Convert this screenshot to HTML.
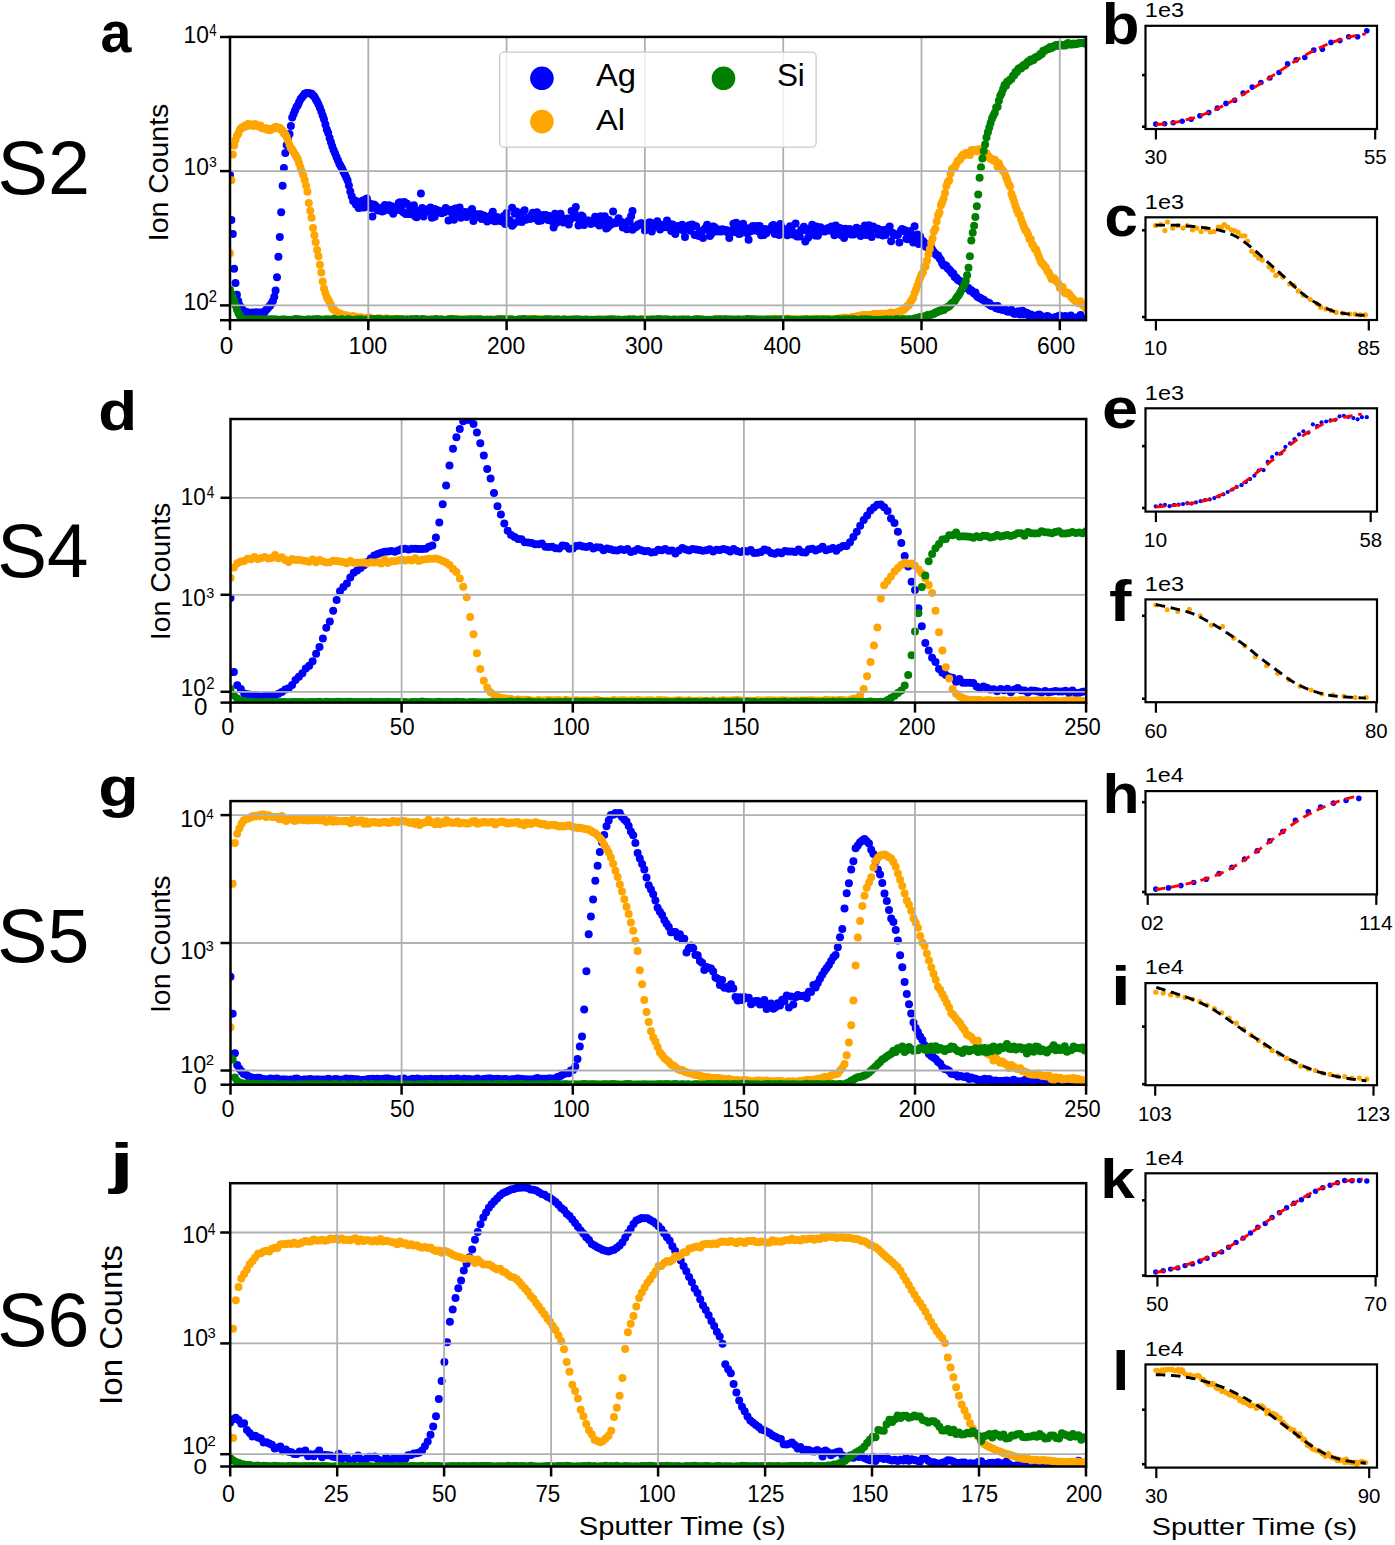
<!DOCTYPE html>
<html><head><meta charset="utf-8"><style>html,body{margin:0;padding:0;background:#fff;overflow:hidden;}svg{display:block;}svg text{font-family:"Liberation Sans",sans-serif;}</style></head><body>
<svg width="1395" height="1545" viewBox="0 0 1395 1545" font-family="Liberation Sans, sans-serif">
<rect width="1395" height="1545" fill="#fff"/>
<clipPath id="cpa"><rect x="230" y="36.9" width="856" height="283.3"/></clipPath>
<g clip-path="url(#cpa)">
<g fill="#0000ff"><circle cx="230.0" cy="175.0" r="4.0"/><circle cx="231.4" cy="220.1" r="4.0"/><circle cx="232.8" cy="233.9" r="4.0"/><circle cx="234.1" cy="268.7" r="4.0"/><circle cx="235.5" cy="282.9" r="4.0"/><circle cx="236.9" cy="294.7" r="4.0"/><circle cx="238.3" cy="301.1" r="4.0"/><circle cx="239.7" cy="305.4" r="4.0"/><circle cx="241.1" cy="307.6" r="4.0"/><circle cx="242.4" cy="309.6" r="4.0"/><circle cx="243.8" cy="311.1" r="4.0"/><circle cx="245.2" cy="311.8" r="4.0"/><circle cx="246.6" cy="312.2" r="4.0"/><circle cx="248.0" cy="312.4" r="4.0"/><circle cx="249.4" cy="312.9" r="4.0"/><circle cx="250.7" cy="313.2" r="4.0"/><circle cx="252.1" cy="312.6" r="4.0"/><circle cx="253.5" cy="312.9" r="4.0"/><circle cx="254.9" cy="312.4" r="4.0"/><circle cx="256.3" cy="312.6" r="4.0"/><circle cx="257.7" cy="312.4" r="4.0"/><circle cx="259.0" cy="312.9" r="4.0"/><circle cx="260.4" cy="312.5" r="4.0"/><circle cx="261.8" cy="312.7" r="4.0"/><circle cx="263.2" cy="312.4" r="4.0"/><circle cx="264.6" cy="311.9" r="4.0"/><circle cx="266.0" cy="310.1" r="4.0"/><circle cx="267.3" cy="308.7" r="4.0"/><circle cx="268.7" cy="307.0" r="4.0"/><circle cx="270.1" cy="305.7" r="4.0"/><circle cx="271.5" cy="303.5" r="4.0"/><circle cx="272.9" cy="301.0" r="4.0"/><circle cx="274.3" cy="296.7" r="4.0"/><circle cx="275.6" cy="290.5" r="4.0"/><circle cx="277.0" cy="277.3" r="4.0"/><circle cx="278.4" cy="256.8" r="4.0"/><circle cx="279.8" cy="237.0" r="4.0"/><circle cx="281.2" cy="212.3" r="4.0"/><circle cx="282.6" cy="185.8" r="4.0"/><circle cx="283.9" cy="168.0" r="4.0"/><circle cx="285.3" cy="153.0" r="4.0"/><circle cx="286.7" cy="145.0" r="4.0"/><circle cx="288.1" cy="139.1" r="4.0"/><circle cx="289.5" cy="134.0" r="4.0"/><circle cx="290.9" cy="126.0" r="4.0"/><circle cx="292.2" cy="117.5" r="4.0"/><circle cx="293.6" cy="114.0" r="4.0"/><circle cx="295.0" cy="110.5" r="4.0"/><circle cx="296.4" cy="107.2" r="4.0"/><circle cx="297.8" cy="105.2" r="4.0"/><circle cx="299.1" cy="102.2" r="4.0"/><circle cx="300.5" cy="99.2" r="4.0"/><circle cx="301.9" cy="97.5" r="4.0"/><circle cx="303.3" cy="95.7" r="4.0"/><circle cx="304.7" cy="93.7" r="4.0"/><circle cx="306.1" cy="93.2" r="4.0"/><circle cx="307.4" cy="93.0" r="4.0"/><circle cx="308.8" cy="93.2" r="4.0"/><circle cx="310.2" cy="93.6" r="4.0"/><circle cx="311.6" cy="93.8" r="4.0"/><circle cx="313.0" cy="95.3" r="4.0"/><circle cx="314.4" cy="96.7" r="4.0"/><circle cx="315.7" cy="99.3" r="4.0"/><circle cx="317.1" cy="101.6" r="4.0"/><circle cx="318.5" cy="104.6" r="4.0"/><circle cx="319.9" cy="107.8" r="4.0"/><circle cx="321.3" cy="111.4" r="4.0"/><circle cx="322.7" cy="115.4" r="4.0"/><circle cx="324.0" cy="119.3" r="4.0"/><circle cx="325.4" cy="124.4" r="4.0"/><circle cx="326.8" cy="129.4" r="4.0"/><circle cx="328.2" cy="133.1" r="4.0"/><circle cx="329.6" cy="138.0" r="4.0"/><circle cx="331.0" cy="142.3" r="4.0"/><circle cx="332.3" cy="146.6" r="4.0"/><circle cx="333.7" cy="150.2" r="4.0"/><circle cx="335.1" cy="153.5" r="4.0"/><circle cx="336.5" cy="156.9" r="4.0"/><circle cx="337.9" cy="160.2" r="4.0"/><circle cx="339.3" cy="163.7" r="4.0"/><circle cx="340.6" cy="165.9" r="4.0"/><circle cx="342.0" cy="168.6" r="4.0"/><circle cx="343.4" cy="171.5" r="4.0"/><circle cx="344.8" cy="174.3" r="4.0"/><circle cx="346.2" cy="177.3" r="4.0"/><circle cx="347.6" cy="180.5" r="4.0"/><circle cx="348.9" cy="185.5" r="4.0"/><circle cx="350.3" cy="191.4" r="4.0"/><circle cx="351.7" cy="196.3" r="4.0"/><circle cx="353.1" cy="201.1" r="4.0"/><circle cx="354.5" cy="200.3" r="4.0"/><circle cx="355.9" cy="204.6" r="4.0"/><circle cx="357.2" cy="201.6" r="4.0"/><circle cx="358.6" cy="208.0" r="4.0"/><circle cx="360.0" cy="204.4" r="4.0"/><circle cx="361.4" cy="207.4" r="4.0"/><circle cx="362.8" cy="200.4" r="4.0"/><circle cx="364.2" cy="207.4" r="4.0"/><circle cx="365.5" cy="199.7" r="4.0"/><circle cx="366.9" cy="198.6" r="4.0"/><circle cx="368.3" cy="205.8" r="4.0"/><circle cx="369.7" cy="203.6" r="4.0"/><circle cx="371.1" cy="208.1" r="4.0"/><circle cx="372.4" cy="216.6" r="4.0"/><circle cx="373.8" cy="204.5" r="4.0"/><circle cx="375.2" cy="205.5" r="4.0"/><circle cx="376.6" cy="209.0" r="4.0"/><circle cx="378.0" cy="210.4" r="4.0"/><circle cx="379.4" cy="207.8" r="4.0"/><circle cx="380.7" cy="207.9" r="4.0"/><circle cx="382.1" cy="211.6" r="4.0"/><circle cx="383.5" cy="211.1" r="4.0"/><circle cx="384.9" cy="205.0" r="4.0"/><circle cx="386.3" cy="208.9" r="4.0"/><circle cx="387.7" cy="209.5" r="4.0"/><circle cx="389.0" cy="205.2" r="4.0"/><circle cx="390.4" cy="210.6" r="4.0"/><circle cx="391.8" cy="206.2" r="4.0"/><circle cx="393.2" cy="213.7" r="4.0"/><circle cx="394.6" cy="210.7" r="4.0"/><circle cx="396.0" cy="210.3" r="4.0"/><circle cx="397.3" cy="207.7" r="4.0"/><circle cx="398.7" cy="209.7" r="4.0"/><circle cx="400.1" cy="202.3" r="4.0"/><circle cx="401.5" cy="205.8" r="4.0"/><circle cx="402.9" cy="211.9" r="4.0"/><circle cx="404.3" cy="202.1" r="4.0"/><circle cx="405.6" cy="214.1" r="4.0"/><circle cx="407.0" cy="203.8" r="4.0"/><circle cx="408.4" cy="213.9" r="4.0"/><circle cx="409.8" cy="207.6" r="4.0"/><circle cx="411.2" cy="214.2" r="4.0"/><circle cx="412.6" cy="211.7" r="4.0"/><circle cx="413.9" cy="205.2" r="4.0"/><circle cx="415.3" cy="216.4" r="4.0"/><circle cx="416.7" cy="217.3" r="4.0"/><circle cx="418.1" cy="211.4" r="4.0"/><circle cx="419.5" cy="210.7" r="4.0"/><circle cx="420.9" cy="211.2" r="4.0"/><circle cx="422.2" cy="208.1" r="4.0"/><circle cx="423.6" cy="216.5" r="4.0"/><circle cx="425.0" cy="210.0" r="4.0"/><circle cx="426.4" cy="212.1" r="4.0"/><circle cx="427.8" cy="209.2" r="4.0"/><circle cx="429.2" cy="210.0" r="4.0"/><circle cx="430.5" cy="207.4" r="4.0"/><circle cx="431.9" cy="217.7" r="4.0"/><circle cx="433.3" cy="212.1" r="4.0"/><circle cx="434.7" cy="216.7" r="4.0"/><circle cx="436.1" cy="213.0" r="4.0"/><circle cx="437.4" cy="210.3" r="4.0"/><circle cx="438.8" cy="211.8" r="4.0"/><circle cx="440.2" cy="211.0" r="4.0"/><circle cx="441.6" cy="213.3" r="4.0"/><circle cx="443.0" cy="211.9" r="4.0"/><circle cx="444.4" cy="212.3" r="4.0"/><circle cx="445.7" cy="208.1" r="4.0"/><circle cx="447.1" cy="210.5" r="4.0"/><circle cx="448.5" cy="220.4" r="4.0"/><circle cx="449.9" cy="211.2" r="4.0"/><circle cx="451.3" cy="209.8" r="4.0"/><circle cx="452.7" cy="215.5" r="4.0"/><circle cx="454.0" cy="219.8" r="4.0"/><circle cx="455.4" cy="208.5" r="4.0"/><circle cx="456.8" cy="213.6" r="4.0"/><circle cx="458.2" cy="212.0" r="4.0"/><circle cx="459.6" cy="207.6" r="4.0"/><circle cx="461.0" cy="217.7" r="4.0"/><circle cx="462.3" cy="214.8" r="4.0"/><circle cx="463.7" cy="215.3" r="4.0"/><circle cx="465.1" cy="212.1" r="4.0"/><circle cx="466.5" cy="217.0" r="4.0"/><circle cx="467.9" cy="213.1" r="4.0"/><circle cx="469.3" cy="214.8" r="4.0"/><circle cx="470.6" cy="211.1" r="4.0"/><circle cx="472.0" cy="210.8" r="4.0"/><circle cx="473.4" cy="221.1" r="4.0"/><circle cx="474.8" cy="213.8" r="4.0"/><circle cx="476.2" cy="217.2" r="4.0"/><circle cx="477.6" cy="216.0" r="4.0"/><circle cx="478.9" cy="214.4" r="4.0"/><circle cx="480.3" cy="214.3" r="4.0"/><circle cx="481.7" cy="218.9" r="4.0"/><circle cx="483.1" cy="215.3" r="4.0"/><circle cx="484.5" cy="216.0" r="4.0"/><circle cx="485.9" cy="216.8" r="4.0"/><circle cx="487.2" cy="221.6" r="4.0"/><circle cx="488.6" cy="219.7" r="4.0"/><circle cx="490.0" cy="218.6" r="4.0"/><circle cx="491.4" cy="214.9" r="4.0"/><circle cx="492.8" cy="211.7" r="4.0"/><circle cx="494.2" cy="221.1" r="4.0"/><circle cx="495.5" cy="221.3" r="4.0"/><circle cx="496.9" cy="216.9" r="4.0"/><circle cx="498.3" cy="219.7" r="4.0"/><circle cx="499.7" cy="220.8" r="4.0"/><circle cx="501.1" cy="221.1" r="4.0"/><circle cx="502.5" cy="221.5" r="4.0"/><circle cx="503.8" cy="216.1" r="4.0"/><circle cx="505.2" cy="224.0" r="4.0"/><circle cx="506.6" cy="213.0" r="4.0"/><circle cx="508.0" cy="221.5" r="4.0"/><circle cx="509.4" cy="220.1" r="4.0"/><circle cx="510.7" cy="221.7" r="4.0"/><circle cx="512.1" cy="225.7" r="4.0"/><circle cx="513.5" cy="224.2" r="4.0"/><circle cx="514.9" cy="213.7" r="4.0"/><circle cx="516.3" cy="211.6" r="4.0"/><circle cx="517.7" cy="221.7" r="4.0"/><circle cx="519.0" cy="214.4" r="4.0"/><circle cx="520.4" cy="218.4" r="4.0"/><circle cx="521.8" cy="221.9" r="4.0"/><circle cx="523.2" cy="212.0" r="4.0"/><circle cx="524.6" cy="210.2" r="4.0"/><circle cx="526.0" cy="219.7" r="4.0"/><circle cx="527.3" cy="218.9" r="4.0"/><circle cx="528.7" cy="217.7" r="4.0"/><circle cx="530.1" cy="218.9" r="4.0"/><circle cx="531.5" cy="215.3" r="4.0"/><circle cx="532.9" cy="212.8" r="4.0"/><circle cx="534.3" cy="218.2" r="4.0"/><circle cx="535.6" cy="215.0" r="4.0"/><circle cx="537.0" cy="212.3" r="4.0"/><circle cx="538.4" cy="221.0" r="4.0"/><circle cx="539.8" cy="218.7" r="4.0"/><circle cx="541.2" cy="220.6" r="4.0"/><circle cx="542.6" cy="215.1" r="4.0"/><circle cx="543.9" cy="216.4" r="4.0"/><circle cx="545.3" cy="215.1" r="4.0"/><circle cx="546.7" cy="215.6" r="4.0"/><circle cx="548.1" cy="220.0" r="4.0"/><circle cx="549.5" cy="216.1" r="4.0"/><circle cx="550.9" cy="220.7" r="4.0"/><circle cx="552.2" cy="220.6" r="4.0"/><circle cx="553.6" cy="227.4" r="4.0"/><circle cx="555.0" cy="213.8" r="4.0"/><circle cx="556.4" cy="222.9" r="4.0"/><circle cx="557.8" cy="219.1" r="4.0"/><circle cx="559.2" cy="219.4" r="4.0"/><circle cx="560.5" cy="213.7" r="4.0"/><circle cx="561.9" cy="217.7" r="4.0"/><circle cx="563.3" cy="222.5" r="4.0"/><circle cx="564.7" cy="219.3" r="4.0"/><circle cx="566.1" cy="220.0" r="4.0"/><circle cx="567.5" cy="218.5" r="4.0"/><circle cx="568.8" cy="224.4" r="4.0"/><circle cx="570.2" cy="219.7" r="4.0"/><circle cx="571.6" cy="211.0" r="4.0"/><circle cx="573.0" cy="217.1" r="4.0"/><circle cx="574.4" cy="212.1" r="4.0"/><circle cx="575.8" cy="207.0" r="4.0"/><circle cx="577.1" cy="217.9" r="4.0"/><circle cx="578.5" cy="225.4" r="4.0"/><circle cx="579.9" cy="220.4" r="4.0"/><circle cx="581.3" cy="215.5" r="4.0"/><circle cx="582.7" cy="216.5" r="4.0"/><circle cx="584.0" cy="224.9" r="4.0"/><circle cx="585.4" cy="221.1" r="4.0"/><circle cx="586.8" cy="220.7" r="4.0"/><circle cx="588.2" cy="220.4" r="4.0"/><circle cx="589.6" cy="220.8" r="4.0"/><circle cx="591.0" cy="223.9" r="4.0"/><circle cx="592.3" cy="223.0" r="4.0"/><circle cx="593.7" cy="221.7" r="4.0"/><circle cx="595.1" cy="216.8" r="4.0"/><circle cx="596.5" cy="223.1" r="4.0"/><circle cx="597.9" cy="218.4" r="4.0"/><circle cx="599.3" cy="225.6" r="4.0"/><circle cx="600.6" cy="216.2" r="4.0"/><circle cx="602.0" cy="220.8" r="4.0"/><circle cx="603.4" cy="221.4" r="4.0"/><circle cx="604.8" cy="216.2" r="4.0"/><circle cx="606.2" cy="228.5" r="4.0"/><circle cx="607.6" cy="227.6" r="4.0"/><circle cx="608.9" cy="220.0" r="4.0"/><circle cx="610.3" cy="225.0" r="4.0"/><circle cx="611.7" cy="223.5" r="4.0"/><circle cx="613.1" cy="211.6" r="4.0"/><circle cx="614.5" cy="223.2" r="4.0"/><circle cx="615.9" cy="222.0" r="4.0"/><circle cx="617.2" cy="222.7" r="4.0"/><circle cx="618.6" cy="218.2" r="4.0"/><circle cx="620.0" cy="221.5" r="4.0"/><circle cx="621.4" cy="222.0" r="4.0"/><circle cx="622.8" cy="227.5" r="4.0"/><circle cx="624.2" cy="224.2" r="4.0"/><circle cx="625.5" cy="223.0" r="4.0"/><circle cx="626.9" cy="229.2" r="4.0"/><circle cx="628.3" cy="221.0" r="4.0"/><circle cx="629.7" cy="221.8" r="4.0"/><circle cx="631.1" cy="216.2" r="4.0"/><circle cx="632.5" cy="229.8" r="4.0"/><circle cx="633.8" cy="227.5" r="4.0"/><circle cx="635.2" cy="227.4" r="4.0"/><circle cx="636.6" cy="226.5" r="4.0"/><circle cx="638.0" cy="224.4" r="4.0"/><circle cx="639.4" cy="224.9" r="4.0"/><circle cx="640.8" cy="223.2" r="4.0"/><circle cx="642.1" cy="223.5" r="4.0"/><circle cx="643.5" cy="224.6" r="4.0"/><circle cx="644.9" cy="230.5" r="4.0"/><circle cx="646.3" cy="226.8" r="4.0"/><circle cx="647.7" cy="224.5" r="4.0"/><circle cx="649.0" cy="222.5" r="4.0"/><circle cx="650.4" cy="222.5" r="4.0"/><circle cx="651.8" cy="231.5" r="4.0"/><circle cx="653.2" cy="227.3" r="4.0"/><circle cx="654.6" cy="225.7" r="4.0"/><circle cx="656.0" cy="224.2" r="4.0"/><circle cx="657.3" cy="221.3" r="4.0"/><circle cx="658.7" cy="225.6" r="4.0"/><circle cx="660.1" cy="229.6" r="4.0"/><circle cx="661.5" cy="224.7" r="4.0"/><circle cx="662.9" cy="225.5" r="4.0"/><circle cx="664.3" cy="225.7" r="4.0"/><circle cx="665.6" cy="227.2" r="4.0"/><circle cx="667.0" cy="220.6" r="4.0"/><circle cx="668.4" cy="226.2" r="4.0"/><circle cx="669.8" cy="223.9" r="4.0"/><circle cx="671.2" cy="231.0" r="4.0"/><circle cx="672.6" cy="224.6" r="4.0"/><circle cx="673.9" cy="230.1" r="4.0"/><circle cx="675.3" cy="234.1" r="4.0"/><circle cx="676.7" cy="226.9" r="4.0"/><circle cx="678.1" cy="225.9" r="4.0"/><circle cx="679.5" cy="229.2" r="4.0"/><circle cx="680.9" cy="228.6" r="4.0"/><circle cx="682.2" cy="224.8" r="4.0"/><circle cx="683.6" cy="230.7" r="4.0"/><circle cx="685.0" cy="237.1" r="4.0"/><circle cx="686.4" cy="228.1" r="4.0"/><circle cx="687.8" cy="228.5" r="4.0"/><circle cx="689.2" cy="225.2" r="4.0"/><circle cx="690.5" cy="230.8" r="4.0"/><circle cx="691.9" cy="224.6" r="4.0"/><circle cx="693.3" cy="225.3" r="4.0"/><circle cx="694.7" cy="234.9" r="4.0"/><circle cx="696.1" cy="226.2" r="4.0"/><circle cx="697.5" cy="234.2" r="4.0"/><circle cx="698.8" cy="236.1" r="4.0"/><circle cx="700.2" cy="231.0" r="4.0"/><circle cx="701.6" cy="232.2" r="4.0"/><circle cx="703.0" cy="237.9" r="4.0"/><circle cx="704.4" cy="229.3" r="4.0"/><circle cx="705.8" cy="227.7" r="4.0"/><circle cx="707.1" cy="224.7" r="4.0"/><circle cx="708.5" cy="230.3" r="4.0"/><circle cx="709.9" cy="236.1" r="4.0"/><circle cx="711.3" cy="234.1" r="4.0"/><circle cx="712.7" cy="226.5" r="4.0"/><circle cx="714.0" cy="226.8" r="4.0"/><circle cx="715.4" cy="228.3" r="4.0"/><circle cx="716.8" cy="231.5" r="4.0"/><circle cx="718.2" cy="229.5" r="4.0"/><circle cx="719.6" cy="231.2" r="4.0"/><circle cx="721.0" cy="231.6" r="4.0"/><circle cx="722.3" cy="229.2" r="4.0"/><circle cx="723.7" cy="230.2" r="4.0"/><circle cx="725.1" cy="231.2" r="4.0"/><circle cx="726.5" cy="230.1" r="4.0"/><circle cx="727.9" cy="232.5" r="4.0"/><circle cx="729.3" cy="237.9" r="4.0"/><circle cx="730.6" cy="232.8" r="4.0"/><circle cx="732.0" cy="230.7" r="4.0"/><circle cx="733.4" cy="223.8" r="4.0"/><circle cx="734.8" cy="232.1" r="4.0"/><circle cx="736.2" cy="222.7" r="4.0"/><circle cx="737.6" cy="224.9" r="4.0"/><circle cx="738.9" cy="234.0" r="4.0"/><circle cx="740.3" cy="233.4" r="4.0"/><circle cx="741.7" cy="230.0" r="4.0"/><circle cx="743.1" cy="223.8" r="4.0"/><circle cx="744.5" cy="229.1" r="4.0"/><circle cx="745.9" cy="227.9" r="4.0"/><circle cx="747.2" cy="233.2" r="4.0"/><circle cx="748.6" cy="239.7" r="4.0"/><circle cx="750.0" cy="231.5" r="4.0"/><circle cx="751.4" cy="227.6" r="4.0"/><circle cx="752.8" cy="226.0" r="4.0"/><circle cx="754.2" cy="230.5" r="4.0"/><circle cx="755.5" cy="230.0" r="4.0"/><circle cx="756.9" cy="226.1" r="4.0"/><circle cx="758.3" cy="231.2" r="4.0"/><circle cx="759.7" cy="226.1" r="4.0"/><circle cx="761.1" cy="235.2" r="4.0"/><circle cx="762.5" cy="235.0" r="4.0"/><circle cx="763.8" cy="235.1" r="4.0"/><circle cx="765.2" cy="228.9" r="4.0"/><circle cx="766.6" cy="232.9" r="4.0"/><circle cx="768.0" cy="230.3" r="4.0"/><circle cx="769.4" cy="229.3" r="4.0"/><circle cx="770.8" cy="229.5" r="4.0"/><circle cx="772.1" cy="225.7" r="4.0"/><circle cx="773.5" cy="225.1" r="4.0"/><circle cx="774.9" cy="234.1" r="4.0"/><circle cx="776.3" cy="230.1" r="4.0"/><circle cx="777.7" cy="231.8" r="4.0"/><circle cx="779.1" cy="235.0" r="4.0"/><circle cx="780.4" cy="224.0" r="4.0"/><circle cx="781.8" cy="227.8" r="4.0"/><circle cx="783.2" cy="231.7" r="4.0"/><circle cx="784.6" cy="232.6" r="4.0"/><circle cx="786.0" cy="229.5" r="4.0"/><circle cx="787.3" cy="235.2" r="4.0"/><circle cx="788.7" cy="231.9" r="4.0"/><circle cx="790.1" cy="226.2" r="4.0"/><circle cx="791.5" cy="227.4" r="4.0"/><circle cx="792.9" cy="234.4" r="4.0"/><circle cx="794.3" cy="233.0" r="4.0"/><circle cx="795.6" cy="223.6" r="4.0"/><circle cx="797.0" cy="236.6" r="4.0"/><circle cx="798.4" cy="233.6" r="4.0"/><circle cx="799.8" cy="236.6" r="4.0"/><circle cx="801.2" cy="229.7" r="4.0"/><circle cx="802.6" cy="230.1" r="4.0"/><circle cx="803.9" cy="226.8" r="4.0"/><circle cx="805.3" cy="241.4" r="4.0"/><circle cx="806.7" cy="230.6" r="4.0"/><circle cx="808.1" cy="237.7" r="4.0"/><circle cx="809.5" cy="228.8" r="4.0"/><circle cx="810.9" cy="232.0" r="4.0"/><circle cx="812.2" cy="224.7" r="4.0"/><circle cx="813.6" cy="229.9" r="4.0"/><circle cx="815.0" cy="235.4" r="4.0"/><circle cx="816.4" cy="226.4" r="4.0"/><circle cx="817.8" cy="235.7" r="4.0"/><circle cx="819.2" cy="232.8" r="4.0"/><circle cx="820.5" cy="227.3" r="4.0"/><circle cx="821.9" cy="229.5" r="4.0"/><circle cx="823.3" cy="229.7" r="4.0"/><circle cx="824.7" cy="231.4" r="4.0"/><circle cx="826.1" cy="229.4" r="4.0"/><circle cx="827.5" cy="228.3" r="4.0"/><circle cx="828.8" cy="230.4" r="4.0"/><circle cx="830.2" cy="227.5" r="4.0"/><circle cx="831.6" cy="226.5" r="4.0"/><circle cx="833.0" cy="231.5" r="4.0"/><circle cx="834.4" cy="235.2" r="4.0"/><circle cx="835.8" cy="225.6" r="4.0"/><circle cx="837.1" cy="231.8" r="4.0"/><circle cx="838.5" cy="229.2" r="4.0"/><circle cx="839.9" cy="227.9" r="4.0"/><circle cx="841.3" cy="235.2" r="4.0"/><circle cx="842.7" cy="229.8" r="4.0"/><circle cx="844.1" cy="237.9" r="4.0"/><circle cx="845.4" cy="228.8" r="4.0"/><circle cx="846.8" cy="233.5" r="4.0"/><circle cx="848.2" cy="231.1" r="4.0"/><circle cx="849.6" cy="229.0" r="4.0"/><circle cx="851.0" cy="234.4" r="4.0"/><circle cx="852.4" cy="231.5" r="4.0"/><circle cx="853.7" cy="234.5" r="4.0"/><circle cx="855.1" cy="232.0" r="4.0"/><circle cx="856.5" cy="227.8" r="4.0"/><circle cx="857.9" cy="231.8" r="4.0"/><circle cx="859.3" cy="232.5" r="4.0"/><circle cx="860.6" cy="236.1" r="4.0"/><circle cx="862.0" cy="228.7" r="4.0"/><circle cx="863.4" cy="232.2" r="4.0"/><circle cx="864.8" cy="225.5" r="4.0"/><circle cx="866.2" cy="235.1" r="4.0"/><circle cx="867.6" cy="228.2" r="4.0"/><circle cx="868.9" cy="225.3" r="4.0"/><circle cx="870.3" cy="232.4" r="4.0"/><circle cx="871.7" cy="237.1" r="4.0"/><circle cx="873.1" cy="226.6" r="4.0"/><circle cx="874.5" cy="228.4" r="4.0"/><circle cx="875.9" cy="229.9" r="4.0"/><circle cx="877.2" cy="228.4" r="4.0"/><circle cx="878.6" cy="234.5" r="4.0"/><circle cx="880.0" cy="229.8" r="4.0"/><circle cx="881.4" cy="230.2" r="4.0"/><circle cx="882.8" cy="235.6" r="4.0"/><circle cx="884.2" cy="230.3" r="4.0"/><circle cx="885.5" cy="235.1" r="4.0"/><circle cx="886.9" cy="229.6" r="4.0"/><circle cx="888.3" cy="228.8" r="4.0"/><circle cx="889.7" cy="226.4" r="4.0"/><circle cx="891.1" cy="241.3" r="4.0"/><circle cx="892.5" cy="232.7" r="4.0"/><circle cx="893.8" cy="235.1" r="4.0"/><circle cx="895.2" cy="234.2" r="4.0"/><circle cx="896.6" cy="235.1" r="4.0"/><circle cx="898.0" cy="234.8" r="4.0"/><circle cx="899.4" cy="242.4" r="4.0"/><circle cx="900.8" cy="230.8" r="4.0"/><circle cx="902.1" cy="228.9" r="4.0"/><circle cx="903.5" cy="231.3" r="4.0"/><circle cx="904.9" cy="230.2" r="4.0"/><circle cx="906.3" cy="238.7" r="4.0"/><circle cx="907.7" cy="239.3" r="4.0"/><circle cx="909.1" cy="232.4" r="4.0"/><circle cx="910.4" cy="230.9" r="4.0"/><circle cx="911.8" cy="235.3" r="4.0"/><circle cx="913.2" cy="242.6" r="4.0"/><circle cx="914.6" cy="226.2" r="4.0"/><circle cx="916.0" cy="240.3" r="4.0"/><circle cx="917.4" cy="234.6" r="4.0"/><circle cx="918.7" cy="243.9" r="4.0"/><circle cx="920.1" cy="236.4" r="4.0"/><circle cx="921.5" cy="241.3" r="4.0"/><circle cx="922.9" cy="240.9" r="4.0"/><circle cx="924.3" cy="242.7" r="4.0"/><circle cx="925.6" cy="246.6" r="4.0"/><circle cx="927.0" cy="247.1" r="4.0"/><circle cx="928.4" cy="246.8" r="4.0"/><circle cx="929.8" cy="247.3" r="4.0"/><circle cx="931.2" cy="247.3" r="4.0"/><circle cx="932.6" cy="250.5" r="4.0"/><circle cx="933.9" cy="252.3" r="4.0"/><circle cx="935.3" cy="253.7" r="4.0"/><circle cx="936.7" cy="255.2" r="4.0"/><circle cx="938.1" cy="255.5" r="4.0"/><circle cx="939.5" cy="258.3" r="4.0"/><circle cx="940.9" cy="259.9" r="4.0"/><circle cx="942.2" cy="263.2" r="4.0"/><circle cx="943.6" cy="265.6" r="4.0"/><circle cx="945.0" cy="264.9" r="4.0"/><circle cx="946.4" cy="265.9" r="4.0"/><circle cx="947.8" cy="268.4" r="4.0"/><circle cx="949.2" cy="269.4" r="4.0"/><circle cx="950.5" cy="270.9" r="4.0"/><circle cx="951.9" cy="273.2" r="4.0"/><circle cx="953.3" cy="273.5" r="4.0"/><circle cx="954.7" cy="277.0" r="4.0"/><circle cx="956.1" cy="277.6" r="4.0"/><circle cx="957.5" cy="279.5" r="4.0"/><circle cx="958.8" cy="280.4" r="4.0"/><circle cx="960.2" cy="281.1" r="4.0"/><circle cx="961.6" cy="282.2" r="4.0"/><circle cx="963.0" cy="284.3" r="4.0"/><circle cx="964.4" cy="285.2" r="4.0"/><circle cx="965.8" cy="287.4" r="4.0"/><circle cx="967.1" cy="288.3" r="4.0"/><circle cx="968.5" cy="287.9" r="4.0"/><circle cx="969.9" cy="290.7" r="4.0"/><circle cx="971.3" cy="290.2" r="4.0"/><circle cx="972.7" cy="292.1" r="4.0"/><circle cx="974.1" cy="293.6" r="4.0"/><circle cx="975.4" cy="292.5" r="4.0"/><circle cx="976.8" cy="296.1" r="4.0"/><circle cx="978.2" cy="297.2" r="4.0"/><circle cx="979.6" cy="297.8" r="4.0"/><circle cx="981.0" cy="298.5" r="4.0"/><circle cx="982.4" cy="299.5" r="4.0"/><circle cx="983.7" cy="299.7" r="4.0"/><circle cx="985.1" cy="301.5" r="4.0"/><circle cx="986.5" cy="302.1" r="4.0"/><circle cx="987.9" cy="303.7" r="4.0"/><circle cx="989.3" cy="303.0" r="4.0"/><circle cx="990.6" cy="305.5" r="4.0"/><circle cx="992.0" cy="306.1" r="4.0"/><circle cx="993.4" cy="306.3" r="4.0"/><circle cx="994.8" cy="306.5" r="4.0"/><circle cx="996.2" cy="308.2" r="4.0"/><circle cx="997.6" cy="306.0" r="4.0"/><circle cx="998.9" cy="309.0" r="4.0"/><circle cx="1000.3" cy="309.2" r="4.0"/><circle cx="1001.7" cy="309.6" r="4.0"/><circle cx="1003.1" cy="310.1" r="4.0"/><circle cx="1004.5" cy="309.2" r="4.0"/><circle cx="1005.9" cy="310.0" r="4.0"/><circle cx="1007.2" cy="311.5" r="4.0"/><circle cx="1008.6" cy="311.5" r="4.0"/><circle cx="1010.0" cy="311.6" r="4.0"/><circle cx="1011.4" cy="309.8" r="4.0"/><circle cx="1012.8" cy="312.6" r="4.0"/><circle cx="1014.2" cy="313.7" r="4.0"/><circle cx="1015.5" cy="313.7" r="4.0"/><circle cx="1016.9" cy="313.1" r="4.0"/><circle cx="1018.3" cy="311.2" r="4.0"/><circle cx="1019.7" cy="314.4" r="4.0"/><circle cx="1021.1" cy="313.3" r="4.0"/><circle cx="1022.5" cy="310.7" r="4.0"/><circle cx="1023.8" cy="314.4" r="4.0"/><circle cx="1025.2" cy="312.4" r="4.0"/><circle cx="1026.6" cy="312.8" r="4.0"/><circle cx="1028.0" cy="313.8" r="4.0"/><circle cx="1029.4" cy="316.3" r="4.0"/><circle cx="1030.8" cy="314.5" r="4.0"/><circle cx="1032.1" cy="315.5" r="4.0"/><circle cx="1033.5" cy="317.5" r="4.0"/><circle cx="1034.9" cy="317.5" r="4.0"/><circle cx="1036.3" cy="315.6" r="4.0"/><circle cx="1037.7" cy="315.6" r="4.0"/><circle cx="1039.1" cy="314.5" r="4.0"/><circle cx="1040.4" cy="315.4" r="4.0"/><circle cx="1041.8" cy="316.9" r="4.0"/><circle cx="1043.2" cy="317.0" r="4.0"/><circle cx="1044.6" cy="316.8" r="4.0"/><circle cx="1046.0" cy="317.9" r="4.0"/><circle cx="1047.4" cy="315.9" r="4.0"/><circle cx="1048.7" cy="316.9" r="4.0"/><circle cx="1050.1" cy="317.9" r="4.0"/><circle cx="1051.5" cy="317.8" r="4.0"/><circle cx="1052.9" cy="318.5" r="4.0"/><circle cx="1054.3" cy="317.8" r="4.0"/><circle cx="1055.7" cy="317.0" r="4.0"/><circle cx="1057.0" cy="317.9" r="4.0"/><circle cx="1058.4" cy="316.3" r="4.0"/><circle cx="1059.8" cy="315.6" r="4.0"/><circle cx="1061.2" cy="318.4" r="4.0"/><circle cx="1062.6" cy="317.7" r="4.0"/><circle cx="1063.9" cy="318.2" r="4.0"/><circle cx="1065.3" cy="315.9" r="4.0"/><circle cx="1066.7" cy="317.5" r="4.0"/><circle cx="1068.1" cy="317.3" r="4.0"/><circle cx="1069.5" cy="317.0" r="4.0"/><circle cx="1070.9" cy="315.4" r="4.0"/><circle cx="1072.2" cy="317.8" r="4.0"/><circle cx="1073.6" cy="319.3" r="4.0"/><circle cx="1075.0" cy="318.7" r="4.0"/><circle cx="1076.4" cy="317.6" r="4.0"/><circle cx="1077.8" cy="318.4" r="4.0"/><circle cx="1079.2" cy="319.3" r="4.0"/><circle cx="1080.5" cy="315.1" r="4.0"/><circle cx="1081.9" cy="318.3" r="4.0"/><circle cx="1083.3" cy="319.1" r="4.0"/><circle cx="1084.7" cy="319.3" r="4.0"/><circle cx="1086.1" cy="320.5" r="4.0"/><circle cx="1087.5" cy="319.9" r="4.0"/><circle cx="420.9" cy="193.5" r="4.0"/><circle cx="512.1" cy="207.7" r="4.0"/><circle cx="472.0" cy="209.0" r="4.0"/><circle cx="632.5" cy="211.0" r="4.0"/><circle cx="398.7" cy="203.0" r="4.0"/><circle cx="434.7" cy="209.0" r="4.0"/></g>
<g fill="#ffa500"><circle cx="230.0" cy="253.3" r="4.0"/><circle cx="231.4" cy="180.2" r="4.0"/><circle cx="232.8" cy="154.6" r="4.0"/><circle cx="234.1" cy="145.6" r="4.0"/><circle cx="235.5" cy="140.0" r="4.0"/><circle cx="236.9" cy="135.7" r="4.0"/><circle cx="238.3" cy="133.7" r="4.0"/><circle cx="239.7" cy="129.9" r="4.0"/><circle cx="241.1" cy="128.2" r="4.0"/><circle cx="242.4" cy="127.2" r="4.0"/><circle cx="243.8" cy="127.3" r="4.0"/><circle cx="245.2" cy="125.5" r="4.0"/><circle cx="246.6" cy="126.2" r="4.0"/><circle cx="248.0" cy="123.9" r="4.0"/><circle cx="249.4" cy="124.4" r="4.0"/><circle cx="250.7" cy="124.4" r="4.0"/><circle cx="252.1" cy="125.4" r="4.0"/><circle cx="253.5" cy="125.8" r="4.0"/><circle cx="254.9" cy="124.1" r="4.0"/><circle cx="256.3" cy="124.9" r="4.0"/><circle cx="257.7" cy="126.3" r="4.0"/><circle cx="259.0" cy="125.9" r="4.0"/><circle cx="260.4" cy="125.6" r="4.0"/><circle cx="261.8" cy="128.2" r="4.0"/><circle cx="263.2" cy="128.3" r="4.0"/><circle cx="264.6" cy="128.7" r="4.0"/><circle cx="266.0" cy="128.2" r="4.0"/><circle cx="267.3" cy="129.8" r="4.0"/><circle cx="268.7" cy="129.0" r="4.0"/><circle cx="270.1" cy="130.3" r="4.0"/><circle cx="271.5" cy="128.8" r="4.0"/><circle cx="272.9" cy="128.4" r="4.0"/><circle cx="274.3" cy="128.3" r="4.0"/><circle cx="275.6" cy="126.7" r="4.0"/><circle cx="277.0" cy="127.6" r="4.0"/><circle cx="278.4" cy="127.7" r="4.0"/><circle cx="279.8" cy="127.7" r="4.0"/><circle cx="281.2" cy="129.7" r="4.0"/><circle cx="282.6" cy="130.7" r="4.0"/><circle cx="283.9" cy="133.4" r="4.0"/><circle cx="285.3" cy="134.5" r="4.0"/><circle cx="286.7" cy="136.9" r="4.0"/><circle cx="288.1" cy="140.7" r="4.0"/><circle cx="289.5" cy="144.7" r="4.0"/><circle cx="290.9" cy="147.9" r="4.0"/><circle cx="292.2" cy="149.8" r="4.0"/><circle cx="293.6" cy="152.0" r="4.0"/><circle cx="295.0" cy="154.6" r="4.0"/><circle cx="296.4" cy="156.5" r="4.0"/><circle cx="297.8" cy="159.3" r="4.0"/><circle cx="299.1" cy="163.3" r="4.0"/><circle cx="300.5" cy="167.4" r="4.0"/><circle cx="301.9" cy="171.4" r="4.0"/><circle cx="303.3" cy="175.5" r="4.0"/><circle cx="304.7" cy="180.0" r="4.0"/><circle cx="306.1" cy="185.8" r="4.0"/><circle cx="307.4" cy="191.7" r="4.0"/><circle cx="308.8" cy="203.0" r="4.0"/><circle cx="310.2" cy="210.7" r="4.0"/><circle cx="311.6" cy="217.8" r="4.0"/><circle cx="313.0" cy="228.0" r="4.0"/><circle cx="314.4" cy="235.2" r="4.0"/><circle cx="315.7" cy="242.3" r="4.0"/><circle cx="317.1" cy="250.0" r="4.0"/><circle cx="318.5" cy="256.2" r="4.0"/><circle cx="319.9" cy="264.7" r="4.0"/><circle cx="321.3" cy="272.6" r="4.0"/><circle cx="322.7" cy="281.4" r="4.0"/><circle cx="324.0" cy="288.5" r="4.0"/><circle cx="325.4" cy="293.1" r="4.0"/><circle cx="326.8" cy="297.1" r="4.0"/><circle cx="328.2" cy="299.4" r="4.0"/><circle cx="329.6" cy="302.4" r="4.0"/><circle cx="331.0" cy="305.1" r="4.0"/><circle cx="332.3" cy="308.3" r="4.0"/><circle cx="333.7" cy="309.4" r="4.0"/><circle cx="335.1" cy="310.6" r="4.0"/><circle cx="336.5" cy="312.2" r="4.0"/><circle cx="337.9" cy="313.7" r="4.0"/><circle cx="339.3" cy="313.4" r="4.0"/><circle cx="340.6" cy="313.8" r="4.0"/><circle cx="342.0" cy="314.9" r="4.0"/><circle cx="343.4" cy="315.1" r="4.0"/><circle cx="344.8" cy="315.5" r="4.0"/><circle cx="346.2" cy="315.3" r="4.0"/><circle cx="347.6" cy="316.6" r="4.0"/><circle cx="348.9" cy="316.8" r="4.0"/><circle cx="350.3" cy="316.6" r="4.0"/><circle cx="351.7" cy="316.9" r="4.0"/><circle cx="353.1" cy="316.0" r="4.0"/><circle cx="354.5" cy="317.3" r="4.0"/><circle cx="355.9" cy="317.1" r="4.0"/><circle cx="357.2" cy="317.6" r="4.0"/><circle cx="358.6" cy="317.9" r="4.0"/><circle cx="360.0" cy="317.6" r="4.0"/><circle cx="361.4" cy="317.2" r="4.0"/><circle cx="362.8" cy="318.2" r="4.0"/><circle cx="364.2" cy="317.9" r="4.0"/><circle cx="365.5" cy="318.2" r="4.0"/><circle cx="366.9" cy="318.2" r="4.0"/><circle cx="368.3" cy="318.4" r="4.0"/><circle cx="369.7" cy="317.6" r="4.0"/><circle cx="371.1" cy="319.1" r="4.0"/><circle cx="372.4" cy="318.8" r="4.0"/><circle cx="373.8" cy="319.2" r="4.0"/><circle cx="375.2" cy="319.6" r="4.0"/><circle cx="376.6" cy="318.9" r="4.0"/><circle cx="378.0" cy="318.2" r="4.0"/><circle cx="379.4" cy="318.6" r="4.0"/><circle cx="380.7" cy="318.5" r="4.0"/><circle cx="382.1" cy="318.9" r="4.0"/><circle cx="383.5" cy="319.1" r="4.0"/><circle cx="384.9" cy="318.4" r="4.0"/><circle cx="386.3" cy="319.3" r="4.0"/><circle cx="387.7" cy="318.6" r="4.0"/><circle cx="389.0" cy="319.4" r="4.0"/><circle cx="390.4" cy="319.3" r="4.0"/><circle cx="391.8" cy="319.2" r="4.0"/><circle cx="393.2" cy="319.3" r="4.0"/><circle cx="394.6" cy="319.2" r="4.0"/><circle cx="396.0" cy="319.2" r="4.0"/><circle cx="397.3" cy="318.8" r="4.0"/><circle cx="398.7" cy="319.5" r="4.0"/><circle cx="400.1" cy="320.2" r="4.0"/><circle cx="401.5" cy="320.3" r="4.0"/><circle cx="402.9" cy="320.1" r="4.0"/><circle cx="404.3" cy="319.8" r="4.0"/><circle cx="405.6" cy="319.3" r="4.0"/><circle cx="407.0" cy="320.2" r="4.0"/><circle cx="408.4" cy="319.6" r="4.0"/><circle cx="409.8" cy="319.6" r="4.0"/><circle cx="411.2" cy="319.5" r="4.0"/><circle cx="412.6" cy="319.6" r="4.0"/><circle cx="413.9" cy="319.4" r="4.0"/><circle cx="415.3" cy="319.6" r="4.0"/><circle cx="416.7" cy="319.2" r="4.0"/><circle cx="418.1" cy="319.5" r="4.0"/><circle cx="419.5" cy="320.6" r="4.0"/><circle cx="420.9" cy="319.6" r="4.0"/><circle cx="422.2" cy="319.6" r="4.0"/><circle cx="423.6" cy="319.9" r="4.0"/><circle cx="425.0" cy="319.9" r="4.0"/><circle cx="426.4" cy="319.2" r="4.0"/><circle cx="427.8" cy="319.6" r="4.0"/><circle cx="429.2" cy="320.0" r="4.0"/><circle cx="430.5" cy="319.8" r="4.0"/><circle cx="431.9" cy="319.7" r="4.0"/><circle cx="433.3" cy="320.3" r="4.0"/><circle cx="434.7" cy="319.4" r="4.0"/><circle cx="436.1" cy="319.7" r="4.0"/><circle cx="437.4" cy="319.5" r="4.0"/><circle cx="438.8" cy="320.3" r="4.0"/><circle cx="440.2" cy="318.9" r="4.0"/><circle cx="441.6" cy="319.4" r="4.0"/><circle cx="443.0" cy="319.5" r="4.0"/><circle cx="444.4" cy="320.0" r="4.0"/><circle cx="445.7" cy="320.0" r="4.0"/><circle cx="447.1" cy="320.3" r="4.0"/><circle cx="448.5" cy="319.1" r="4.0"/><circle cx="449.9" cy="320.0" r="4.0"/><circle cx="451.3" cy="319.6" r="4.0"/><circle cx="452.7" cy="319.5" r="4.0"/><circle cx="454.0" cy="320.0" r="4.0"/><circle cx="455.4" cy="319.4" r="4.0"/><circle cx="456.8" cy="318.9" r="4.0"/><circle cx="458.2" cy="319.6" r="4.0"/><circle cx="459.6" cy="319.2" r="4.0"/><circle cx="461.0" cy="319.5" r="4.0"/><circle cx="462.3" cy="319.9" r="4.0"/><circle cx="463.7" cy="319.9" r="4.0"/><circle cx="465.1" cy="320.4" r="4.0"/><circle cx="466.5" cy="319.7" r="4.0"/><circle cx="467.9" cy="319.2" r="4.0"/><circle cx="469.3" cy="319.5" r="4.0"/><circle cx="470.6" cy="319.4" r="4.0"/><circle cx="472.0" cy="319.3" r="4.0"/><circle cx="473.4" cy="320.0" r="4.0"/><circle cx="474.8" cy="319.5" r="4.0"/><circle cx="476.2" cy="319.0" r="4.0"/><circle cx="477.6" cy="320.1" r="4.0"/><circle cx="478.9" cy="319.7" r="4.0"/><circle cx="480.3" cy="319.9" r="4.0"/><circle cx="481.7" cy="319.8" r="4.0"/><circle cx="483.1" cy="320.0" r="4.0"/><circle cx="484.5" cy="319.8" r="4.0"/><circle cx="485.9" cy="320.3" r="4.0"/><circle cx="487.2" cy="320.0" r="4.0"/><circle cx="488.6" cy="320.0" r="4.0"/><circle cx="490.0" cy="320.0" r="4.0"/><circle cx="491.4" cy="319.2" r="4.0"/><circle cx="492.8" cy="319.7" r="4.0"/><circle cx="494.2" cy="319.7" r="4.0"/><circle cx="495.5" cy="319.9" r="4.0"/><circle cx="496.9" cy="319.3" r="4.0"/><circle cx="498.3" cy="320.5" r="4.0"/><circle cx="499.7" cy="319.8" r="4.0"/><circle cx="501.1" cy="319.3" r="4.0"/><circle cx="502.5" cy="319.1" r="4.0"/><circle cx="503.8" cy="319.7" r="4.0"/><circle cx="505.2" cy="319.8" r="4.0"/><circle cx="506.6" cy="319.5" r="4.0"/><circle cx="508.0" cy="319.8" r="4.0"/><circle cx="509.4" cy="319.5" r="4.0"/><circle cx="510.7" cy="320.0" r="4.0"/><circle cx="512.1" cy="319.5" r="4.0"/><circle cx="513.5" cy="319.8" r="4.0"/><circle cx="514.9" cy="320.2" r="4.0"/><circle cx="516.3" cy="320.8" r="4.0"/><circle cx="517.7" cy="319.4" r="4.0"/><circle cx="519.0" cy="319.6" r="4.0"/><circle cx="520.4" cy="319.5" r="4.0"/><circle cx="521.8" cy="320.1" r="4.0"/><circle cx="523.2" cy="319.3" r="4.0"/><circle cx="524.6" cy="319.6" r="4.0"/><circle cx="526.0" cy="319.8" r="4.0"/><circle cx="527.3" cy="319.4" r="4.0"/><circle cx="528.7" cy="319.4" r="4.0"/><circle cx="530.1" cy="319.6" r="4.0"/><circle cx="531.5" cy="319.0" r="4.0"/><circle cx="532.9" cy="319.2" r="4.0"/><circle cx="534.3" cy="319.6" r="4.0"/><circle cx="535.6" cy="319.9" r="4.0"/><circle cx="537.0" cy="319.7" r="4.0"/><circle cx="538.4" cy="319.1" r="4.0"/><circle cx="539.8" cy="319.6" r="4.0"/><circle cx="541.2" cy="320.1" r="4.0"/><circle cx="542.6" cy="320.0" r="4.0"/><circle cx="543.9" cy="319.8" r="4.0"/><circle cx="545.3" cy="319.4" r="4.0"/><circle cx="546.7" cy="320.1" r="4.0"/><circle cx="548.1" cy="319.6" r="4.0"/><circle cx="549.5" cy="319.3" r="4.0"/><circle cx="550.9" cy="319.5" r="4.0"/><circle cx="552.2" cy="320.4" r="4.0"/><circle cx="553.6" cy="319.9" r="4.0"/><circle cx="555.0" cy="320.3" r="4.0"/><circle cx="556.4" cy="319.6" r="4.0"/><circle cx="557.8" cy="320.2" r="4.0"/><circle cx="559.2" cy="319.6" r="4.0"/><circle cx="560.5" cy="319.7" r="4.0"/><circle cx="561.9" cy="320.8" r="4.0"/><circle cx="563.3" cy="320.1" r="4.0"/><circle cx="564.7" cy="319.6" r="4.0"/><circle cx="566.1" cy="319.8" r="4.0"/><circle cx="567.5" cy="319.9" r="4.0"/><circle cx="568.8" cy="320.3" r="4.0"/><circle cx="570.2" cy="319.6" r="4.0"/><circle cx="571.6" cy="319.1" r="4.0"/><circle cx="573.0" cy="319.7" r="4.0"/><circle cx="574.4" cy="319.8" r="4.0"/><circle cx="575.8" cy="319.8" r="4.0"/><circle cx="577.1" cy="320.3" r="4.0"/><circle cx="578.5" cy="319.9" r="4.0"/><circle cx="579.9" cy="320.1" r="4.0"/><circle cx="581.3" cy="319.4" r="4.0"/><circle cx="582.7" cy="320.1" r="4.0"/><circle cx="584.0" cy="320.6" r="4.0"/><circle cx="585.4" cy="320.1" r="4.0"/><circle cx="586.8" cy="319.9" r="4.0"/><circle cx="588.2" cy="319.9" r="4.0"/><circle cx="589.6" cy="320.5" r="4.0"/><circle cx="591.0" cy="319.4" r="4.0"/><circle cx="592.3" cy="319.7" r="4.0"/><circle cx="593.7" cy="320.0" r="4.0"/><circle cx="595.1" cy="320.1" r="4.0"/><circle cx="596.5" cy="319.6" r="4.0"/><circle cx="597.9" cy="319.9" r="4.0"/><circle cx="599.3" cy="319.7" r="4.0"/><circle cx="600.6" cy="319.8" r="4.0"/><circle cx="602.0" cy="319.7" r="4.0"/><circle cx="603.4" cy="319.3" r="4.0"/><circle cx="604.8" cy="319.8" r="4.0"/><circle cx="606.2" cy="320.1" r="4.0"/><circle cx="607.6" cy="319.4" r="4.0"/><circle cx="608.9" cy="319.7" r="4.0"/><circle cx="610.3" cy="320.1" r="4.0"/><circle cx="611.7" cy="319.4" r="4.0"/><circle cx="613.1" cy="319.9" r="4.0"/><circle cx="614.5" cy="319.4" r="4.0"/><circle cx="615.9" cy="320.2" r="4.0"/><circle cx="617.2" cy="320.7" r="4.0"/><circle cx="618.6" cy="320.6" r="4.0"/><circle cx="620.0" cy="319.7" r="4.0"/><circle cx="621.4" cy="320.1" r="4.0"/><circle cx="622.8" cy="319.8" r="4.0"/><circle cx="624.2" cy="319.8" r="4.0"/><circle cx="625.5" cy="320.4" r="4.0"/><circle cx="626.9" cy="319.3" r="4.0"/><circle cx="628.3" cy="320.2" r="4.0"/><circle cx="629.7" cy="319.8" r="4.0"/><circle cx="631.1" cy="320.3" r="4.0"/><circle cx="632.5" cy="319.9" r="4.0"/><circle cx="633.8" cy="319.5" r="4.0"/><circle cx="635.2" cy="319.9" r="4.0"/><circle cx="636.6" cy="320.1" r="4.0"/><circle cx="638.0" cy="319.8" r="4.0"/><circle cx="639.4" cy="320.0" r="4.0"/><circle cx="640.8" cy="319.6" r="4.0"/><circle cx="642.1" cy="318.9" r="4.0"/><circle cx="643.5" cy="320.1" r="4.0"/><circle cx="644.9" cy="320.1" r="4.0"/><circle cx="646.3" cy="319.8" r="4.0"/><circle cx="647.7" cy="319.8" r="4.0"/><circle cx="649.0" cy="320.2" r="4.0"/><circle cx="650.4" cy="319.6" r="4.0"/><circle cx="651.8" cy="319.5" r="4.0"/><circle cx="653.2" cy="319.7" r="4.0"/><circle cx="654.6" cy="320.2" r="4.0"/><circle cx="656.0" cy="319.2" r="4.0"/><circle cx="657.3" cy="320.2" r="4.0"/><circle cx="658.7" cy="319.5" r="4.0"/><circle cx="660.1" cy="319.3" r="4.0"/><circle cx="661.5" cy="320.3" r="4.0"/><circle cx="662.9" cy="319.7" r="4.0"/><circle cx="664.3" cy="319.2" r="4.0"/><circle cx="665.6" cy="319.6" r="4.0"/><circle cx="667.0" cy="320.1" r="4.0"/><circle cx="668.4" cy="320.2" r="4.0"/><circle cx="669.8" cy="319.6" r="4.0"/><circle cx="671.2" cy="319.9" r="4.0"/><circle cx="672.6" cy="320.0" r="4.0"/><circle cx="673.9" cy="319.5" r="4.0"/><circle cx="675.3" cy="319.9" r="4.0"/><circle cx="676.7" cy="319.7" r="4.0"/><circle cx="678.1" cy="319.5" r="4.0"/><circle cx="679.5" cy="319.6" r="4.0"/><circle cx="680.9" cy="319.8" r="4.0"/><circle cx="682.2" cy="319.8" r="4.0"/><circle cx="683.6" cy="319.5" r="4.0"/><circle cx="685.0" cy="319.6" r="4.0"/><circle cx="686.4" cy="320.2" r="4.0"/><circle cx="687.8" cy="319.8" r="4.0"/><circle cx="689.2" cy="320.1" r="4.0"/><circle cx="690.5" cy="320.2" r="4.0"/><circle cx="691.9" cy="320.0" r="4.0"/><circle cx="693.3" cy="320.7" r="4.0"/><circle cx="694.7" cy="319.4" r="4.0"/><circle cx="696.1" cy="320.1" r="4.0"/><circle cx="697.5" cy="319.6" r="4.0"/><circle cx="698.8" cy="320.5" r="4.0"/><circle cx="700.2" cy="320.4" r="4.0"/><circle cx="701.6" cy="319.0" r="4.0"/><circle cx="703.0" cy="319.4" r="4.0"/><circle cx="704.4" cy="320.0" r="4.0"/><circle cx="705.8" cy="320.1" r="4.0"/><circle cx="707.1" cy="320.0" r="4.0"/><circle cx="708.5" cy="319.7" r="4.0"/><circle cx="709.9" cy="319.9" r="4.0"/><circle cx="711.3" cy="320.0" r="4.0"/><circle cx="712.7" cy="319.7" r="4.0"/><circle cx="714.0" cy="320.1" r="4.0"/><circle cx="715.4" cy="318.8" r="4.0"/><circle cx="716.8" cy="320.0" r="4.0"/><circle cx="718.2" cy="319.3" r="4.0"/><circle cx="719.6" cy="320.1" r="4.0"/><circle cx="721.0" cy="319.6" r="4.0"/><circle cx="722.3" cy="319.4" r="4.0"/><circle cx="723.7" cy="319.9" r="4.0"/><circle cx="725.1" cy="319.4" r="4.0"/><circle cx="726.5" cy="319.4" r="4.0"/><circle cx="727.9" cy="319.1" r="4.0"/><circle cx="729.3" cy="319.7" r="4.0"/><circle cx="730.6" cy="319.9" r="4.0"/><circle cx="732.0" cy="320.1" r="4.0"/><circle cx="733.4" cy="319.7" r="4.0"/><circle cx="734.8" cy="320.1" r="4.0"/><circle cx="736.2" cy="319.7" r="4.0"/><circle cx="737.6" cy="319.7" r="4.0"/><circle cx="738.9" cy="319.9" r="4.0"/><circle cx="740.3" cy="320.1" r="4.0"/><circle cx="741.7" cy="319.6" r="4.0"/><circle cx="743.1" cy="319.6" r="4.0"/><circle cx="744.5" cy="319.6" r="4.0"/><circle cx="745.9" cy="319.7" r="4.0"/><circle cx="747.2" cy="319.3" r="4.0"/><circle cx="748.6" cy="320.1" r="4.0"/><circle cx="750.0" cy="319.5" r="4.0"/><circle cx="751.4" cy="319.9" r="4.0"/><circle cx="752.8" cy="319.4" r="4.0"/><circle cx="754.2" cy="319.8" r="4.0"/><circle cx="755.5" cy="319.9" r="4.0"/><circle cx="756.9" cy="319.5" r="4.0"/><circle cx="758.3" cy="320.5" r="4.0"/><circle cx="759.7" cy="319.8" r="4.0"/><circle cx="761.1" cy="320.4" r="4.0"/><circle cx="762.5" cy="320.1" r="4.0"/><circle cx="763.8" cy="319.4" r="4.0"/><circle cx="765.2" cy="319.5" r="4.0"/><circle cx="766.6" cy="319.9" r="4.0"/><circle cx="768.0" cy="319.7" r="4.0"/><circle cx="769.4" cy="319.7" r="4.0"/><circle cx="770.8" cy="319.6" r="4.0"/><circle cx="772.1" cy="319.0" r="4.0"/><circle cx="773.5" cy="319.6" r="4.0"/><circle cx="774.9" cy="318.8" r="4.0"/><circle cx="776.3" cy="319.8" r="4.0"/><circle cx="777.7" cy="319.4" r="4.0"/><circle cx="779.1" cy="319.4" r="4.0"/><circle cx="780.4" cy="319.6" r="4.0"/><circle cx="781.8" cy="319.8" r="4.0"/><circle cx="783.2" cy="319.1" r="4.0"/><circle cx="784.6" cy="319.0" r="4.0"/><circle cx="786.0" cy="319.2" r="4.0"/><circle cx="787.3" cy="318.8" r="4.0"/><circle cx="788.7" cy="319.3" r="4.0"/><circle cx="790.1" cy="320.3" r="4.0"/><circle cx="791.5" cy="319.2" r="4.0"/><circle cx="792.9" cy="319.9" r="4.0"/><circle cx="794.3" cy="319.1" r="4.0"/><circle cx="795.6" cy="319.8" r="4.0"/><circle cx="797.0" cy="319.5" r="4.0"/><circle cx="798.4" cy="319.6" r="4.0"/><circle cx="799.8" cy="319.9" r="4.0"/><circle cx="801.2" cy="320.3" r="4.0"/><circle cx="802.6" cy="319.7" r="4.0"/><circle cx="803.9" cy="319.7" r="4.0"/><circle cx="805.3" cy="319.2" r="4.0"/><circle cx="806.7" cy="319.9" r="4.0"/><circle cx="808.1" cy="319.5" r="4.0"/><circle cx="809.5" cy="320.0" r="4.0"/><circle cx="810.9" cy="319.6" r="4.0"/><circle cx="812.2" cy="320.3" r="4.0"/><circle cx="813.6" cy="318.8" r="4.0"/><circle cx="815.0" cy="319.5" r="4.0"/><circle cx="816.4" cy="320.0" r="4.0"/><circle cx="817.8" cy="319.5" r="4.0"/><circle cx="819.2" cy="319.3" r="4.0"/><circle cx="820.5" cy="319.5" r="4.0"/><circle cx="821.9" cy="319.1" r="4.0"/><circle cx="823.3" cy="319.7" r="4.0"/><circle cx="824.7" cy="320.6" r="4.0"/><circle cx="826.1" cy="320.1" r="4.0"/><circle cx="827.5" cy="319.1" r="4.0"/><circle cx="828.8" cy="319.2" r="4.0"/><circle cx="830.2" cy="319.4" r="4.0"/><circle cx="831.6" cy="319.9" r="4.0"/><circle cx="833.0" cy="319.1" r="4.0"/><circle cx="834.4" cy="319.0" r="4.0"/><circle cx="835.8" cy="319.6" r="4.0"/><circle cx="837.1" cy="319.4" r="4.0"/><circle cx="838.5" cy="318.8" r="4.0"/><circle cx="839.9" cy="318.4" r="4.0"/><circle cx="841.3" cy="318.1" r="4.0"/><circle cx="842.7" cy="318.3" r="4.0"/><circle cx="844.1" cy="317.5" r="4.0"/><circle cx="845.4" cy="318.5" r="4.0"/><circle cx="846.8" cy="317.8" r="4.0"/><circle cx="848.2" cy="318.1" r="4.0"/><circle cx="849.6" cy="318.5" r="4.0"/><circle cx="851.0" cy="318.0" r="4.0"/><circle cx="852.4" cy="316.9" r="4.0"/><circle cx="853.7" cy="317.5" r="4.0"/><circle cx="855.1" cy="317.4" r="4.0"/><circle cx="856.5" cy="316.5" r="4.0"/><circle cx="857.9" cy="316.2" r="4.0"/><circle cx="859.3" cy="316.4" r="4.0"/><circle cx="860.6" cy="315.6" r="4.0"/><circle cx="862.0" cy="316.6" r="4.0"/><circle cx="863.4" cy="314.9" r="4.0"/><circle cx="864.8" cy="315.2" r="4.0"/><circle cx="866.2" cy="315.4" r="4.0"/><circle cx="867.6" cy="315.3" r="4.0"/><circle cx="868.9" cy="315.2" r="4.0"/><circle cx="870.3" cy="315.1" r="4.0"/><circle cx="871.7" cy="314.8" r="4.0"/><circle cx="873.1" cy="315.2" r="4.0"/><circle cx="874.5" cy="313.8" r="4.0"/><circle cx="875.9" cy="314.5" r="4.0"/><circle cx="877.2" cy="314.1" r="4.0"/><circle cx="878.6" cy="314.4" r="4.0"/><circle cx="880.0" cy="314.3" r="4.0"/><circle cx="881.4" cy="313.7" r="4.0"/><circle cx="882.8" cy="313.7" r="4.0"/><circle cx="884.2" cy="314.2" r="4.0"/><circle cx="885.5" cy="313.9" r="4.0"/><circle cx="886.9" cy="313.4" r="4.0"/><circle cx="888.3" cy="314.3" r="4.0"/><circle cx="889.7" cy="314.3" r="4.0"/><circle cx="891.1" cy="312.6" r="4.0"/><circle cx="892.5" cy="313.1" r="4.0"/><circle cx="893.8" cy="313.8" r="4.0"/><circle cx="895.2" cy="312.9" r="4.0"/><circle cx="896.6" cy="312.4" r="4.0"/><circle cx="898.0" cy="312.0" r="4.0"/><circle cx="899.4" cy="311.5" r="4.0"/><circle cx="900.8" cy="311.1" r="4.0"/><circle cx="902.1" cy="310.3" r="4.0"/><circle cx="903.5" cy="310.0" r="4.0"/><circle cx="904.9" cy="308.5" r="4.0"/><circle cx="906.3" cy="307.3" r="4.0"/><circle cx="907.7" cy="305.7" r="4.0"/><circle cx="909.1" cy="304.7" r="4.0"/><circle cx="910.4" cy="301.9" r="4.0"/><circle cx="911.8" cy="299.9" r="4.0"/><circle cx="913.2" cy="297.7" r="4.0"/><circle cx="914.6" cy="292.9" r="4.0"/><circle cx="916.0" cy="289.4" r="4.0"/><circle cx="917.4" cy="285.7" r="4.0"/><circle cx="918.7" cy="281.8" r="4.0"/><circle cx="920.1" cy="278.1" r="4.0"/><circle cx="921.5" cy="274.4" r="4.0"/><circle cx="922.9" cy="272.5" r="4.0"/><circle cx="924.3" cy="266.8" r="4.0"/><circle cx="925.6" cy="266.4" r="4.0"/><circle cx="927.0" cy="260.5" r="4.0"/><circle cx="928.4" cy="254.3" r="4.0"/><circle cx="929.8" cy="248.9" r="4.0"/><circle cx="931.2" cy="243.0" r="4.0"/><circle cx="932.6" cy="238.4" r="4.0"/><circle cx="933.9" cy="231.6" r="4.0"/><circle cx="935.3" cy="228.8" r="4.0"/><circle cx="936.7" cy="221.6" r="4.0"/><circle cx="938.1" cy="215.2" r="4.0"/><circle cx="939.5" cy="212.3" r="4.0"/><circle cx="940.9" cy="205.3" r="4.0"/><circle cx="942.2" cy="202.2" r="4.0"/><circle cx="943.6" cy="198.4" r="4.0"/><circle cx="945.0" cy="193.1" r="4.0"/><circle cx="946.4" cy="185.9" r="4.0"/><circle cx="947.8" cy="182.0" r="4.0"/><circle cx="949.2" cy="180.3" r="4.0"/><circle cx="950.5" cy="173.4" r="4.0"/><circle cx="951.9" cy="169.3" r="4.0"/><circle cx="953.3" cy="168.1" r="4.0"/><circle cx="954.7" cy="167.8" r="4.0"/><circle cx="956.1" cy="164.5" r="4.0"/><circle cx="957.5" cy="161.4" r="4.0"/><circle cx="958.8" cy="160.2" r="4.0"/><circle cx="960.2" cy="159.2" r="4.0"/><circle cx="961.6" cy="156.4" r="4.0"/><circle cx="963.0" cy="154.7" r="4.0"/><circle cx="964.4" cy="155.2" r="4.0"/><circle cx="965.8" cy="153.0" r="4.0"/><circle cx="967.1" cy="153.4" r="4.0"/><circle cx="968.5" cy="152.9" r="4.0"/><circle cx="969.9" cy="155.0" r="4.0"/><circle cx="971.3" cy="150.2" r="4.0"/><circle cx="972.7" cy="150.6" r="4.0"/><circle cx="974.1" cy="150.1" r="4.0"/><circle cx="975.4" cy="150.6" r="4.0"/><circle cx="976.8" cy="151.4" r="4.0"/><circle cx="978.2" cy="149.6" r="4.0"/><circle cx="979.6" cy="149.7" r="4.0"/><circle cx="981.0" cy="149.3" r="4.0"/><circle cx="982.4" cy="151.1" r="4.0"/><circle cx="983.7" cy="153.9" r="4.0"/><circle cx="985.1" cy="154.1" r="4.0"/><circle cx="986.5" cy="153.6" r="4.0"/><circle cx="987.9" cy="155.5" r="4.0"/><circle cx="989.3" cy="157.2" r="4.0"/><circle cx="990.6" cy="159.0" r="4.0"/><circle cx="992.0" cy="158.9" r="4.0"/><circle cx="993.4" cy="160.6" r="4.0"/><circle cx="994.8" cy="159.8" r="4.0"/><circle cx="996.2" cy="161.9" r="4.0"/><circle cx="997.6" cy="166.8" r="4.0"/><circle cx="998.9" cy="163.2" r="4.0"/><circle cx="1000.3" cy="167.1" r="4.0"/><circle cx="1001.7" cy="169.5" r="4.0"/><circle cx="1003.1" cy="170.8" r="4.0"/><circle cx="1004.5" cy="172.8" r="4.0"/><circle cx="1005.9" cy="176.7" r="4.0"/><circle cx="1007.2" cy="180.1" r="4.0"/><circle cx="1008.6" cy="183.9" r="4.0"/><circle cx="1010.0" cy="186.4" r="4.0"/><circle cx="1011.4" cy="193.7" r="4.0"/><circle cx="1012.8" cy="197.6" r="4.0"/><circle cx="1014.2" cy="201.8" r="4.0"/><circle cx="1015.5" cy="206.3" r="4.0"/><circle cx="1016.9" cy="210.1" r="4.0"/><circle cx="1018.3" cy="213.5" r="4.0"/><circle cx="1019.7" cy="214.7" r="4.0"/><circle cx="1021.1" cy="219.6" r="4.0"/><circle cx="1022.5" cy="223.2" r="4.0"/><circle cx="1023.8" cy="226.4" r="4.0"/><circle cx="1025.2" cy="230.1" r="4.0"/><circle cx="1026.6" cy="231.4" r="4.0"/><circle cx="1028.0" cy="234.6" r="4.0"/><circle cx="1029.4" cy="239.1" r="4.0"/><circle cx="1030.8" cy="239.2" r="4.0"/><circle cx="1032.1" cy="244.1" r="4.0"/><circle cx="1033.5" cy="246.0" r="4.0"/><circle cx="1034.9" cy="249.0" r="4.0"/><circle cx="1036.3" cy="249.8" r="4.0"/><circle cx="1037.7" cy="253.5" r="4.0"/><circle cx="1039.1" cy="257.2" r="4.0"/><circle cx="1040.4" cy="260.8" r="4.0"/><circle cx="1041.8" cy="263.3" r="4.0"/><circle cx="1043.2" cy="264.2" r="4.0"/><circle cx="1044.6" cy="266.3" r="4.0"/><circle cx="1046.0" cy="267.7" r="4.0"/><circle cx="1047.4" cy="271.3" r="4.0"/><circle cx="1048.7" cy="272.5" r="4.0"/><circle cx="1050.1" cy="275.6" r="4.0"/><circle cx="1051.5" cy="279.0" r="4.0"/><circle cx="1052.9" cy="278.5" r="4.0"/><circle cx="1054.3" cy="278.3" r="4.0"/><circle cx="1055.7" cy="280.8" r="4.0"/><circle cx="1057.0" cy="281.5" r="4.0"/><circle cx="1058.4" cy="283.4" r="4.0"/><circle cx="1059.8" cy="288.1" r="4.0"/><circle cx="1061.2" cy="288.1" r="4.0"/><circle cx="1062.6" cy="287.1" r="4.0"/><circle cx="1063.9" cy="291.2" r="4.0"/><circle cx="1065.3" cy="293.3" r="4.0"/><circle cx="1066.7" cy="292.4" r="4.0"/><circle cx="1068.1" cy="293.1" r="4.0"/><circle cx="1069.5" cy="294.6" r="4.0"/><circle cx="1070.9" cy="296.5" r="4.0"/><circle cx="1072.2" cy="297.9" r="4.0"/><circle cx="1073.6" cy="299.6" r="4.0"/><circle cx="1075.0" cy="300.7" r="4.0"/><circle cx="1076.4" cy="301.6" r="4.0"/><circle cx="1077.8" cy="302.9" r="4.0"/><circle cx="1079.2" cy="303.0" r="4.0"/><circle cx="1080.5" cy="301.2" r="4.0"/><circle cx="1081.9" cy="304.0" r="4.0"/><circle cx="1083.3" cy="305.6" r="4.0"/><circle cx="1084.7" cy="305.7" r="4.0"/><circle cx="1086.1" cy="308.4" r="4.0"/><circle cx="1087.5" cy="307.7" r="4.0"/></g>
<g fill="#008000"><circle cx="230.0" cy="289.7" r="4.0"/><circle cx="231.4" cy="293.8" r="4.0"/><circle cx="232.8" cy="297.2" r="4.0"/><circle cx="234.1" cy="301.0" r="4.0"/><circle cx="235.5" cy="305.3" r="4.0"/><circle cx="236.9" cy="309.5" r="4.0"/><circle cx="238.3" cy="313.1" r="4.0"/><circle cx="239.7" cy="315.6" r="4.0"/><circle cx="241.1" cy="318.3" r="4.0"/><circle cx="242.4" cy="319.1" r="4.0"/><circle cx="243.8" cy="319.2" r="4.0"/><circle cx="245.2" cy="319.6" r="4.0"/><circle cx="246.6" cy="319.9" r="4.0"/><circle cx="248.0" cy="319.4" r="4.0"/><circle cx="249.4" cy="319.2" r="4.0"/><circle cx="250.7" cy="320.1" r="4.0"/><circle cx="252.1" cy="319.4" r="4.0"/><circle cx="253.5" cy="319.2" r="4.0"/><circle cx="254.9" cy="319.6" r="4.0"/><circle cx="256.3" cy="319.7" r="4.0"/><circle cx="257.7" cy="319.3" r="4.0"/><circle cx="259.0" cy="319.8" r="4.0"/><circle cx="260.4" cy="319.4" r="4.0"/><circle cx="261.8" cy="319.3" r="4.0"/><circle cx="263.2" cy="319.6" r="4.0"/><circle cx="264.6" cy="319.8" r="4.0"/><circle cx="266.0" cy="319.4" r="4.0"/><circle cx="267.3" cy="319.6" r="4.0"/><circle cx="268.7" cy="319.5" r="4.0"/><circle cx="270.1" cy="320.4" r="4.0"/><circle cx="271.5" cy="319.3" r="4.0"/><circle cx="272.9" cy="320.0" r="4.0"/><circle cx="274.3" cy="319.5" r="4.0"/><circle cx="275.6" cy="319.5" r="4.0"/><circle cx="277.0" cy="319.8" r="4.0"/><circle cx="278.4" cy="319.8" r="4.0"/><circle cx="279.8" cy="320.0" r="4.0"/><circle cx="281.2" cy="319.7" r="4.0"/><circle cx="282.6" cy="319.4" r="4.0"/><circle cx="283.9" cy="319.4" r="4.0"/><circle cx="285.3" cy="319.7" r="4.0"/><circle cx="286.7" cy="319.8" r="4.0"/><circle cx="288.1" cy="320.0" r="4.0"/><circle cx="289.5" cy="319.7" r="4.0"/><circle cx="290.9" cy="319.9" r="4.0"/><circle cx="292.2" cy="320.1" r="4.0"/><circle cx="293.6" cy="319.6" r="4.0"/><circle cx="295.0" cy="319.2" r="4.0"/><circle cx="296.4" cy="319.2" r="4.0"/><circle cx="297.8" cy="319.2" r="4.0"/><circle cx="299.1" cy="320.1" r="4.0"/><circle cx="300.5" cy="319.4" r="4.0"/><circle cx="301.9" cy="320.0" r="4.0"/><circle cx="303.3" cy="319.8" r="4.0"/><circle cx="304.7" cy="320.1" r="4.0"/><circle cx="306.1" cy="319.9" r="4.0"/><circle cx="307.4" cy="319.6" r="4.0"/><circle cx="308.8" cy="319.6" r="4.0"/><circle cx="310.2" cy="319.7" r="4.0"/><circle cx="311.6" cy="319.7" r="4.0"/><circle cx="313.0" cy="319.5" r="4.0"/><circle cx="314.4" cy="319.6" r="4.0"/><circle cx="315.7" cy="320.1" r="4.0"/><circle cx="317.1" cy="319.1" r="4.0"/><circle cx="318.5" cy="319.7" r="4.0"/><circle cx="319.9" cy="319.4" r="4.0"/><circle cx="321.3" cy="319.7" r="4.0"/><circle cx="322.7" cy="319.9" r="4.0"/><circle cx="324.0" cy="319.6" r="4.0"/><circle cx="325.4" cy="319.9" r="4.0"/><circle cx="326.8" cy="319.2" r="4.0"/><circle cx="328.2" cy="320.0" r="4.0"/><circle cx="329.6" cy="319.5" r="4.0"/><circle cx="331.0" cy="319.8" r="4.0"/><circle cx="332.3" cy="319.7" r="4.0"/><circle cx="333.7" cy="318.9" r="4.0"/><circle cx="335.1" cy="319.4" r="4.0"/><circle cx="336.5" cy="319.7" r="4.0"/><circle cx="337.9" cy="320.1" r="4.0"/><circle cx="339.3" cy="319.8" r="4.0"/><circle cx="340.6" cy="319.7" r="4.0"/><circle cx="342.0" cy="319.2" r="4.0"/><circle cx="343.4" cy="320.1" r="4.0"/><circle cx="344.8" cy="320.2" r="4.0"/><circle cx="346.2" cy="319.7" r="4.0"/><circle cx="347.6" cy="319.6" r="4.0"/><circle cx="348.9" cy="319.2" r="4.0"/><circle cx="350.3" cy="319.9" r="4.0"/><circle cx="351.7" cy="320.5" r="4.0"/><circle cx="353.1" cy="319.9" r="4.0"/><circle cx="354.5" cy="320.1" r="4.0"/><circle cx="355.9" cy="319.8" r="4.0"/><circle cx="357.2" cy="319.4" r="4.0"/><circle cx="358.6" cy="320.1" r="4.0"/><circle cx="360.0" cy="319.3" r="4.0"/><circle cx="361.4" cy="319.6" r="4.0"/><circle cx="362.8" cy="319.8" r="4.0"/><circle cx="364.2" cy="320.0" r="4.0"/><circle cx="365.5" cy="319.8" r="4.0"/><circle cx="366.9" cy="319.8" r="4.0"/><circle cx="368.3" cy="319.5" r="4.0"/><circle cx="369.7" cy="319.3" r="4.0"/><circle cx="371.1" cy="319.7" r="4.0"/><circle cx="372.4" cy="319.5" r="4.0"/><circle cx="373.8" cy="319.3" r="4.0"/><circle cx="375.2" cy="319.3" r="4.0"/><circle cx="376.6" cy="319.6" r="4.0"/><circle cx="378.0" cy="319.2" r="4.0"/><circle cx="379.4" cy="319.3" r="4.0"/><circle cx="380.7" cy="319.2" r="4.0"/><circle cx="382.1" cy="319.8" r="4.0"/><circle cx="383.5" cy="319.8" r="4.0"/><circle cx="384.9" cy="320.3" r="4.0"/><circle cx="386.3" cy="319.3" r="4.0"/><circle cx="387.7" cy="319.5" r="4.0"/><circle cx="389.0" cy="320.0" r="4.0"/><circle cx="390.4" cy="319.7" r="4.0"/><circle cx="391.8" cy="319.6" r="4.0"/><circle cx="393.2" cy="320.2" r="4.0"/><circle cx="394.6" cy="319.6" r="4.0"/><circle cx="396.0" cy="319.4" r="4.0"/><circle cx="397.3" cy="319.3" r="4.0"/><circle cx="398.7" cy="319.8" r="4.0"/><circle cx="400.1" cy="319.8" r="4.0"/><circle cx="401.5" cy="319.3" r="4.0"/><circle cx="402.9" cy="319.4" r="4.0"/><circle cx="404.3" cy="319.9" r="4.0"/><circle cx="405.6" cy="319.9" r="4.0"/><circle cx="407.0" cy="319.5" r="4.0"/><circle cx="408.4" cy="319.9" r="4.0"/><circle cx="409.8" cy="319.9" r="4.0"/><circle cx="411.2" cy="319.2" r="4.0"/><circle cx="412.6" cy="319.6" r="4.0"/><circle cx="413.9" cy="319.9" r="4.0"/><circle cx="415.3" cy="319.6" r="4.0"/><circle cx="416.7" cy="319.1" r="4.0"/><circle cx="418.1" cy="319.7" r="4.0"/><circle cx="419.5" cy="320.0" r="4.0"/><circle cx="420.9" cy="320.2" r="4.0"/><circle cx="422.2" cy="319.1" r="4.0"/><circle cx="423.6" cy="320.5" r="4.0"/><circle cx="425.0" cy="319.4" r="4.0"/><circle cx="426.4" cy="320.0" r="4.0"/><circle cx="427.8" cy="320.1" r="4.0"/><circle cx="429.2" cy="320.0" r="4.0"/><circle cx="430.5" cy="319.8" r="4.0"/><circle cx="431.9" cy="319.4" r="4.0"/><circle cx="433.3" cy="319.9" r="4.0"/><circle cx="434.7" cy="319.5" r="4.0"/><circle cx="436.1" cy="319.0" r="4.0"/><circle cx="437.4" cy="320.6" r="4.0"/><circle cx="438.8" cy="320.0" r="4.0"/><circle cx="440.2" cy="320.3" r="4.0"/><circle cx="441.6" cy="319.5" r="4.0"/><circle cx="443.0" cy="320.2" r="4.0"/><circle cx="444.4" cy="320.2" r="4.0"/><circle cx="445.7" cy="320.2" r="4.0"/><circle cx="447.1" cy="319.8" r="4.0"/><circle cx="448.5" cy="319.4" r="4.0"/><circle cx="449.9" cy="319.7" r="4.0"/><circle cx="451.3" cy="319.1" r="4.0"/><circle cx="452.7" cy="319.3" r="4.0"/><circle cx="454.0" cy="319.8" r="4.0"/><circle cx="455.4" cy="319.5" r="4.0"/><circle cx="456.8" cy="319.7" r="4.0"/><circle cx="458.2" cy="319.7" r="4.0"/><circle cx="459.6" cy="320.3" r="4.0"/><circle cx="461.0" cy="320.2" r="4.0"/><circle cx="462.3" cy="319.8" r="4.0"/><circle cx="463.7" cy="320.1" r="4.0"/><circle cx="465.1" cy="319.5" r="4.0"/><circle cx="466.5" cy="319.7" r="4.0"/><circle cx="467.9" cy="320.0" r="4.0"/><circle cx="469.3" cy="319.4" r="4.0"/><circle cx="470.6" cy="319.7" r="4.0"/><circle cx="472.0" cy="319.4" r="4.0"/><circle cx="473.4" cy="319.8" r="4.0"/><circle cx="474.8" cy="320.3" r="4.0"/><circle cx="476.2" cy="319.6" r="4.0"/><circle cx="477.6" cy="319.8" r="4.0"/><circle cx="478.9" cy="319.5" r="4.0"/><circle cx="480.3" cy="319.4" r="4.0"/><circle cx="481.7" cy="319.4" r="4.0"/><circle cx="483.1" cy="320.2" r="4.0"/><circle cx="484.5" cy="320.5" r="4.0"/><circle cx="485.9" cy="319.9" r="4.0"/><circle cx="487.2" cy="319.6" r="4.0"/><circle cx="488.6" cy="320.0" r="4.0"/><circle cx="490.0" cy="319.7" r="4.0"/><circle cx="491.4" cy="320.0" r="4.0"/><circle cx="492.8" cy="319.9" r="4.0"/><circle cx="494.2" cy="319.9" r="4.0"/><circle cx="495.5" cy="320.0" r="4.0"/><circle cx="496.9" cy="319.6" r="4.0"/><circle cx="498.3" cy="319.7" r="4.0"/><circle cx="499.7" cy="319.3" r="4.0"/><circle cx="501.1" cy="319.7" r="4.0"/><circle cx="502.5" cy="319.4" r="4.0"/><circle cx="503.8" cy="319.7" r="4.0"/><circle cx="505.2" cy="319.5" r="4.0"/><circle cx="506.6" cy="319.8" r="4.0"/><circle cx="508.0" cy="319.9" r="4.0"/><circle cx="509.4" cy="319.4" r="4.0"/><circle cx="510.7" cy="319.5" r="4.0"/><circle cx="512.1" cy="319.5" r="4.0"/><circle cx="513.5" cy="320.0" r="4.0"/><circle cx="514.9" cy="320.3" r="4.0"/><circle cx="516.3" cy="320.0" r="4.0"/><circle cx="517.7" cy="319.7" r="4.0"/><circle cx="519.0" cy="320.2" r="4.0"/><circle cx="520.4" cy="319.3" r="4.0"/><circle cx="521.8" cy="320.2" r="4.0"/><circle cx="523.2" cy="319.6" r="4.0"/><circle cx="524.6" cy="319.0" r="4.0"/><circle cx="526.0" cy="320.6" r="4.0"/><circle cx="527.3" cy="320.3" r="4.0"/><circle cx="528.7" cy="319.5" r="4.0"/><circle cx="530.1" cy="319.8" r="4.0"/><circle cx="531.5" cy="319.7" r="4.0"/><circle cx="532.9" cy="319.8" r="4.0"/><circle cx="534.3" cy="319.3" r="4.0"/><circle cx="535.6" cy="319.6" r="4.0"/><circle cx="537.0" cy="319.9" r="4.0"/><circle cx="538.4" cy="319.9" r="4.0"/><circle cx="539.8" cy="320.2" r="4.0"/><circle cx="541.2" cy="319.8" r="4.0"/><circle cx="542.6" cy="320.5" r="4.0"/><circle cx="543.9" cy="319.6" r="4.0"/><circle cx="545.3" cy="319.9" r="4.0"/><circle cx="546.7" cy="319.2" r="4.0"/><circle cx="548.1" cy="319.4" r="4.0"/><circle cx="549.5" cy="320.2" r="4.0"/><circle cx="550.9" cy="319.5" r="4.0"/><circle cx="552.2" cy="320.0" r="4.0"/><circle cx="553.6" cy="319.8" r="4.0"/><circle cx="555.0" cy="319.5" r="4.0"/><circle cx="556.4" cy="319.7" r="4.0"/><circle cx="557.8" cy="319.6" r="4.0"/><circle cx="559.2" cy="319.7" r="4.0"/><circle cx="560.5" cy="320.0" r="4.0"/><circle cx="561.9" cy="320.0" r="4.0"/><circle cx="563.3" cy="319.6" r="4.0"/><circle cx="564.7" cy="319.5" r="4.0"/><circle cx="566.1" cy="319.9" r="4.0"/><circle cx="567.5" cy="319.8" r="4.0"/><circle cx="568.8" cy="320.1" r="4.0"/><circle cx="570.2" cy="320.6" r="4.0"/><circle cx="571.6" cy="320.1" r="4.0"/><circle cx="573.0" cy="319.8" r="4.0"/><circle cx="574.4" cy="319.7" r="4.0"/><circle cx="575.8" cy="319.5" r="4.0"/><circle cx="577.1" cy="319.5" r="4.0"/><circle cx="578.5" cy="319.5" r="4.0"/><circle cx="579.9" cy="319.7" r="4.0"/><circle cx="581.3" cy="319.7" r="4.0"/><circle cx="582.7" cy="320.0" r="4.0"/><circle cx="584.0" cy="319.7" r="4.0"/><circle cx="585.4" cy="319.7" r="4.0"/><circle cx="586.8" cy="319.4" r="4.0"/><circle cx="588.2" cy="320.3" r="4.0"/><circle cx="589.6" cy="320.0" r="4.0"/><circle cx="591.0" cy="320.3" r="4.0"/><circle cx="592.3" cy="320.0" r="4.0"/><circle cx="593.7" cy="320.2" r="4.0"/><circle cx="595.1" cy="319.7" r="4.0"/><circle cx="596.5" cy="320.0" r="4.0"/><circle cx="597.9" cy="320.6" r="4.0"/><circle cx="599.3" cy="319.4" r="4.0"/><circle cx="600.6" cy="320.2" r="4.0"/><circle cx="602.0" cy="320.3" r="4.0"/><circle cx="603.4" cy="319.9" r="4.0"/><circle cx="604.8" cy="320.0" r="4.0"/><circle cx="606.2" cy="320.2" r="4.0"/><circle cx="607.6" cy="319.6" r="4.0"/><circle cx="608.9" cy="319.9" r="4.0"/><circle cx="610.3" cy="319.5" r="4.0"/><circle cx="611.7" cy="319.6" r="4.0"/><circle cx="613.1" cy="319.6" r="4.0"/><circle cx="614.5" cy="319.8" r="4.0"/><circle cx="615.9" cy="319.8" r="4.0"/><circle cx="617.2" cy="319.9" r="4.0"/><circle cx="618.6" cy="319.4" r="4.0"/><circle cx="620.0" cy="320.4" r="4.0"/><circle cx="621.4" cy="320.2" r="4.0"/><circle cx="622.8" cy="320.0" r="4.0"/><circle cx="624.2" cy="319.7" r="4.0"/><circle cx="625.5" cy="319.8" r="4.0"/><circle cx="626.9" cy="320.0" r="4.0"/><circle cx="628.3" cy="319.9" r="4.0"/><circle cx="629.7" cy="319.3" r="4.0"/><circle cx="631.1" cy="320.0" r="4.0"/><circle cx="632.5" cy="320.7" r="4.0"/><circle cx="633.8" cy="319.2" r="4.0"/><circle cx="635.2" cy="320.1" r="4.0"/><circle cx="636.6" cy="319.9" r="4.0"/><circle cx="638.0" cy="319.8" r="4.0"/><circle cx="639.4" cy="320.2" r="4.0"/><circle cx="640.8" cy="319.4" r="4.0"/><circle cx="642.1" cy="319.9" r="4.0"/><circle cx="643.5" cy="320.3" r="4.0"/><circle cx="644.9" cy="319.7" r="4.0"/><circle cx="646.3" cy="319.7" r="4.0"/><circle cx="647.7" cy="319.8" r="4.0"/><circle cx="649.0" cy="319.7" r="4.0"/><circle cx="650.4" cy="320.3" r="4.0"/><circle cx="651.8" cy="319.5" r="4.0"/><circle cx="653.2" cy="320.1" r="4.0"/><circle cx="654.6" cy="319.4" r="4.0"/><circle cx="656.0" cy="320.0" r="4.0"/><circle cx="657.3" cy="319.8" r="4.0"/><circle cx="658.7" cy="319.0" r="4.0"/><circle cx="660.1" cy="319.8" r="4.0"/><circle cx="661.5" cy="319.5" r="4.0"/><circle cx="662.9" cy="319.7" r="4.0"/><circle cx="664.3" cy="320.3" r="4.0"/><circle cx="665.6" cy="319.5" r="4.0"/><circle cx="667.0" cy="319.5" r="4.0"/><circle cx="668.4" cy="320.2" r="4.0"/><circle cx="669.8" cy="319.8" r="4.0"/><circle cx="671.2" cy="320.3" r="4.0"/><circle cx="672.6" cy="319.9" r="4.0"/><circle cx="673.9" cy="319.5" r="4.0"/><circle cx="675.3" cy="319.8" r="4.0"/><circle cx="676.7" cy="320.2" r="4.0"/><circle cx="678.1" cy="320.1" r="4.0"/><circle cx="679.5" cy="319.8" r="4.0"/><circle cx="680.9" cy="319.8" r="4.0"/><circle cx="682.2" cy="319.8" r="4.0"/><circle cx="683.6" cy="319.6" r="4.0"/><circle cx="685.0" cy="320.4" r="4.0"/><circle cx="686.4" cy="319.8" r="4.0"/><circle cx="687.8" cy="319.5" r="4.0"/><circle cx="689.2" cy="319.7" r="4.0"/><circle cx="690.5" cy="320.0" r="4.0"/><circle cx="691.9" cy="320.0" r="4.0"/><circle cx="693.3" cy="319.8" r="4.0"/><circle cx="694.7" cy="319.6" r="4.0"/><circle cx="696.1" cy="319.8" r="4.0"/><circle cx="697.5" cy="319.3" r="4.0"/><circle cx="698.8" cy="319.4" r="4.0"/><circle cx="700.2" cy="320.0" r="4.0"/><circle cx="701.6" cy="319.7" r="4.0"/><circle cx="703.0" cy="319.9" r="4.0"/><circle cx="704.4" cy="320.2" r="4.0"/><circle cx="705.8" cy="320.0" r="4.0"/><circle cx="707.1" cy="319.8" r="4.0"/><circle cx="708.5" cy="320.5" r="4.0"/><circle cx="709.9" cy="320.0" r="4.0"/><circle cx="711.3" cy="319.7" r="4.0"/><circle cx="712.7" cy="320.0" r="4.0"/><circle cx="714.0" cy="319.9" r="4.0"/><circle cx="715.4" cy="319.5" r="4.0"/><circle cx="716.8" cy="319.8" r="4.0"/><circle cx="718.2" cy="319.7" r="4.0"/><circle cx="719.6" cy="319.2" r="4.0"/><circle cx="721.0" cy="319.7" r="4.0"/><circle cx="722.3" cy="319.7" r="4.0"/><circle cx="723.7" cy="319.7" r="4.0"/><circle cx="725.1" cy="319.3" r="4.0"/><circle cx="726.5" cy="319.7" r="4.0"/><circle cx="727.9" cy="319.8" r="4.0"/><circle cx="729.3" cy="319.8" r="4.0"/><circle cx="730.6" cy="319.4" r="4.0"/><circle cx="732.0" cy="320.0" r="4.0"/><circle cx="733.4" cy="319.4" r="4.0"/><circle cx="734.8" cy="319.7" r="4.0"/><circle cx="736.2" cy="320.2" r="4.0"/><circle cx="737.6" cy="319.6" r="4.0"/><circle cx="738.9" cy="319.6" r="4.0"/><circle cx="740.3" cy="320.1" r="4.0"/><circle cx="741.7" cy="319.7" r="4.0"/><circle cx="743.1" cy="319.7" r="4.0"/><circle cx="744.5" cy="319.9" r="4.0"/><circle cx="745.9" cy="320.1" r="4.0"/><circle cx="747.2" cy="319.1" r="4.0"/><circle cx="748.6" cy="319.5" r="4.0"/><circle cx="750.0" cy="319.5" r="4.0"/><circle cx="751.4" cy="319.5" r="4.0"/><circle cx="752.8" cy="319.5" r="4.0"/><circle cx="754.2" cy="319.5" r="4.0"/><circle cx="755.5" cy="319.9" r="4.0"/><circle cx="756.9" cy="319.5" r="4.0"/><circle cx="758.3" cy="319.8" r="4.0"/><circle cx="759.7" cy="319.9" r="4.0"/><circle cx="761.1" cy="319.6" r="4.0"/><circle cx="762.5" cy="319.8" r="4.0"/><circle cx="763.8" cy="320.3" r="4.0"/><circle cx="765.2" cy="319.9" r="4.0"/><circle cx="766.6" cy="319.6" r="4.0"/><circle cx="768.0" cy="319.8" r="4.0"/><circle cx="769.4" cy="319.5" r="4.0"/><circle cx="770.8" cy="319.9" r="4.0"/><circle cx="772.1" cy="320.1" r="4.0"/><circle cx="773.5" cy="319.5" r="4.0"/><circle cx="774.9" cy="319.7" r="4.0"/><circle cx="776.3" cy="320.1" r="4.0"/><circle cx="777.7" cy="319.6" r="4.0"/><circle cx="779.1" cy="319.9" r="4.0"/><circle cx="780.4" cy="319.5" r="4.0"/><circle cx="781.8" cy="319.5" r="4.0"/><circle cx="783.2" cy="319.6" r="4.0"/><circle cx="784.6" cy="320.5" r="4.0"/><circle cx="786.0" cy="319.7" r="4.0"/><circle cx="787.3" cy="319.6" r="4.0"/><circle cx="788.7" cy="319.6" r="4.0"/><circle cx="790.1" cy="319.8" r="4.0"/><circle cx="791.5" cy="320.0" r="4.0"/><circle cx="792.9" cy="319.9" r="4.0"/><circle cx="794.3" cy="320.4" r="4.0"/><circle cx="795.6" cy="319.9" r="4.0"/><circle cx="797.0" cy="320.2" r="4.0"/><circle cx="798.4" cy="319.9" r="4.0"/><circle cx="799.8" cy="320.0" r="4.0"/><circle cx="801.2" cy="319.4" r="4.0"/><circle cx="802.6" cy="319.8" r="4.0"/><circle cx="803.9" cy="319.8" r="4.0"/><circle cx="805.3" cy="319.7" r="4.0"/><circle cx="806.7" cy="319.2" r="4.0"/><circle cx="808.1" cy="320.1" r="4.0"/><circle cx="809.5" cy="319.7" r="4.0"/><circle cx="810.9" cy="319.7" r="4.0"/><circle cx="812.2" cy="319.7" r="4.0"/><circle cx="813.6" cy="319.7" r="4.0"/><circle cx="815.0" cy="319.9" r="4.0"/><circle cx="816.4" cy="319.4" r="4.0"/><circle cx="817.8" cy="319.5" r="4.0"/><circle cx="819.2" cy="319.9" r="4.0"/><circle cx="820.5" cy="319.8" r="4.0"/><circle cx="821.9" cy="319.7" r="4.0"/><circle cx="823.3" cy="319.6" r="4.0"/><circle cx="824.7" cy="319.5" r="4.0"/><circle cx="826.1" cy="319.8" r="4.0"/><circle cx="827.5" cy="320.2" r="4.0"/><circle cx="828.8" cy="319.5" r="4.0"/><circle cx="830.2" cy="320.3" r="4.0"/><circle cx="831.6" cy="320.1" r="4.0"/><circle cx="833.0" cy="319.7" r="4.0"/><circle cx="834.4" cy="320.0" r="4.0"/><circle cx="835.8" cy="319.4" r="4.0"/><circle cx="837.1" cy="319.3" r="4.0"/><circle cx="838.5" cy="319.4" r="4.0"/><circle cx="839.9" cy="319.7" r="4.0"/><circle cx="841.3" cy="319.7" r="4.0"/><circle cx="842.7" cy="319.6" r="4.0"/><circle cx="844.1" cy="319.8" r="4.0"/><circle cx="845.4" cy="319.2" r="4.0"/><circle cx="846.8" cy="319.9" r="4.0"/><circle cx="848.2" cy="319.4" r="4.0"/><circle cx="849.6" cy="319.6" r="4.0"/><circle cx="851.0" cy="319.7" r="4.0"/><circle cx="852.4" cy="319.5" r="4.0"/><circle cx="853.7" cy="319.4" r="4.0"/><circle cx="855.1" cy="319.5" r="4.0"/><circle cx="856.5" cy="319.8" r="4.0"/><circle cx="857.9" cy="320.0" r="4.0"/><circle cx="859.3" cy="320.0" r="4.0"/><circle cx="860.6" cy="319.5" r="4.0"/><circle cx="862.0" cy="319.6" r="4.0"/><circle cx="863.4" cy="319.5" r="4.0"/><circle cx="864.8" cy="319.9" r="4.0"/><circle cx="866.2" cy="319.2" r="4.0"/><circle cx="867.6" cy="320.2" r="4.0"/><circle cx="868.9" cy="319.7" r="4.0"/><circle cx="870.3" cy="319.6" r="4.0"/><circle cx="871.7" cy="319.9" r="4.0"/><circle cx="873.1" cy="320.1" r="4.0"/><circle cx="874.5" cy="319.9" r="4.0"/><circle cx="875.9" cy="320.1" r="4.0"/><circle cx="877.2" cy="319.8" r="4.0"/><circle cx="878.6" cy="320.2" r="4.0"/><circle cx="880.0" cy="320.2" r="4.0"/><circle cx="881.4" cy="319.8" r="4.0"/><circle cx="882.8" cy="320.2" r="4.0"/><circle cx="884.2" cy="319.8" r="4.0"/><circle cx="885.5" cy="319.8" r="4.0"/><circle cx="886.9" cy="319.5" r="4.0"/><circle cx="888.3" cy="319.7" r="4.0"/><circle cx="889.7" cy="320.0" r="4.0"/><circle cx="891.1" cy="319.4" r="4.0"/><circle cx="892.5" cy="320.0" r="4.0"/><circle cx="893.8" cy="319.9" r="4.0"/><circle cx="895.2" cy="319.9" r="4.0"/><circle cx="896.6" cy="319.1" r="4.0"/><circle cx="898.0" cy="319.8" r="4.0"/><circle cx="899.4" cy="320.0" r="4.0"/><circle cx="900.8" cy="319.6" r="4.0"/><circle cx="902.1" cy="319.8" r="4.0"/><circle cx="903.5" cy="319.1" r="4.0"/><circle cx="904.9" cy="320.0" r="4.0"/><circle cx="906.3" cy="319.6" r="4.0"/><circle cx="907.7" cy="320.1" r="4.0"/><circle cx="909.1" cy="319.2" r="4.0"/><circle cx="910.4" cy="319.8" r="4.0"/><circle cx="911.8" cy="319.4" r="4.0"/><circle cx="913.2" cy="319.4" r="4.0"/><circle cx="914.6" cy="318.6" r="4.0"/><circle cx="916.0" cy="318.4" r="4.0"/><circle cx="917.4" cy="318.9" r="4.0"/><circle cx="918.7" cy="317.6" r="4.0"/><circle cx="920.1" cy="317.2" r="4.0"/><circle cx="921.5" cy="317.0" r="4.0"/><circle cx="922.9" cy="316.4" r="4.0"/><circle cx="924.3" cy="316.7" r="4.0"/><circle cx="925.6" cy="316.5" r="4.0"/><circle cx="927.0" cy="315.4" r="4.0"/><circle cx="928.4" cy="314.7" r="4.0"/><circle cx="929.8" cy="315.1" r="4.0"/><circle cx="931.2" cy="314.7" r="4.0"/><circle cx="932.6" cy="314.1" r="4.0"/><circle cx="933.9" cy="313.7" r="4.0"/><circle cx="935.3" cy="312.6" r="4.0"/><circle cx="936.7" cy="312.3" r="4.0"/><circle cx="938.1" cy="311.4" r="4.0"/><circle cx="939.5" cy="310.7" r="4.0"/><circle cx="940.9" cy="310.8" r="4.0"/><circle cx="942.2" cy="309.7" r="4.0"/><circle cx="943.6" cy="309.9" r="4.0"/><circle cx="945.0" cy="308.4" r="4.0"/><circle cx="946.4" cy="307.4" r="4.0"/><circle cx="947.8" cy="306.9" r="4.0"/><circle cx="949.2" cy="306.3" r="4.0"/><circle cx="950.5" cy="304.8" r="4.0"/><circle cx="951.9" cy="303.2" r="4.0"/><circle cx="953.3" cy="302.3" r="4.0"/><circle cx="954.7" cy="301.0" r="4.0"/><circle cx="956.1" cy="298.6" r="4.0"/><circle cx="957.5" cy="296.5" r="4.0"/><circle cx="958.8" cy="294.9" r="4.0"/><circle cx="960.2" cy="292.4" r="4.0"/><circle cx="961.6" cy="289.8" r="4.0"/><circle cx="963.0" cy="287.6" r="4.0"/><circle cx="964.4" cy="284.5" r="4.0"/><circle cx="965.8" cy="281.1" r="4.0"/><circle cx="967.1" cy="275.3" r="4.0"/><circle cx="968.5" cy="267.7" r="4.0"/><circle cx="969.9" cy="256.2" r="4.0"/><circle cx="971.3" cy="240.5" r="4.0"/><circle cx="972.7" cy="232.8" r="4.0"/><circle cx="974.1" cy="225.8" r="4.0"/><circle cx="975.4" cy="217.1" r="4.0"/><circle cx="976.8" cy="206.3" r="4.0"/><circle cx="978.2" cy="194.5" r="4.0"/><circle cx="979.6" cy="177.7" r="4.0"/><circle cx="981.0" cy="167.3" r="4.0"/><circle cx="982.4" cy="158.5" r="4.0"/><circle cx="983.7" cy="151.0" r="4.0"/><circle cx="985.1" cy="144.5" r="4.0"/><circle cx="986.5" cy="137.4" r="4.0"/><circle cx="987.9" cy="132.3" r="4.0"/><circle cx="989.3" cy="127.4" r="4.0"/><circle cx="990.6" cy="123.1" r="4.0"/><circle cx="992.0" cy="118.6" r="4.0"/><circle cx="993.4" cy="115.6" r="4.0"/><circle cx="994.8" cy="112.8" r="4.0"/><circle cx="996.2" cy="107.6" r="4.0"/><circle cx="997.6" cy="106.8" r="4.0"/><circle cx="998.9" cy="100.8" r="4.0"/><circle cx="1000.3" cy="95.7" r="4.0"/><circle cx="1001.7" cy="93.2" r="4.0"/><circle cx="1003.1" cy="89.1" r="4.0"/><circle cx="1004.5" cy="85.1" r="4.0"/><circle cx="1005.9" cy="85.7" r="4.0"/><circle cx="1007.2" cy="81.8" r="4.0"/><circle cx="1008.6" cy="81.2" r="4.0"/><circle cx="1010.0" cy="79.7" r="4.0"/><circle cx="1011.4" cy="79.1" r="4.0"/><circle cx="1012.8" cy="75.9" r="4.0"/><circle cx="1014.2" cy="75.3" r="4.0"/><circle cx="1015.5" cy="72.1" r="4.0"/><circle cx="1016.9" cy="71.9" r="4.0"/><circle cx="1018.3" cy="68.9" r="4.0"/><circle cx="1019.7" cy="67.9" r="4.0"/><circle cx="1021.1" cy="68.5" r="4.0"/><circle cx="1022.5" cy="66.2" r="4.0"/><circle cx="1023.8" cy="65.0" r="4.0"/><circle cx="1025.2" cy="65.7" r="4.0"/><circle cx="1026.6" cy="63.2" r="4.0"/><circle cx="1028.0" cy="61.4" r="4.0"/><circle cx="1029.4" cy="61.8" r="4.0"/><circle cx="1030.8" cy="59.5" r="4.0"/><circle cx="1032.1" cy="60.6" r="4.0"/><circle cx="1033.5" cy="59.9" r="4.0"/><circle cx="1034.9" cy="57.7" r="4.0"/><circle cx="1036.3" cy="56.9" r="4.0"/><circle cx="1037.7" cy="56.7" r="4.0"/><circle cx="1039.1" cy="55.7" r="4.0"/><circle cx="1040.4" cy="53.9" r="4.0"/><circle cx="1041.8" cy="54.0" r="4.0"/><circle cx="1043.2" cy="50.7" r="4.0"/><circle cx="1044.6" cy="50.8" r="4.0"/><circle cx="1046.0" cy="49.8" r="4.0"/><circle cx="1047.4" cy="49.1" r="4.0"/><circle cx="1048.7" cy="48.9" r="4.0"/><circle cx="1050.1" cy="47.1" r="4.0"/><circle cx="1051.5" cy="48.0" r="4.0"/><circle cx="1052.9" cy="46.9" r="4.0"/><circle cx="1054.3" cy="46.1" r="4.0"/><circle cx="1055.7" cy="45.2" r="4.0"/><circle cx="1057.0" cy="45.0" r="4.0"/><circle cx="1058.4" cy="45.9" r="4.0"/><circle cx="1059.8" cy="44.5" r="4.0"/><circle cx="1061.2" cy="45.1" r="4.0"/><circle cx="1062.6" cy="45.6" r="4.0"/><circle cx="1063.9" cy="45.3" r="4.0"/><circle cx="1065.3" cy="45.5" r="4.0"/><circle cx="1066.7" cy="43.9" r="4.0"/><circle cx="1068.1" cy="43.1" r="4.0"/><circle cx="1069.5" cy="44.6" r="4.0"/><circle cx="1070.9" cy="43.9" r="4.0"/><circle cx="1072.2" cy="44.4" r="4.0"/><circle cx="1073.6" cy="43.4" r="4.0"/><circle cx="1075.0" cy="44.2" r="4.0"/><circle cx="1076.4" cy="43.8" r="4.0"/><circle cx="1077.8" cy="43.6" r="4.0"/><circle cx="1079.2" cy="43.3" r="4.0"/><circle cx="1080.5" cy="43.1" r="4.0"/><circle cx="1081.9" cy="42.9" r="4.0"/><circle cx="1083.3" cy="42.9" r="4.0"/><circle cx="1084.7" cy="43.4" r="4.0"/><circle cx="1086.1" cy="42.2" r="4.0"/><circle cx="1087.5" cy="44.0" r="4.0"/></g>
</g>
<clipPath id="cpd"><rect x="230.5" y="419.0" width="855.7" height="283.6"/></clipPath>
<g clip-path="url(#cpd)">
<g fill="#0000ff"><circle cx="230.5" cy="598.0" r="4.0"/><circle cx="233.9" cy="672.0" r="4.0"/><circle cx="237.3" cy="685.2" r="4.0"/><circle cx="240.8" cy="689.1" r="4.0"/><circle cx="244.2" cy="693.4" r="4.0"/><circle cx="247.6" cy="694.2" r="4.0"/><circle cx="251.0" cy="694.7" r="4.0"/><circle cx="254.5" cy="695.6" r="4.0"/><circle cx="257.9" cy="695.9" r="4.0"/><circle cx="261.3" cy="696.8" r="4.0"/><circle cx="264.7" cy="695.9" r="4.0"/><circle cx="268.1" cy="696.0" r="4.0"/><circle cx="271.6" cy="694.9" r="4.0"/><circle cx="275.0" cy="695.1" r="4.0"/><circle cx="278.4" cy="693.8" r="4.0"/><circle cx="281.8" cy="692.1" r="4.0"/><circle cx="285.3" cy="689.4" r="4.0"/><circle cx="288.7" cy="688.3" r="4.0"/><circle cx="292.1" cy="685.0" r="4.0"/><circle cx="295.5" cy="680.0" r="4.0"/><circle cx="298.9" cy="676.8" r="4.0"/><circle cx="302.4" cy="673.3" r="4.0"/><circle cx="305.8" cy="668.5" r="4.0"/><circle cx="309.2" cy="665.7" r="4.0"/><circle cx="312.6" cy="661.2" r="4.0"/><circle cx="316.1" cy="653.7" r="4.0"/><circle cx="319.5" cy="647.1" r="4.0"/><circle cx="322.9" cy="638.6" r="4.0"/><circle cx="326.3" cy="627.7" r="4.0"/><circle cx="329.8" cy="621.5" r="4.0"/><circle cx="333.2" cy="610.7" r="4.0"/><circle cx="336.6" cy="600.1" r="4.0"/><circle cx="340.0" cy="591.3" r="4.0"/><circle cx="343.4" cy="587.1" r="4.0"/><circle cx="346.9" cy="583.5" r="4.0"/><circle cx="350.3" cy="577.4" r="4.0"/><circle cx="353.7" cy="572.7" r="4.0"/><circle cx="357.1" cy="570.6" r="4.0"/><circle cx="360.6" cy="568.0" r="4.0"/><circle cx="364.0" cy="565.3" r="4.0"/><circle cx="367.4" cy="562.0" r="4.0"/><circle cx="370.8" cy="558.5" r="4.0"/><circle cx="374.2" cy="555.5" r="4.0"/><circle cx="377.7" cy="553.9" r="4.0"/><circle cx="381.1" cy="552.7" r="4.0"/><circle cx="384.5" cy="551.7" r="4.0"/><circle cx="387.9" cy="551.5" r="4.0"/><circle cx="391.4" cy="551.0" r="4.0"/><circle cx="394.8" cy="551.7" r="4.0"/><circle cx="398.2" cy="550.5" r="4.0"/><circle cx="401.6" cy="549.1" r="4.0"/><circle cx="405.0" cy="548.7" r="4.0"/><circle cx="408.5" cy="549.6" r="4.0"/><circle cx="411.9" cy="548.8" r="4.0"/><circle cx="415.3" cy="548.8" r="4.0"/><circle cx="418.7" cy="549.1" r="4.0"/><circle cx="422.2" cy="549.0" r="4.0"/><circle cx="425.6" cy="548.7" r="4.0"/><circle cx="429.0" cy="546.7" r="4.0"/><circle cx="432.4" cy="545.6" r="4.0"/><circle cx="435.9" cy="537.6" r="4.0"/><circle cx="439.3" cy="522.6" r="4.0"/><circle cx="442.7" cy="504.2" r="4.0"/><circle cx="446.1" cy="485.5" r="4.0"/><circle cx="449.5" cy="465.4" r="4.0"/><circle cx="453.0" cy="448.7" r="4.0"/><circle cx="456.4" cy="437.3" r="4.0"/><circle cx="459.8" cy="429.1" r="4.0"/><circle cx="463.2" cy="421.2" r="4.0"/><circle cx="466.7" cy="419.7" r="4.0"/><circle cx="470.1" cy="419.9" r="4.0"/><circle cx="473.5" cy="424.1" r="4.0"/><circle cx="476.9" cy="432.4" r="4.0"/><circle cx="480.3" cy="443.3" r="4.0"/><circle cx="483.8" cy="455.5" r="4.0"/><circle cx="487.2" cy="469.0" r="4.0"/><circle cx="490.6" cy="478.5" r="4.0"/><circle cx="494.0" cy="493.0" r="4.0"/><circle cx="497.5" cy="506.3" r="4.0"/><circle cx="500.9" cy="514.4" r="4.0"/><circle cx="504.3" cy="523.5" r="4.0"/><circle cx="507.7" cy="530.8" r="4.0"/><circle cx="511.1" cy="534.9" r="4.0"/><circle cx="514.6" cy="536.9" r="4.0"/><circle cx="518.0" cy="539.1" r="4.0"/><circle cx="521.4" cy="539.2" r="4.0"/><circle cx="524.8" cy="542.3" r="4.0"/><circle cx="528.3" cy="542.5" r="4.0"/><circle cx="531.7" cy="543.0" r="4.0"/><circle cx="535.1" cy="544.3" r="4.0"/><circle cx="538.5" cy="544.3" r="4.0"/><circle cx="541.9" cy="543.5" r="4.0"/><circle cx="545.4" cy="546.7" r="4.0"/><circle cx="548.8" cy="546.9" r="4.0"/><circle cx="552.2" cy="546.7" r="4.0"/><circle cx="555.6" cy="548.2" r="4.0"/><circle cx="559.1" cy="548.4" r="4.0"/><circle cx="562.5" cy="545.6" r="4.0"/><circle cx="565.9" cy="545.9" r="4.0"/><circle cx="569.3" cy="548.7" r="4.0"/><circle cx="572.8" cy="548.5" r="4.0"/><circle cx="576.2" cy="546.0" r="4.0"/><circle cx="579.6" cy="545.6" r="4.0"/><circle cx="583.0" cy="546.6" r="4.0"/><circle cx="586.4" cy="547.1" r="4.0"/><circle cx="589.9" cy="546.1" r="4.0"/><circle cx="593.3" cy="548.4" r="4.0"/><circle cx="596.7" cy="547.2" r="4.0"/><circle cx="600.1" cy="547.5" r="4.0"/><circle cx="603.6" cy="550.2" r="4.0"/><circle cx="607.0" cy="548.4" r="4.0"/><circle cx="610.4" cy="549.3" r="4.0"/><circle cx="613.8" cy="550.2" r="4.0"/><circle cx="617.2" cy="550.6" r="4.0"/><circle cx="620.7" cy="549.3" r="4.0"/><circle cx="624.1" cy="549.9" r="4.0"/><circle cx="627.5" cy="549.0" r="4.0"/><circle cx="630.9" cy="552.1" r="4.0"/><circle cx="634.4" cy="550.9" r="4.0"/><circle cx="637.8" cy="548.9" r="4.0"/><circle cx="641.2" cy="550.3" r="4.0"/><circle cx="644.6" cy="551.2" r="4.0"/><circle cx="648.0" cy="550.9" r="4.0"/><circle cx="651.5" cy="552.6" r="4.0"/><circle cx="654.9" cy="552.0" r="4.0"/><circle cx="658.3" cy="549.8" r="4.0"/><circle cx="661.7" cy="550.3" r="4.0"/><circle cx="665.2" cy="548.9" r="4.0"/><circle cx="668.6" cy="550.7" r="4.0"/><circle cx="672.0" cy="550.6" r="4.0"/><circle cx="675.4" cy="553.6" r="4.0"/><circle cx="678.8" cy="550.5" r="4.0"/><circle cx="682.3" cy="547.9" r="4.0"/><circle cx="685.7" cy="549.6" r="4.0"/><circle cx="689.1" cy="550.5" r="4.0"/><circle cx="692.5" cy="548.9" r="4.0"/><circle cx="696.0" cy="549.4" r="4.0"/><circle cx="699.4" cy="550.0" r="4.0"/><circle cx="702.8" cy="550.8" r="4.0"/><circle cx="706.2" cy="550.2" r="4.0"/><circle cx="709.6" cy="549.3" r="4.0"/><circle cx="713.1" cy="551.4" r="4.0"/><circle cx="716.5" cy="549.8" r="4.0"/><circle cx="719.9" cy="549.9" r="4.0"/><circle cx="723.3" cy="548.9" r="4.0"/><circle cx="726.8" cy="549.8" r="4.0"/><circle cx="730.2" cy="551.6" r="4.0"/><circle cx="733.6" cy="549.0" r="4.0"/><circle cx="737.0" cy="550.9" r="4.0"/><circle cx="740.5" cy="552.0" r="4.0"/><circle cx="743.9" cy="550.7" r="4.0"/><circle cx="747.3" cy="551.6" r="4.0"/><circle cx="750.7" cy="550.0" r="4.0"/><circle cx="754.1" cy="553.0" r="4.0"/><circle cx="757.6" cy="552.8" r="4.0"/><circle cx="761.0" cy="551.9" r="4.0"/><circle cx="764.4" cy="549.5" r="4.0"/><circle cx="767.8" cy="550.5" r="4.0"/><circle cx="771.3" cy="552.9" r="4.0"/><circle cx="774.7" cy="553.8" r="4.0"/><circle cx="778.1" cy="552.2" r="4.0"/><circle cx="781.5" cy="553.3" r="4.0"/><circle cx="784.9" cy="551.0" r="4.0"/><circle cx="788.4" cy="551.4" r="4.0"/><circle cx="791.8" cy="551.5" r="4.0"/><circle cx="795.2" cy="551.9" r="4.0"/><circle cx="798.6" cy="549.4" r="4.0"/><circle cx="802.1" cy="552.2" r="4.0"/><circle cx="805.5" cy="552.4" r="4.0"/><circle cx="808.9" cy="549.2" r="4.0"/><circle cx="812.3" cy="548.7" r="4.0"/><circle cx="815.7" cy="550.6" r="4.0"/><circle cx="819.2" cy="549.1" r="4.0"/><circle cx="822.6" cy="546.8" r="4.0"/><circle cx="826.0" cy="550.3" r="4.0"/><circle cx="829.4" cy="549.2" r="4.0"/><circle cx="832.9" cy="548.1" r="4.0"/><circle cx="836.3" cy="550.7" r="4.0"/><circle cx="839.7" cy="547.8" r="4.0"/><circle cx="843.1" cy="546.1" r="4.0"/><circle cx="846.5" cy="546.0" r="4.0"/><circle cx="850.0" cy="542.3" r="4.0"/><circle cx="853.4" cy="537.0" r="4.0"/><circle cx="856.8" cy="531.8" r="4.0"/><circle cx="860.2" cy="525.7" r="4.0"/><circle cx="863.7" cy="520.0" r="4.0"/><circle cx="867.1" cy="515.5" r="4.0"/><circle cx="870.5" cy="510.5" r="4.0"/><circle cx="873.9" cy="507.4" r="4.0"/><circle cx="877.4" cy="504.8" r="4.0"/><circle cx="880.8" cy="504.4" r="4.0"/><circle cx="884.2" cy="507.3" r="4.0"/><circle cx="887.6" cy="510.9" r="4.0"/><circle cx="891.0" cy="518.5" r="4.0"/><circle cx="894.5" cy="523.0" r="4.0"/><circle cx="897.9" cy="531.7" r="4.0"/><circle cx="901.3" cy="543.1" r="4.0"/><circle cx="904.7" cy="556.0" r="4.0"/><circle cx="908.2" cy="566.6" r="4.0"/><circle cx="911.6" cy="581.8" r="4.0"/><circle cx="915.0" cy="589.9" r="4.0"/><circle cx="918.4" cy="608.3" r="4.0"/><circle cx="921.8" cy="626.3" r="4.0"/><circle cx="925.3" cy="643.1" r="4.0"/><circle cx="928.7" cy="650.6" r="4.0"/><circle cx="932.1" cy="657.7" r="4.0"/><circle cx="935.5" cy="662.1" r="4.0"/><circle cx="939.0" cy="669.0" r="4.0"/><circle cx="942.4" cy="672.7" r="4.0"/><circle cx="945.8" cy="675.0" r="4.0"/><circle cx="949.2" cy="676.9" r="4.0"/><circle cx="952.6" cy="677.7" r="4.0"/><circle cx="956.1" cy="681.7" r="4.0"/><circle cx="959.5" cy="679.1" r="4.0"/><circle cx="962.9" cy="682.8" r="4.0"/><circle cx="966.3" cy="682.8" r="4.0"/><circle cx="969.8" cy="682.8" r="4.0"/><circle cx="973.2" cy="683.0" r="4.0"/><circle cx="976.6" cy="686.4" r="4.0"/><circle cx="980.0" cy="688.2" r="4.0"/><circle cx="983.4" cy="686.5" r="4.0"/><circle cx="986.9" cy="687.7" r="4.0"/><circle cx="990.3" cy="689.5" r="4.0"/><circle cx="993.7" cy="689.2" r="4.0"/><circle cx="997.1" cy="691.2" r="4.0"/><circle cx="1000.6" cy="688.9" r="4.0"/><circle cx="1004.0" cy="690.3" r="4.0"/><circle cx="1007.4" cy="688.7" r="4.0"/><circle cx="1010.8" cy="692.2" r="4.0"/><circle cx="1014.3" cy="689.5" r="4.0"/><circle cx="1017.7" cy="688.1" r="4.0"/><circle cx="1021.1" cy="690.3" r="4.0"/><circle cx="1024.5" cy="690.4" r="4.0"/><circle cx="1027.9" cy="692.6" r="4.0"/><circle cx="1031.4" cy="690.4" r="4.0"/><circle cx="1034.8" cy="690.8" r="4.0"/><circle cx="1038.2" cy="691.5" r="4.0"/><circle cx="1041.6" cy="692.6" r="4.0"/><circle cx="1045.1" cy="691.0" r="4.0"/><circle cx="1048.5" cy="692.2" r="4.0"/><circle cx="1051.9" cy="691.8" r="4.0"/><circle cx="1055.3" cy="691.1" r="4.0"/><circle cx="1058.7" cy="691.5" r="4.0"/><circle cx="1062.2" cy="691.5" r="4.0"/><circle cx="1065.6" cy="690.7" r="4.0"/><circle cx="1069.0" cy="692.9" r="4.0"/><circle cx="1072.4" cy="690.4" r="4.0"/><circle cx="1075.9" cy="693.0" r="4.0"/><circle cx="1079.3" cy="692.8" r="4.0"/><circle cx="1082.7" cy="691.8" r="4.0"/><circle cx="1086.1" cy="691.2" r="4.0"/></g>
<g fill="#ffa500"><circle cx="230.5" cy="577.9" r="4.0"/><circle cx="233.9" cy="567.5" r="4.0"/><circle cx="237.3" cy="563.2" r="4.0"/><circle cx="240.8" cy="561.5" r="4.0"/><circle cx="244.2" cy="561.0" r="4.0"/><circle cx="247.6" cy="558.8" r="4.0"/><circle cx="251.0" cy="559.2" r="4.0"/><circle cx="254.5" cy="557.1" r="4.0"/><circle cx="257.9" cy="559.1" r="4.0"/><circle cx="261.3" cy="558.0" r="4.0"/><circle cx="264.7" cy="557.1" r="4.0"/><circle cx="268.1" cy="558.5" r="4.0"/><circle cx="271.6" cy="558.1" r="4.0"/><circle cx="275.0" cy="554.9" r="4.0"/><circle cx="278.4" cy="558.2" r="4.0"/><circle cx="281.8" cy="557.2" r="4.0"/><circle cx="285.3" cy="560.1" r="4.0"/><circle cx="288.7" cy="561.9" r="4.0"/><circle cx="292.1" cy="559.1" r="4.0"/><circle cx="295.5" cy="559.9" r="4.0"/><circle cx="298.9" cy="559.7" r="4.0"/><circle cx="302.4" cy="560.5" r="4.0"/><circle cx="305.8" cy="560.9" r="4.0"/><circle cx="309.2" cy="561.7" r="4.0"/><circle cx="312.6" cy="559.6" r="4.0"/><circle cx="316.1" cy="562.3" r="4.0"/><circle cx="319.5" cy="560.0" r="4.0"/><circle cx="322.9" cy="561.4" r="4.0"/><circle cx="326.3" cy="562.5" r="4.0"/><circle cx="329.8" cy="562.2" r="4.0"/><circle cx="333.2" cy="560.7" r="4.0"/><circle cx="336.6" cy="561.1" r="4.0"/><circle cx="340.0" cy="561.4" r="4.0"/><circle cx="343.4" cy="562.0" r="4.0"/><circle cx="346.9" cy="563.2" r="4.0"/><circle cx="350.3" cy="560.9" r="4.0"/><circle cx="353.7" cy="562.7" r="4.0"/><circle cx="357.1" cy="562.8" r="4.0"/><circle cx="360.6" cy="562.6" r="4.0"/><circle cx="364.0" cy="562.4" r="4.0"/><circle cx="367.4" cy="563.3" r="4.0"/><circle cx="370.8" cy="562.2" r="4.0"/><circle cx="374.2" cy="562.5" r="4.0"/><circle cx="377.7" cy="562.2" r="4.0"/><circle cx="381.1" cy="563.4" r="4.0"/><circle cx="384.5" cy="559.7" r="4.0"/><circle cx="387.9" cy="562.9" r="4.0"/><circle cx="391.4" cy="561.3" r="4.0"/><circle cx="394.8" cy="561.3" r="4.0"/><circle cx="398.2" cy="560.6" r="4.0"/><circle cx="401.6" cy="559.5" r="4.0"/><circle cx="405.0" cy="560.6" r="4.0"/><circle cx="408.5" cy="559.8" r="4.0"/><circle cx="411.9" cy="560.5" r="4.0"/><circle cx="415.3" cy="558.2" r="4.0"/><circle cx="418.7" cy="560.9" r="4.0"/><circle cx="422.2" cy="559.8" r="4.0"/><circle cx="425.6" cy="559.3" r="4.0"/><circle cx="429.0" cy="558.8" r="4.0"/><circle cx="432.4" cy="558.7" r="4.0"/><circle cx="435.9" cy="558.4" r="4.0"/><circle cx="439.3" cy="559.4" r="4.0"/><circle cx="442.7" cy="561.0" r="4.0"/><circle cx="446.1" cy="562.5" r="4.0"/><circle cx="449.5" cy="564.9" r="4.0"/><circle cx="453.0" cy="569.0" r="4.0"/><circle cx="456.4" cy="571.9" r="4.0"/><circle cx="459.8" cy="578.4" r="4.0"/><circle cx="463.2" cy="586.7" r="4.0"/><circle cx="466.7" cy="597.2" r="4.0"/><circle cx="470.1" cy="617.1" r="4.0"/><circle cx="473.5" cy="634.2" r="4.0"/><circle cx="476.9" cy="653.2" r="4.0"/><circle cx="480.3" cy="668.9" r="4.0"/><circle cx="483.8" cy="680.8" r="4.0"/><circle cx="487.2" cy="687.8" r="4.0"/><circle cx="490.6" cy="692.3" r="4.0"/><circle cx="494.0" cy="694.8" r="4.0"/><circle cx="497.5" cy="696.6" r="4.0"/><circle cx="500.9" cy="698.1" r="4.0"/><circle cx="504.3" cy="698.2" r="4.0"/><circle cx="507.7" cy="698.8" r="4.0"/><circle cx="511.1" cy="699.1" r="4.0"/><circle cx="514.6" cy="699.9" r="4.0"/><circle cx="518.0" cy="699.6" r="4.0"/><circle cx="521.4" cy="699.8" r="4.0"/><circle cx="524.8" cy="699.8" r="4.0"/><circle cx="528.3" cy="699.8" r="4.0"/><circle cx="531.7" cy="700.4" r="4.0"/><circle cx="535.1" cy="701.0" r="4.0"/><circle cx="538.5" cy="699.9" r="4.0"/><circle cx="541.9" cy="700.5" r="4.0"/><circle cx="545.4" cy="700.3" r="4.0"/><circle cx="548.8" cy="699.9" r="4.0"/><circle cx="552.2" cy="700.2" r="4.0"/><circle cx="555.6" cy="700.2" r="4.0"/><circle cx="559.1" cy="700.1" r="4.0"/><circle cx="562.5" cy="700.9" r="4.0"/><circle cx="565.9" cy="699.8" r="4.0"/><circle cx="569.3" cy="700.5" r="4.0"/><circle cx="572.8" cy="700.4" r="4.0"/><circle cx="576.2" cy="700.2" r="4.0"/><circle cx="579.6" cy="700.4" r="4.0"/><circle cx="583.0" cy="700.6" r="4.0"/><circle cx="586.4" cy="700.4" r="4.0"/><circle cx="589.9" cy="700.5" r="4.0"/><circle cx="593.3" cy="700.6" r="4.0"/><circle cx="596.7" cy="699.8" r="4.0"/><circle cx="600.1" cy="700.8" r="4.0"/><circle cx="603.6" cy="701.1" r="4.0"/><circle cx="607.0" cy="700.7" r="4.0"/><circle cx="610.4" cy="700.7" r="4.0"/><circle cx="613.8" cy="700.0" r="4.0"/><circle cx="617.2" cy="700.4" r="4.0"/><circle cx="620.7" cy="700.2" r="4.0"/><circle cx="624.1" cy="700.3" r="4.0"/><circle cx="627.5" cy="700.7" r="4.0"/><circle cx="630.9" cy="700.2" r="4.0"/><circle cx="634.4" cy="700.4" r="4.0"/><circle cx="637.8" cy="699.9" r="4.0"/><circle cx="641.2" cy="700.4" r="4.0"/><circle cx="644.6" cy="700.5" r="4.0"/><circle cx="648.0" cy="700.3" r="4.0"/><circle cx="651.5" cy="700.3" r="4.0"/><circle cx="654.9" cy="701.0" r="4.0"/><circle cx="658.3" cy="700.1" r="4.0"/><circle cx="661.7" cy="700.2" r="4.0"/><circle cx="665.2" cy="700.2" r="4.0"/><circle cx="668.6" cy="700.8" r="4.0"/><circle cx="672.0" cy="701.1" r="4.0"/><circle cx="675.4" cy="700.6" r="4.0"/><circle cx="678.8" cy="700.3" r="4.0"/><circle cx="682.3" cy="700.4" r="4.0"/><circle cx="685.7" cy="700.8" r="4.0"/><circle cx="689.1" cy="700.2" r="4.0"/><circle cx="692.5" cy="700.9" r="4.0"/><circle cx="696.0" cy="700.9" r="4.0"/><circle cx="699.4" cy="700.5" r="4.0"/><circle cx="702.8" cy="700.7" r="4.0"/><circle cx="706.2" cy="700.7" r="4.0"/><circle cx="709.6" cy="701.0" r="4.0"/><circle cx="713.1" cy="700.2" r="4.0"/><circle cx="716.5" cy="700.9" r="4.0"/><circle cx="719.9" cy="700.4" r="4.0"/><circle cx="723.3" cy="700.3" r="4.0"/><circle cx="726.8" cy="700.5" r="4.0"/><circle cx="730.2" cy="700.4" r="4.0"/><circle cx="733.6" cy="700.2" r="4.0"/><circle cx="737.0" cy="700.0" r="4.0"/><circle cx="740.5" cy="700.2" r="4.0"/><circle cx="743.9" cy="700.9" r="4.0"/><circle cx="747.3" cy="701.1" r="4.0"/><circle cx="750.7" cy="700.7" r="4.0"/><circle cx="754.1" cy="700.9" r="4.0"/><circle cx="757.6" cy="700.3" r="4.0"/><circle cx="761.0" cy="700.5" r="4.0"/><circle cx="764.4" cy="700.6" r="4.0"/><circle cx="767.8" cy="700.2" r="4.0"/><circle cx="771.3" cy="700.2" r="4.0"/><circle cx="774.7" cy="700.5" r="4.0"/><circle cx="778.1" cy="700.4" r="4.0"/><circle cx="781.5" cy="700.2" r="4.0"/><circle cx="784.9" cy="700.6" r="4.0"/><circle cx="788.4" cy="700.4" r="4.0"/><circle cx="791.8" cy="700.8" r="4.0"/><circle cx="795.2" cy="700.4" r="4.0"/><circle cx="798.6" cy="700.4" r="4.0"/><circle cx="802.1" cy="700.5" r="4.0"/><circle cx="805.5" cy="700.4" r="4.0"/><circle cx="808.9" cy="700.2" r="4.0"/><circle cx="812.3" cy="700.3" r="4.0"/><circle cx="815.7" cy="700.6" r="4.0"/><circle cx="819.2" cy="700.6" r="4.0"/><circle cx="822.6" cy="700.7" r="4.0"/><circle cx="826.0" cy="699.8" r="4.0"/><circle cx="829.4" cy="700.2" r="4.0"/><circle cx="832.9" cy="700.2" r="4.0"/><circle cx="836.3" cy="700.3" r="4.0"/><circle cx="839.7" cy="700.1" r="4.0"/><circle cx="843.1" cy="700.1" r="4.0"/><circle cx="846.5" cy="700.4" r="4.0"/><circle cx="850.0" cy="700.0" r="4.0"/><circle cx="853.4" cy="698.8" r="4.0"/><circle cx="856.8" cy="698.3" r="4.0"/><circle cx="860.2" cy="695.6" r="4.0"/><circle cx="863.7" cy="689.0" r="4.0"/><circle cx="867.1" cy="676.3" r="4.0"/><circle cx="870.5" cy="662.0" r="4.0"/><circle cx="873.9" cy="645.5" r="4.0"/><circle cx="877.4" cy="627.4" r="4.0"/><circle cx="880.8" cy="598.4" r="4.0"/><circle cx="884.2" cy="585.3" r="4.0"/><circle cx="887.6" cy="580.9" r="4.0"/><circle cx="891.0" cy="576.5" r="4.0"/><circle cx="894.5" cy="571.4" r="4.0"/><circle cx="897.9" cy="567.9" r="4.0"/><circle cx="901.3" cy="564.9" r="4.0"/><circle cx="904.7" cy="562.5" r="4.0"/><circle cx="908.2" cy="563.7" r="4.0"/><circle cx="911.6" cy="563.5" r="4.0"/><circle cx="915.0" cy="565.7" r="4.0"/><circle cx="918.4" cy="569.4" r="4.0"/><circle cx="921.8" cy="573.2" r="4.0"/><circle cx="925.3" cy="578.2" r="4.0"/><circle cx="928.7" cy="584.9" r="4.0"/><circle cx="932.1" cy="592.9" r="4.0"/><circle cx="935.5" cy="610.7" r="4.0"/><circle cx="939.0" cy="632.2" r="4.0"/><circle cx="942.4" cy="650.5" r="4.0"/><circle cx="945.8" cy="667.3" r="4.0"/><circle cx="949.2" cy="678.6" r="4.0"/><circle cx="952.6" cy="689.0" r="4.0"/><circle cx="956.1" cy="693.7" r="4.0"/><circle cx="959.5" cy="696.6" r="4.0"/><circle cx="962.9" cy="697.9" r="4.0"/><circle cx="966.3" cy="699.2" r="4.0"/><circle cx="969.8" cy="700.0" r="4.0"/><circle cx="973.2" cy="700.1" r="4.0"/><circle cx="976.6" cy="699.9" r="4.0"/><circle cx="980.0" cy="699.9" r="4.0"/><circle cx="983.4" cy="700.7" r="4.0"/><circle cx="986.9" cy="700.1" r="4.0"/><circle cx="990.3" cy="700.2" r="4.0"/><circle cx="993.7" cy="700.7" r="4.0"/><circle cx="997.1" cy="700.6" r="4.0"/><circle cx="1000.6" cy="700.5" r="4.0"/><circle cx="1004.0" cy="700.3" r="4.0"/><circle cx="1007.4" cy="701.1" r="4.0"/><circle cx="1010.8" cy="700.6" r="4.0"/><circle cx="1014.3" cy="700.6" r="4.0"/><circle cx="1017.7" cy="700.5" r="4.0"/><circle cx="1021.1" cy="700.1" r="4.0"/><circle cx="1024.5" cy="700.1" r="4.0"/><circle cx="1027.9" cy="700.7" r="4.0"/><circle cx="1031.4" cy="700.7" r="4.0"/><circle cx="1034.8" cy="700.5" r="4.0"/><circle cx="1038.2" cy="700.3" r="4.0"/><circle cx="1041.6" cy="700.2" r="4.0"/><circle cx="1045.1" cy="700.5" r="4.0"/><circle cx="1048.5" cy="700.2" r="4.0"/><circle cx="1051.9" cy="700.9" r="4.0"/><circle cx="1055.3" cy="701.0" r="4.0"/><circle cx="1058.7" cy="701.5" r="4.0"/><circle cx="1062.2" cy="700.9" r="4.0"/><circle cx="1065.6" cy="700.5" r="4.0"/><circle cx="1069.0" cy="700.4" r="4.0"/><circle cx="1072.4" cy="699.7" r="4.0"/><circle cx="1075.9" cy="700.5" r="4.0"/><circle cx="1079.3" cy="700.6" r="4.0"/><circle cx="1082.7" cy="701.0" r="4.0"/><circle cx="1086.1" cy="700.9" r="4.0"/></g>
<g fill="#008000"><circle cx="230.5" cy="689.1" r="4.0"/><circle cx="233.9" cy="695.4" r="4.0"/><circle cx="237.3" cy="698.6" r="4.0"/><circle cx="240.8" cy="700.8" r="4.0"/><circle cx="244.2" cy="701.1" r="4.0"/><circle cx="247.6" cy="701.7" r="4.0"/><circle cx="251.0" cy="701.7" r="4.0"/><circle cx="254.5" cy="702.3" r="4.0"/><circle cx="257.9" cy="702.3" r="4.0"/><circle cx="261.3" cy="702.2" r="4.0"/><circle cx="264.7" cy="701.8" r="4.0"/><circle cx="268.1" cy="702.0" r="4.0"/><circle cx="271.6" cy="702.0" r="4.0"/><circle cx="275.0" cy="702.0" r="4.0"/><circle cx="278.4" cy="702.0" r="4.0"/><circle cx="281.8" cy="702.1" r="4.0"/><circle cx="285.3" cy="701.9" r="4.0"/><circle cx="288.7" cy="702.2" r="4.0"/><circle cx="292.1" cy="702.0" r="4.0"/><circle cx="295.5" cy="701.9" r="4.0"/><circle cx="298.9" cy="702.0" r="4.0"/><circle cx="302.4" cy="701.9" r="4.0"/><circle cx="305.8" cy="702.2" r="4.0"/><circle cx="309.2" cy="701.9" r="4.0"/><circle cx="312.6" cy="702.1" r="4.0"/><circle cx="316.1" cy="701.9" r="4.0"/><circle cx="319.5" cy="701.7" r="4.0"/><circle cx="322.9" cy="702.2" r="4.0"/><circle cx="326.3" cy="701.8" r="4.0"/><circle cx="329.8" cy="702.1" r="4.0"/><circle cx="333.2" cy="702.1" r="4.0"/><circle cx="336.6" cy="701.7" r="4.0"/><circle cx="340.0" cy="701.8" r="4.0"/><circle cx="343.4" cy="701.9" r="4.0"/><circle cx="346.9" cy="701.8" r="4.0"/><circle cx="350.3" cy="701.8" r="4.0"/><circle cx="353.7" cy="702.1" r="4.0"/><circle cx="357.1" cy="702.0" r="4.0"/><circle cx="360.6" cy="702.1" r="4.0"/><circle cx="364.0" cy="701.9" r="4.0"/><circle cx="367.4" cy="702.1" r="4.0"/><circle cx="370.8" cy="701.8" r="4.0"/><circle cx="374.2" cy="702.0" r="4.0"/><circle cx="377.7" cy="702.1" r="4.0"/><circle cx="381.1" cy="702.0" r="4.0"/><circle cx="384.5" cy="701.9" r="4.0"/><circle cx="387.9" cy="701.8" r="4.0"/><circle cx="391.4" cy="702.0" r="4.0"/><circle cx="394.8" cy="702.1" r="4.0"/><circle cx="398.2" cy="701.9" r="4.0"/><circle cx="401.6" cy="701.8" r="4.0"/><circle cx="405.0" cy="702.1" r="4.0"/><circle cx="408.5" cy="702.5" r="4.0"/><circle cx="411.9" cy="701.9" r="4.0"/><circle cx="415.3" cy="702.1" r="4.0"/><circle cx="418.7" cy="702.1" r="4.0"/><circle cx="422.2" cy="701.5" r="4.0"/><circle cx="425.6" cy="702.0" r="4.0"/><circle cx="429.0" cy="701.9" r="4.0"/><circle cx="432.4" cy="702.3" r="4.0"/><circle cx="435.9" cy="701.9" r="4.0"/><circle cx="439.3" cy="701.8" r="4.0"/><circle cx="442.7" cy="702.0" r="4.0"/><circle cx="446.1" cy="702.0" r="4.0"/><circle cx="449.5" cy="701.9" r="4.0"/><circle cx="453.0" cy="702.0" r="4.0"/><circle cx="456.4" cy="701.7" r="4.0"/><circle cx="459.8" cy="701.9" r="4.0"/><circle cx="463.2" cy="702.1" r="4.0"/><circle cx="466.7" cy="702.4" r="4.0"/><circle cx="470.1" cy="702.1" r="4.0"/><circle cx="473.5" cy="702.0" r="4.0"/><circle cx="476.9" cy="702.2" r="4.0"/><circle cx="480.3" cy="702.2" r="4.0"/><circle cx="483.8" cy="702.3" r="4.0"/><circle cx="487.2" cy="702.2" r="4.0"/><circle cx="490.6" cy="702.0" r="4.0"/><circle cx="494.0" cy="702.0" r="4.0"/><circle cx="497.5" cy="702.0" r="4.0"/><circle cx="500.9" cy="702.0" r="4.0"/><circle cx="504.3" cy="702.0" r="4.0"/><circle cx="507.7" cy="701.8" r="4.0"/><circle cx="511.1" cy="701.6" r="4.0"/><circle cx="514.6" cy="701.9" r="4.0"/><circle cx="518.0" cy="701.6" r="4.0"/><circle cx="521.4" cy="702.0" r="4.0"/><circle cx="524.8" cy="702.0" r="4.0"/><circle cx="528.3" cy="701.6" r="4.0"/><circle cx="531.7" cy="702.1" r="4.0"/><circle cx="535.1" cy="702.2" r="4.0"/><circle cx="538.5" cy="702.0" r="4.0"/><circle cx="541.9" cy="702.3" r="4.0"/><circle cx="545.4" cy="702.4" r="4.0"/><circle cx="548.8" cy="701.7" r="4.0"/><circle cx="552.2" cy="702.2" r="4.0"/><circle cx="555.6" cy="702.1" r="4.0"/><circle cx="559.1" cy="702.1" r="4.0"/><circle cx="562.5" cy="702.2" r="4.0"/><circle cx="565.9" cy="701.8" r="4.0"/><circle cx="569.3" cy="701.9" r="4.0"/><circle cx="572.8" cy="701.8" r="4.0"/><circle cx="576.2" cy="701.8" r="4.0"/><circle cx="579.6" cy="702.0" r="4.0"/><circle cx="583.0" cy="701.7" r="4.0"/><circle cx="586.4" cy="701.8" r="4.0"/><circle cx="589.9" cy="702.1" r="4.0"/><circle cx="593.3" cy="702.0" r="4.0"/><circle cx="596.7" cy="702.0" r="4.0"/><circle cx="600.1" cy="701.6" r="4.0"/><circle cx="603.6" cy="701.8" r="4.0"/><circle cx="607.0" cy="701.9" r="4.0"/><circle cx="610.4" cy="702.0" r="4.0"/><circle cx="613.8" cy="701.8" r="4.0"/><circle cx="617.2" cy="702.1" r="4.0"/><circle cx="620.7" cy="701.9" r="4.0"/><circle cx="624.1" cy="702.0" r="4.0"/><circle cx="627.5" cy="702.0" r="4.0"/><circle cx="630.9" cy="702.1" r="4.0"/><circle cx="634.4" cy="701.9" r="4.0"/><circle cx="637.8" cy="702.2" r="4.0"/><circle cx="641.2" cy="702.0" r="4.0"/><circle cx="644.6" cy="702.0" r="4.0"/><circle cx="648.0" cy="702.0" r="4.0"/><circle cx="651.5" cy="702.1" r="4.0"/><circle cx="654.9" cy="702.1" r="4.0"/><circle cx="658.3" cy="702.1" r="4.0"/><circle cx="661.7" cy="702.0" r="4.0"/><circle cx="665.2" cy="702.1" r="4.0"/><circle cx="668.6" cy="702.0" r="4.0"/><circle cx="672.0" cy="702.2" r="4.0"/><circle cx="675.4" cy="701.9" r="4.0"/><circle cx="678.8" cy="701.5" r="4.0"/><circle cx="682.3" cy="702.2" r="4.0"/><circle cx="685.7" cy="702.0" r="4.0"/><circle cx="689.1" cy="701.7" r="4.0"/><circle cx="692.5" cy="701.9" r="4.0"/><circle cx="696.0" cy="701.8" r="4.0"/><circle cx="699.4" cy="702.3" r="4.0"/><circle cx="702.8" cy="702.0" r="4.0"/><circle cx="706.2" cy="701.6" r="4.0"/><circle cx="709.6" cy="702.0" r="4.0"/><circle cx="713.1" cy="701.8" r="4.0"/><circle cx="716.5" cy="702.3" r="4.0"/><circle cx="719.9" cy="701.7" r="4.0"/><circle cx="723.3" cy="701.5" r="4.0"/><circle cx="726.8" cy="701.9" r="4.0"/><circle cx="730.2" cy="701.8" r="4.0"/><circle cx="733.6" cy="701.8" r="4.0"/><circle cx="737.0" cy="701.5" r="4.0"/><circle cx="740.5" cy="702.0" r="4.0"/><circle cx="743.9" cy="702.2" r="4.0"/><circle cx="747.3" cy="701.5" r="4.0"/><circle cx="750.7" cy="702.1" r="4.0"/><circle cx="754.1" cy="701.8" r="4.0"/><circle cx="757.6" cy="702.4" r="4.0"/><circle cx="761.0" cy="702.0" r="4.0"/><circle cx="764.4" cy="701.9" r="4.0"/><circle cx="767.8" cy="702.1" r="4.0"/><circle cx="771.3" cy="702.0" r="4.0"/><circle cx="774.7" cy="701.8" r="4.0"/><circle cx="778.1" cy="702.0" r="4.0"/><circle cx="781.5" cy="701.8" r="4.0"/><circle cx="784.9" cy="701.5" r="4.0"/><circle cx="788.4" cy="702.3" r="4.0"/><circle cx="791.8" cy="701.8" r="4.0"/><circle cx="795.2" cy="701.7" r="4.0"/><circle cx="798.6" cy="701.9" r="4.0"/><circle cx="802.1" cy="701.6" r="4.0"/><circle cx="805.5" cy="701.6" r="4.0"/><circle cx="808.9" cy="701.8" r="4.0"/><circle cx="812.3" cy="701.8" r="4.0"/><circle cx="815.7" cy="701.9" r="4.0"/><circle cx="819.2" cy="702.1" r="4.0"/><circle cx="822.6" cy="701.8" r="4.0"/><circle cx="826.0" cy="701.9" r="4.0"/><circle cx="829.4" cy="702.0" r="4.0"/><circle cx="832.9" cy="701.6" r="4.0"/><circle cx="836.3" cy="701.9" r="4.0"/><circle cx="839.7" cy="701.6" r="4.0"/><circle cx="843.1" cy="702.0" r="4.0"/><circle cx="846.5" cy="701.9" r="4.0"/><circle cx="850.0" cy="701.8" r="4.0"/><circle cx="853.4" cy="701.6" r="4.0"/><circle cx="856.8" cy="701.8" r="4.0"/><circle cx="860.2" cy="701.7" r="4.0"/><circle cx="863.7" cy="702.0" r="4.0"/><circle cx="867.1" cy="701.8" r="4.0"/><circle cx="870.5" cy="701.6" r="4.0"/><circle cx="873.9" cy="702.0" r="4.0"/><circle cx="877.4" cy="701.9" r="4.0"/><circle cx="880.8" cy="701.7" r="4.0"/><circle cx="884.2" cy="701.8" r="4.0"/><circle cx="887.6" cy="699.9" r="4.0"/><circle cx="891.0" cy="698.0" r="4.0"/><circle cx="894.5" cy="695.7" r="4.0"/><circle cx="897.9" cy="693.1" r="4.0"/><circle cx="901.3" cy="690.5" r="4.0"/><circle cx="904.7" cy="685.5" r="4.0"/><circle cx="908.2" cy="675.0" r="4.0"/><circle cx="911.6" cy="655.2" r="4.0"/><circle cx="915.0" cy="631.5" r="4.0"/><circle cx="918.4" cy="613.2" r="4.0"/><circle cx="921.8" cy="587.0" r="4.0"/><circle cx="925.3" cy="575.6" r="4.0"/><circle cx="928.7" cy="561.3" r="4.0"/><circle cx="932.1" cy="554.1" r="4.0"/><circle cx="935.5" cy="548.2" r="4.0"/><circle cx="939.0" cy="543.9" r="4.0"/><circle cx="942.4" cy="539.4" r="4.0"/><circle cx="945.8" cy="539.0" r="4.0"/><circle cx="949.2" cy="535.3" r="4.0"/><circle cx="952.6" cy="535.2" r="4.0"/><circle cx="956.1" cy="532.5" r="4.0"/><circle cx="959.5" cy="536.5" r="4.0"/><circle cx="962.9" cy="536.3" r="4.0"/><circle cx="966.3" cy="536.4" r="4.0"/><circle cx="969.8" cy="536.8" r="4.0"/><circle cx="973.2" cy="537.7" r="4.0"/><circle cx="976.6" cy="536.2" r="4.0"/><circle cx="980.0" cy="537.3" r="4.0"/><circle cx="983.4" cy="535.8" r="4.0"/><circle cx="986.9" cy="536.1" r="4.0"/><circle cx="990.3" cy="537.5" r="4.0"/><circle cx="993.7" cy="536.8" r="4.0"/><circle cx="997.1" cy="534.9" r="4.0"/><circle cx="1000.6" cy="536.5" r="4.0"/><circle cx="1004.0" cy="535.8" r="4.0"/><circle cx="1007.4" cy="535.1" r="4.0"/><circle cx="1010.8" cy="536.1" r="4.0"/><circle cx="1014.3" cy="534.9" r="4.0"/><circle cx="1017.7" cy="533.3" r="4.0"/><circle cx="1021.1" cy="533.3" r="4.0"/><circle cx="1024.5" cy="535.7" r="4.0"/><circle cx="1027.9" cy="532.0" r="4.0"/><circle cx="1031.4" cy="533.3" r="4.0"/><circle cx="1034.8" cy="533.4" r="4.0"/><circle cx="1038.2" cy="533.2" r="4.0"/><circle cx="1041.6" cy="531.3" r="4.0"/><circle cx="1045.1" cy="532.2" r="4.0"/><circle cx="1048.5" cy="532.6" r="4.0"/><circle cx="1051.9" cy="533.3" r="4.0"/><circle cx="1055.3" cy="531.9" r="4.0"/><circle cx="1058.7" cy="531.3" r="4.0"/><circle cx="1062.2" cy="533.5" r="4.0"/><circle cx="1065.6" cy="533.6" r="4.0"/><circle cx="1069.0" cy="532.9" r="4.0"/><circle cx="1072.4" cy="531.9" r="4.0"/><circle cx="1075.9" cy="532.9" r="4.0"/><circle cx="1079.3" cy="532.6" r="4.0"/><circle cx="1082.7" cy="533.3" r="4.0"/><circle cx="1086.1" cy="531.3" r="4.0"/></g>
</g>
<clipPath id="cpg"><rect x="230.5" y="801.1" width="855.7" height="283.6"/></clipPath>
<g clip-path="url(#cpg)">
<g fill="#0000ff"><circle cx="230.5" cy="976.8" r="4.0"/><circle cx="232.7" cy="1013.8" r="4.0"/><circle cx="234.9" cy="1053.2" r="4.0"/><circle cx="237.2" cy="1065.1" r="4.0"/><circle cx="239.4" cy="1068.7" r="4.0"/><circle cx="241.6" cy="1071.6" r="4.0"/><circle cx="243.8" cy="1074.1" r="4.0"/><circle cx="246.1" cy="1074.7" r="4.0"/><circle cx="248.3" cy="1076.3" r="4.0"/><circle cx="250.5" cy="1077.3" r="4.0"/><circle cx="252.7" cy="1077.8" r="4.0"/><circle cx="255.0" cy="1078.7" r="4.0"/><circle cx="257.2" cy="1077.8" r="4.0"/><circle cx="259.4" cy="1077.8" r="4.0"/><circle cx="261.6" cy="1078.8" r="4.0"/><circle cx="263.9" cy="1079.0" r="4.0"/><circle cx="266.1" cy="1079.9" r="4.0"/><circle cx="268.3" cy="1079.2" r="4.0"/><circle cx="270.5" cy="1078.6" r="4.0"/><circle cx="272.8" cy="1079.5" r="4.0"/><circle cx="275.0" cy="1078.7" r="4.0"/><circle cx="277.2" cy="1078.4" r="4.0"/><circle cx="279.4" cy="1080.5" r="4.0"/><circle cx="281.7" cy="1079.4" r="4.0"/><circle cx="283.9" cy="1079.6" r="4.0"/><circle cx="286.1" cy="1079.6" r="4.0"/><circle cx="288.3" cy="1080.2" r="4.0"/><circle cx="290.6" cy="1079.4" r="4.0"/><circle cx="292.8" cy="1079.9" r="4.0"/><circle cx="295.0" cy="1078.8" r="4.0"/><circle cx="297.2" cy="1078.6" r="4.0"/><circle cx="299.5" cy="1080.0" r="4.0"/><circle cx="301.7" cy="1080.0" r="4.0"/><circle cx="303.9" cy="1079.6" r="4.0"/><circle cx="306.1" cy="1079.4" r="4.0"/><circle cx="308.4" cy="1079.4" r="4.0"/><circle cx="310.6" cy="1079.0" r="4.0"/><circle cx="312.8" cy="1080.1" r="4.0"/><circle cx="315.0" cy="1079.6" r="4.0"/><circle cx="317.3" cy="1079.6" r="4.0"/><circle cx="319.5" cy="1079.5" r="4.0"/><circle cx="321.7" cy="1079.8" r="4.0"/><circle cx="323.9" cy="1079.6" r="4.0"/><circle cx="326.2" cy="1079.7" r="4.0"/><circle cx="328.4" cy="1078.7" r="4.0"/><circle cx="330.6" cy="1079.6" r="4.0"/><circle cx="332.8" cy="1080.4" r="4.0"/><circle cx="335.1" cy="1079.0" r="4.0"/><circle cx="337.3" cy="1079.2" r="4.0"/><circle cx="339.5" cy="1079.7" r="4.0"/><circle cx="341.7" cy="1079.8" r="4.0"/><circle cx="344.0" cy="1079.6" r="4.0"/><circle cx="346.2" cy="1078.5" r="4.0"/><circle cx="348.4" cy="1079.6" r="4.0"/><circle cx="350.6" cy="1078.7" r="4.0"/><circle cx="352.9" cy="1078.9" r="4.0"/><circle cx="355.1" cy="1079.6" r="4.0"/><circle cx="357.3" cy="1079.2" r="4.0"/><circle cx="359.5" cy="1079.7" r="4.0"/><circle cx="361.8" cy="1080.9" r="4.0"/><circle cx="364.0" cy="1079.7" r="4.0"/><circle cx="366.2" cy="1079.7" r="4.0"/><circle cx="368.4" cy="1078.9" r="4.0"/><circle cx="370.7" cy="1079.0" r="4.0"/><circle cx="372.9" cy="1078.8" r="4.0"/><circle cx="375.1" cy="1079.0" r="4.0"/><circle cx="377.3" cy="1078.8" r="4.0"/><circle cx="379.5" cy="1079.0" r="4.0"/><circle cx="381.8" cy="1079.2" r="4.0"/><circle cx="384.0" cy="1078.8" r="4.0"/><circle cx="386.2" cy="1078.6" r="4.0"/><circle cx="388.4" cy="1078.6" r="4.0"/><circle cx="390.7" cy="1079.5" r="4.0"/><circle cx="392.9" cy="1079.3" r="4.0"/><circle cx="395.1" cy="1079.8" r="4.0"/><circle cx="397.3" cy="1079.8" r="4.0"/><circle cx="399.6" cy="1079.1" r="4.0"/><circle cx="401.8" cy="1079.6" r="4.0"/><circle cx="404.0" cy="1078.6" r="4.0"/><circle cx="406.2" cy="1080.4" r="4.0"/><circle cx="408.5" cy="1079.9" r="4.0"/><circle cx="410.7" cy="1079.2" r="4.0"/><circle cx="412.9" cy="1078.7" r="4.0"/><circle cx="415.1" cy="1079.5" r="4.0"/><circle cx="417.4" cy="1078.4" r="4.0"/><circle cx="419.6" cy="1078.9" r="4.0"/><circle cx="421.8" cy="1079.7" r="4.0"/><circle cx="424.0" cy="1079.3" r="4.0"/><circle cx="426.3" cy="1079.1" r="4.0"/><circle cx="428.5" cy="1079.8" r="4.0"/><circle cx="430.7" cy="1078.8" r="4.0"/><circle cx="432.9" cy="1079.4" r="4.0"/><circle cx="435.2" cy="1079.1" r="4.0"/><circle cx="437.4" cy="1078.9" r="4.0"/><circle cx="439.6" cy="1079.5" r="4.0"/><circle cx="441.8" cy="1078.8" r="4.0"/><circle cx="444.1" cy="1080.3" r="4.0"/><circle cx="446.3" cy="1079.0" r="4.0"/><circle cx="448.5" cy="1080.3" r="4.0"/><circle cx="450.7" cy="1078.8" r="4.0"/><circle cx="453.0" cy="1079.6" r="4.0"/><circle cx="455.2" cy="1078.7" r="4.0"/><circle cx="457.4" cy="1078.6" r="4.0"/><circle cx="459.6" cy="1079.4" r="4.0"/><circle cx="461.9" cy="1079.6" r="4.0"/><circle cx="464.1" cy="1078.7" r="4.0"/><circle cx="466.3" cy="1079.9" r="4.0"/><circle cx="468.5" cy="1078.9" r="4.0"/><circle cx="470.8" cy="1079.4" r="4.0"/><circle cx="473.0" cy="1079.5" r="4.0"/><circle cx="475.2" cy="1079.6" r="4.0"/><circle cx="477.4" cy="1078.4" r="4.0"/><circle cx="479.7" cy="1080.1" r="4.0"/><circle cx="481.9" cy="1079.6" r="4.0"/><circle cx="484.1" cy="1079.1" r="4.0"/><circle cx="486.3" cy="1078.8" r="4.0"/><circle cx="488.6" cy="1078.5" r="4.0"/><circle cx="490.8" cy="1078.6" r="4.0"/><circle cx="493.0" cy="1079.6" r="4.0"/><circle cx="495.2" cy="1079.1" r="4.0"/><circle cx="497.5" cy="1078.7" r="4.0"/><circle cx="499.7" cy="1079.0" r="4.0"/><circle cx="501.9" cy="1080.1" r="4.0"/><circle cx="504.1" cy="1079.1" r="4.0"/><circle cx="506.4" cy="1079.0" r="4.0"/><circle cx="508.6" cy="1080.0" r="4.0"/><circle cx="510.8" cy="1079.5" r="4.0"/><circle cx="513.0" cy="1079.3" r="4.0"/><circle cx="515.3" cy="1079.0" r="4.0"/><circle cx="517.5" cy="1078.5" r="4.0"/><circle cx="519.7" cy="1078.7" r="4.0"/><circle cx="521.9" cy="1079.1" r="4.0"/><circle cx="524.2" cy="1079.2" r="4.0"/><circle cx="526.4" cy="1079.5" r="4.0"/><circle cx="528.6" cy="1079.6" r="4.0"/><circle cx="530.8" cy="1079.4" r="4.0"/><circle cx="533.0" cy="1079.4" r="4.0"/><circle cx="535.3" cy="1078.7" r="4.0"/><circle cx="537.5" cy="1078.1" r="4.0"/><circle cx="539.7" cy="1078.9" r="4.0"/><circle cx="541.9" cy="1078.7" r="4.0"/><circle cx="544.2" cy="1078.8" r="4.0"/><circle cx="546.4" cy="1078.9" r="4.0"/><circle cx="548.6" cy="1078.4" r="4.0"/><circle cx="550.8" cy="1078.4" r="4.0"/><circle cx="553.1" cy="1078.8" r="4.0"/><circle cx="555.3" cy="1078.4" r="4.0"/><circle cx="557.5" cy="1077.1" r="4.0"/><circle cx="559.7" cy="1076.5" r="4.0"/><circle cx="562.0" cy="1075.1" r="4.0"/><circle cx="564.2" cy="1073.7" r="4.0"/><circle cx="566.4" cy="1073.3" r="4.0"/><circle cx="568.6" cy="1073.2" r="4.0"/><circle cx="570.9" cy="1070.6" r="4.0"/><circle cx="573.1" cy="1069.9" r="4.0"/><circle cx="575.3" cy="1066.6" r="4.0"/><circle cx="577.5" cy="1059.1" r="4.0"/><circle cx="579.8" cy="1046.5" r="4.0"/><circle cx="582.0" cy="1036.6" r="4.0"/><circle cx="584.2" cy="1009.5" r="4.0"/><circle cx="586.4" cy="971.2" r="4.0"/><circle cx="588.7" cy="934.2" r="4.0"/><circle cx="590.9" cy="916.5" r="4.0"/><circle cx="593.1" cy="899.4" r="4.0"/><circle cx="595.3" cy="880.7" r="4.0"/><circle cx="597.6" cy="865.7" r="4.0"/><circle cx="599.8" cy="852.1" r="4.0"/><circle cx="602.0" cy="842.3" r="4.0"/><circle cx="604.2" cy="835.1" r="4.0"/><circle cx="606.5" cy="826.2" r="4.0"/><circle cx="608.7" cy="820.4" r="4.0"/><circle cx="610.9" cy="815.1" r="4.0"/><circle cx="613.1" cy="814.7" r="4.0"/><circle cx="615.4" cy="812.9" r="4.0"/><circle cx="617.6" cy="813.7" r="4.0"/><circle cx="619.8" cy="813.1" r="4.0"/><circle cx="622.0" cy="817.1" r="4.0"/><circle cx="624.3" cy="819.5" r="4.0"/><circle cx="626.5" cy="821.6" r="4.0"/><circle cx="628.7" cy="825.9" r="4.0"/><circle cx="630.9" cy="831.5" r="4.0"/><circle cx="633.2" cy="835.3" r="4.0"/><circle cx="635.4" cy="843.0" r="4.0"/><circle cx="637.6" cy="853.1" r="4.0"/><circle cx="639.8" cy="858.4" r="4.0"/><circle cx="642.1" cy="864.0" r="4.0"/><circle cx="644.3" cy="869.6" r="4.0"/><circle cx="646.5" cy="877.4" r="4.0"/><circle cx="648.7" cy="885.2" r="4.0"/><circle cx="651.0" cy="889.4" r="4.0"/><circle cx="653.2" cy="894.2" r="4.0"/><circle cx="655.4" cy="900.6" r="4.0"/><circle cx="657.6" cy="907.7" r="4.0"/><circle cx="659.9" cy="911.7" r="4.0"/><circle cx="662.1" cy="915.1" r="4.0"/><circle cx="664.3" cy="920.0" r="4.0"/><circle cx="666.5" cy="923.7" r="4.0"/><circle cx="668.8" cy="927.0" r="4.0"/><circle cx="671.0" cy="932.3" r="4.0"/><circle cx="673.2" cy="932.1" r="4.0"/><circle cx="675.4" cy="932.1" r="4.0"/><circle cx="677.6" cy="936.7" r="4.0"/><circle cx="679.9" cy="934.2" r="4.0"/><circle cx="682.1" cy="938.9" r="4.0"/><circle cx="684.3" cy="938.7" r="4.0"/><circle cx="686.5" cy="952.4" r="4.0"/><circle cx="688.8" cy="948.4" r="4.0"/><circle cx="691.0" cy="945.4" r="4.0"/><circle cx="693.2" cy="948.3" r="4.0"/><circle cx="695.4" cy="955.1" r="4.0"/><circle cx="697.7" cy="955.3" r="4.0"/><circle cx="699.9" cy="961.1" r="4.0"/><circle cx="702.1" cy="962.8" r="4.0"/><circle cx="704.3" cy="970.0" r="4.0"/><circle cx="706.6" cy="967.1" r="4.0"/><circle cx="708.8" cy="967.9" r="4.0"/><circle cx="711.0" cy="968.4" r="4.0"/><circle cx="713.2" cy="971.4" r="4.0"/><circle cx="715.5" cy="977.5" r="4.0"/><circle cx="717.7" cy="978.7" r="4.0"/><circle cx="719.9" cy="984.9" r="4.0"/><circle cx="722.1" cy="980.1" r="4.0"/><circle cx="724.4" cy="987.7" r="4.0"/><circle cx="726.6" cy="987.1" r="4.0"/><circle cx="728.8" cy="988.8" r="4.0"/><circle cx="731.0" cy="984.2" r="4.0"/><circle cx="733.3" cy="988.5" r="4.0"/><circle cx="735.5" cy="997.0" r="4.0"/><circle cx="737.7" cy="1000.4" r="4.0"/><circle cx="739.9" cy="997.3" r="4.0"/><circle cx="742.2" cy="1000.1" r="4.0"/><circle cx="744.4" cy="996.9" r="4.0"/><circle cx="746.6" cy="997.9" r="4.0"/><circle cx="748.8" cy="997.7" r="4.0"/><circle cx="751.1" cy="1004.2" r="4.0"/><circle cx="753.3" cy="1002.6" r="4.0"/><circle cx="755.5" cy="1001.0" r="4.0"/><circle cx="757.7" cy="1001.0" r="4.0"/><circle cx="760.0" cy="1004.4" r="4.0"/><circle cx="762.2" cy="1003.8" r="4.0"/><circle cx="764.4" cy="1000.0" r="4.0"/><circle cx="766.6" cy="1009.1" r="4.0"/><circle cx="768.9" cy="1004.2" r="4.0"/><circle cx="771.1" cy="1003.4" r="4.0"/><circle cx="773.3" cy="1008.7" r="4.0"/><circle cx="775.5" cy="1007.2" r="4.0"/><circle cx="777.8" cy="1003.3" r="4.0"/><circle cx="780.0" cy="1005.5" r="4.0"/><circle cx="782.2" cy="999.8" r="4.0"/><circle cx="784.4" cy="1001.2" r="4.0"/><circle cx="786.7" cy="995.4" r="4.0"/><circle cx="788.9" cy="1007.5" r="4.0"/><circle cx="791.1" cy="996.4" r="4.0"/><circle cx="793.3" cy="1004.4" r="4.0"/><circle cx="795.6" cy="997.2" r="4.0"/><circle cx="797.8" cy="995.0" r="4.0"/><circle cx="800.0" cy="996.0" r="4.0"/><circle cx="802.2" cy="995.9" r="4.0"/><circle cx="804.5" cy="995.4" r="4.0"/><circle cx="806.7" cy="998.0" r="4.0"/><circle cx="808.9" cy="991.7" r="4.0"/><circle cx="811.1" cy="992.0" r="4.0"/><circle cx="813.4" cy="985.0" r="4.0"/><circle cx="815.6" cy="987.4" r="4.0"/><circle cx="817.8" cy="983.0" r="4.0"/><circle cx="820.0" cy="978.7" r="4.0"/><circle cx="822.3" cy="974.8" r="4.0"/><circle cx="824.5" cy="971.0" r="4.0"/><circle cx="826.7" cy="968.0" r="4.0"/><circle cx="828.9" cy="965.0" r="4.0"/><circle cx="831.1" cy="960.9" r="4.0"/><circle cx="833.4" cy="957.3" r="4.0"/><circle cx="835.6" cy="955.0" r="4.0"/><circle cx="837.8" cy="947.2" r="4.0"/><circle cx="840.0" cy="937.2" r="4.0"/><circle cx="842.3" cy="929.1" r="4.0"/><circle cx="844.5" cy="908.6" r="4.0"/><circle cx="846.7" cy="893.3" r="4.0"/><circle cx="848.9" cy="883.3" r="4.0"/><circle cx="851.2" cy="869.5" r="4.0"/><circle cx="853.4" cy="861.3" r="4.0"/><circle cx="855.6" cy="848.2" r="4.0"/><circle cx="857.8" cy="845.4" r="4.0"/><circle cx="860.1" cy="842.3" r="4.0"/><circle cx="862.3" cy="840.4" r="4.0"/><circle cx="864.5" cy="838.9" r="4.0"/><circle cx="866.7" cy="841.2" r="4.0"/><circle cx="869.0" cy="843.5" r="4.0"/><circle cx="871.2" cy="849.8" r="4.0"/><circle cx="873.4" cy="854.1" r="4.0"/><circle cx="875.6" cy="861.4" r="4.0"/><circle cx="877.9" cy="869.5" r="4.0"/><circle cx="880.1" cy="874.6" r="4.0"/><circle cx="882.3" cy="883.0" r="4.0"/><circle cx="884.5" cy="893.6" r="4.0"/><circle cx="886.8" cy="901.1" r="4.0"/><circle cx="889.0" cy="910.1" r="4.0"/><circle cx="891.2" cy="918.4" r="4.0"/><circle cx="893.4" cy="921.9" r="4.0"/><circle cx="895.7" cy="930.0" r="4.0"/><circle cx="897.9" cy="940.6" r="4.0"/><circle cx="900.1" cy="955.3" r="4.0"/><circle cx="902.3" cy="967.3" r="4.0"/><circle cx="904.6" cy="981.9" r="4.0"/><circle cx="906.8" cy="993.9" r="4.0"/><circle cx="909.0" cy="1004.2" r="4.0"/><circle cx="911.2" cy="1013.6" r="4.0"/><circle cx="913.5" cy="1022.5" r="4.0"/><circle cx="915.7" cy="1028.0" r="4.0"/><circle cx="917.9" cy="1031.9" r="4.0"/><circle cx="920.1" cy="1036.4" r="4.0"/><circle cx="922.4" cy="1039.9" r="4.0"/><circle cx="924.6" cy="1045.2" r="4.0"/><circle cx="926.8" cy="1049.4" r="4.0"/><circle cx="929.0" cy="1053.9" r="4.0"/><circle cx="931.3" cy="1056.0" r="4.0"/><circle cx="933.5" cy="1057.4" r="4.0"/><circle cx="935.7" cy="1059.1" r="4.0"/><circle cx="937.9" cy="1061.7" r="4.0"/><circle cx="940.2" cy="1063.6" r="4.0"/><circle cx="942.4" cy="1067.2" r="4.0"/><circle cx="944.6" cy="1069.0" r="4.0"/><circle cx="946.8" cy="1069.4" r="4.0"/><circle cx="949.1" cy="1070.9" r="4.0"/><circle cx="951.3" cy="1073.7" r="4.0"/><circle cx="953.5" cy="1073.9" r="4.0"/><circle cx="955.7" cy="1074.4" r="4.0"/><circle cx="958.0" cy="1076.4" r="4.0"/><circle cx="960.2" cy="1075.9" r="4.0"/><circle cx="962.4" cy="1076.5" r="4.0"/><circle cx="964.6" cy="1076.9" r="4.0"/><circle cx="966.9" cy="1076.2" r="4.0"/><circle cx="969.1" cy="1078.9" r="4.0"/><circle cx="971.3" cy="1077.6" r="4.0"/><circle cx="973.5" cy="1078.5" r="4.0"/><circle cx="975.7" cy="1078.7" r="4.0"/><circle cx="978.0" cy="1080.1" r="4.0"/><circle cx="980.2" cy="1079.7" r="4.0"/><circle cx="982.4" cy="1080.0" r="4.0"/><circle cx="984.6" cy="1078.7" r="4.0"/><circle cx="986.9" cy="1080.1" r="4.0"/><circle cx="989.1" cy="1079.0" r="4.0"/><circle cx="991.3" cy="1080.5" r="4.0"/><circle cx="993.5" cy="1080.7" r="4.0"/><circle cx="995.8" cy="1080.4" r="4.0"/><circle cx="998.0" cy="1082.1" r="4.0"/><circle cx="1000.2" cy="1081.0" r="4.0"/><circle cx="1002.4" cy="1081.1" r="4.0"/><circle cx="1004.7" cy="1080.7" r="4.0"/><circle cx="1006.9" cy="1080.5" r="4.0"/><circle cx="1009.1" cy="1081.5" r="4.0"/><circle cx="1011.3" cy="1081.6" r="4.0"/><circle cx="1013.6" cy="1079.7" r="4.0"/><circle cx="1015.8" cy="1081.7" r="4.0"/><circle cx="1018.0" cy="1081.3" r="4.0"/><circle cx="1020.2" cy="1081.7" r="4.0"/><circle cx="1022.5" cy="1081.3" r="4.0"/><circle cx="1024.7" cy="1080.0" r="4.0"/><circle cx="1026.9" cy="1080.1" r="4.0"/><circle cx="1029.1" cy="1082.5" r="4.0"/><circle cx="1031.4" cy="1081.3" r="4.0"/><circle cx="1033.6" cy="1080.0" r="4.0"/><circle cx="1035.8" cy="1081.5" r="4.0"/><circle cx="1038.0" cy="1080.9" r="4.0"/><circle cx="1040.3" cy="1079.8" r="4.0"/><circle cx="1042.5" cy="1079.5" r="4.0"/><circle cx="1044.7" cy="1080.1" r="4.0"/><circle cx="1046.9" cy="1081.6" r="4.0"/><circle cx="1049.2" cy="1081.4" r="4.0"/><circle cx="1051.4" cy="1081.3" r="4.0"/><circle cx="1053.6" cy="1081.7" r="4.0"/><circle cx="1055.8" cy="1082.0" r="4.0"/><circle cx="1058.1" cy="1079.9" r="4.0"/><circle cx="1060.3" cy="1081.4" r="4.0"/><circle cx="1062.5" cy="1081.0" r="4.0"/><circle cx="1064.7" cy="1080.7" r="4.0"/><circle cx="1067.0" cy="1081.3" r="4.0"/><circle cx="1069.2" cy="1081.7" r="4.0"/><circle cx="1071.4" cy="1081.6" r="4.0"/><circle cx="1073.6" cy="1080.7" r="4.0"/><circle cx="1075.9" cy="1081.5" r="4.0"/><circle cx="1078.1" cy="1083.5" r="4.0"/><circle cx="1080.3" cy="1081.1" r="4.0"/><circle cx="1082.5" cy="1080.6" r="4.0"/><circle cx="1084.8" cy="1082.2" r="4.0"/></g>
<g fill="#ffa500"><circle cx="230.5" cy="1027.2" r="4.0"/><circle cx="232.7" cy="883.7" r="4.0"/><circle cx="234.9" cy="843.0" r="4.0"/><circle cx="237.2" cy="833.7" r="4.0"/><circle cx="239.4" cy="828.2" r="4.0"/><circle cx="241.6" cy="823.5" r="4.0"/><circle cx="243.8" cy="820.6" r="4.0"/><circle cx="246.1" cy="819.0" r="4.0"/><circle cx="248.3" cy="818.4" r="4.0"/><circle cx="250.5" cy="817.4" r="4.0"/><circle cx="252.7" cy="816.1" r="4.0"/><circle cx="255.0" cy="816.4" r="4.0"/><circle cx="257.2" cy="815.5" r="4.0"/><circle cx="259.4" cy="816.3" r="4.0"/><circle cx="261.6" cy="814.4" r="4.0"/><circle cx="263.9" cy="814.5" r="4.0"/><circle cx="266.1" cy="816.9" r="4.0"/><circle cx="268.3" cy="815.3" r="4.0"/><circle cx="270.5" cy="816.5" r="4.0"/><circle cx="272.8" cy="817.0" r="4.0"/><circle cx="275.0" cy="816.9" r="4.0"/><circle cx="277.2" cy="817.3" r="4.0"/><circle cx="279.4" cy="819.2" r="4.0"/><circle cx="281.7" cy="816.0" r="4.0"/><circle cx="283.9" cy="819.4" r="4.0"/><circle cx="286.1" cy="820.9" r="4.0"/><circle cx="288.3" cy="819.0" r="4.0"/><circle cx="290.6" cy="819.1" r="4.0"/><circle cx="292.8" cy="819.9" r="4.0"/><circle cx="295.0" cy="821.1" r="4.0"/><circle cx="297.2" cy="818.5" r="4.0"/><circle cx="299.5" cy="819.7" r="4.0"/><circle cx="301.7" cy="819.6" r="4.0"/><circle cx="303.9" cy="820.3" r="4.0"/><circle cx="306.1" cy="820.1" r="4.0"/><circle cx="308.4" cy="820.6" r="4.0"/><circle cx="310.6" cy="819.7" r="4.0"/><circle cx="312.8" cy="820.2" r="4.0"/><circle cx="315.0" cy="819.7" r="4.0"/><circle cx="317.3" cy="819.7" r="4.0"/><circle cx="319.5" cy="820.3" r="4.0"/><circle cx="321.7" cy="820.3" r="4.0"/><circle cx="323.9" cy="819.5" r="4.0"/><circle cx="326.2" cy="822.0" r="4.0"/><circle cx="328.4" cy="820.6" r="4.0"/><circle cx="330.6" cy="819.5" r="4.0"/><circle cx="332.8" cy="821.8" r="4.0"/><circle cx="335.1" cy="820.2" r="4.0"/><circle cx="337.3" cy="821.4" r="4.0"/><circle cx="339.5" cy="821.0" r="4.0"/><circle cx="341.7" cy="821.3" r="4.0"/><circle cx="344.0" cy="821.3" r="4.0"/><circle cx="346.2" cy="820.7" r="4.0"/><circle cx="348.4" cy="821.4" r="4.0"/><circle cx="350.6" cy="823.2" r="4.0"/><circle cx="352.9" cy="819.5" r="4.0"/><circle cx="355.1" cy="821.6" r="4.0"/><circle cx="357.3" cy="822.0" r="4.0"/><circle cx="359.5" cy="820.7" r="4.0"/><circle cx="361.8" cy="820.5" r="4.0"/><circle cx="364.0" cy="823.7" r="4.0"/><circle cx="366.2" cy="821.5" r="4.0"/><circle cx="368.4" cy="823.7" r="4.0"/><circle cx="370.7" cy="822.4" r="4.0"/><circle cx="372.9" cy="822.0" r="4.0"/><circle cx="375.1" cy="822.3" r="4.0"/><circle cx="377.3" cy="822.5" r="4.0"/><circle cx="379.5" cy="823.0" r="4.0"/><circle cx="381.8" cy="822.3" r="4.0"/><circle cx="384.0" cy="822.0" r="4.0"/><circle cx="386.2" cy="822.1" r="4.0"/><circle cx="388.4" cy="823.1" r="4.0"/><circle cx="390.7" cy="822.6" r="4.0"/><circle cx="392.9" cy="821.0" r="4.0"/><circle cx="395.1" cy="821.3" r="4.0"/><circle cx="397.3" cy="822.2" r="4.0"/><circle cx="399.6" cy="821.3" r="4.0"/><circle cx="401.8" cy="821.6" r="4.0"/><circle cx="404.0" cy="821.0" r="4.0"/><circle cx="406.2" cy="821.7" r="4.0"/><circle cx="408.5" cy="822.3" r="4.0"/><circle cx="410.7" cy="822.9" r="4.0"/><circle cx="412.9" cy="822.0" r="4.0"/><circle cx="415.1" cy="823.9" r="4.0"/><circle cx="417.4" cy="822.0" r="4.0"/><circle cx="419.6" cy="825.0" r="4.0"/><circle cx="421.8" cy="823.1" r="4.0"/><circle cx="424.0" cy="822.7" r="4.0"/><circle cx="426.3" cy="821.9" r="4.0"/><circle cx="428.5" cy="819.8" r="4.0"/><circle cx="430.7" cy="822.3" r="4.0"/><circle cx="432.9" cy="822.6" r="4.0"/><circle cx="435.2" cy="824.2" r="4.0"/><circle cx="437.4" cy="821.3" r="4.0"/><circle cx="439.6" cy="824.2" r="4.0"/><circle cx="441.8" cy="822.3" r="4.0"/><circle cx="444.1" cy="823.2" r="4.0"/><circle cx="446.3" cy="820.2" r="4.0"/><circle cx="448.5" cy="822.6" r="4.0"/><circle cx="450.7" cy="822.2" r="4.0"/><circle cx="453.0" cy="823.1" r="4.0"/><circle cx="455.2" cy="822.6" r="4.0"/><circle cx="457.4" cy="821.5" r="4.0"/><circle cx="459.6" cy="823.4" r="4.0"/><circle cx="461.9" cy="823.1" r="4.0"/><circle cx="464.1" cy="823.0" r="4.0"/><circle cx="466.3" cy="823.4" r="4.0"/><circle cx="468.5" cy="823.5" r="4.0"/><circle cx="470.8" cy="822.5" r="4.0"/><circle cx="473.0" cy="821.3" r="4.0"/><circle cx="475.2" cy="821.3" r="4.0"/><circle cx="477.4" cy="823.7" r="4.0"/><circle cx="479.7" cy="823.1" r="4.0"/><circle cx="481.9" cy="822.6" r="4.0"/><circle cx="484.1" cy="822.1" r="4.0"/><circle cx="486.3" cy="822.5" r="4.0"/><circle cx="488.6" cy="822.5" r="4.0"/><circle cx="490.8" cy="822.2" r="4.0"/><circle cx="493.0" cy="821.9" r="4.0"/><circle cx="495.2" cy="824.5" r="4.0"/><circle cx="497.5" cy="822.8" r="4.0"/><circle cx="499.7" cy="822.0" r="4.0"/><circle cx="501.9" cy="821.4" r="4.0"/><circle cx="504.1" cy="822.0" r="4.0"/><circle cx="506.4" cy="823.3" r="4.0"/><circle cx="508.6" cy="823.4" r="4.0"/><circle cx="510.8" cy="822.5" r="4.0"/><circle cx="513.0" cy="822.8" r="4.0"/><circle cx="515.3" cy="822.5" r="4.0"/><circle cx="517.5" cy="821.9" r="4.0"/><circle cx="519.7" cy="824.1" r="4.0"/><circle cx="521.9" cy="823.3" r="4.0"/><circle cx="524.2" cy="825.2" r="4.0"/><circle cx="526.4" cy="822.4" r="4.0"/><circle cx="528.6" cy="823.0" r="4.0"/><circle cx="530.8" cy="824.0" r="4.0"/><circle cx="533.0" cy="823.1" r="4.0"/><circle cx="535.3" cy="822.2" r="4.0"/><circle cx="537.5" cy="822.7" r="4.0"/><circle cx="539.7" cy="823.8" r="4.0"/><circle cx="541.9" cy="824.2" r="4.0"/><circle cx="544.2" cy="824.0" r="4.0"/><circle cx="546.4" cy="825.2" r="4.0"/><circle cx="548.6" cy="825.4" r="4.0"/><circle cx="550.8" cy="825.0" r="4.0"/><circle cx="553.1" cy="825.0" r="4.0"/><circle cx="555.3" cy="825.0" r="4.0"/><circle cx="557.5" cy="825.9" r="4.0"/><circle cx="559.7" cy="826.5" r="4.0"/><circle cx="562.0" cy="825.9" r="4.0"/><circle cx="564.2" cy="826.5" r="4.0"/><circle cx="566.4" cy="826.1" r="4.0"/><circle cx="568.6" cy="825.3" r="4.0"/><circle cx="570.9" cy="825.9" r="4.0"/><circle cx="573.1" cy="827.3" r="4.0"/><circle cx="575.3" cy="827.4" r="4.0"/><circle cx="577.5" cy="828.1" r="4.0"/><circle cx="579.8" cy="827.7" r="4.0"/><circle cx="582.0" cy="828.3" r="4.0"/><circle cx="584.2" cy="828.8" r="4.0"/><circle cx="586.4" cy="829.2" r="4.0"/><circle cx="588.7" cy="829.5" r="4.0"/><circle cx="590.9" cy="830.8" r="4.0"/><circle cx="593.1" cy="832.3" r="4.0"/><circle cx="595.3" cy="833.3" r="4.0"/><circle cx="597.6" cy="835.6" r="4.0"/><circle cx="599.8" cy="838.1" r="4.0"/><circle cx="602.0" cy="840.2" r="4.0"/><circle cx="604.2" cy="845.1" r="4.0"/><circle cx="606.5" cy="848.5" r="4.0"/><circle cx="608.7" cy="852.6" r="4.0"/><circle cx="610.9" cy="857.5" r="4.0"/><circle cx="613.1" cy="863.7" r="4.0"/><circle cx="615.4" cy="870.7" r="4.0"/><circle cx="617.6" cy="876.9" r="4.0"/><circle cx="619.8" cy="884.4" r="4.0"/><circle cx="622.0" cy="891.6" r="4.0"/><circle cx="624.3" cy="899.3" r="4.0"/><circle cx="626.5" cy="906.7" r="4.0"/><circle cx="628.7" cy="914.0" r="4.0"/><circle cx="630.9" cy="922.6" r="4.0"/><circle cx="633.2" cy="930.8" r="4.0"/><circle cx="635.4" cy="940.7" r="4.0"/><circle cx="637.6" cy="951.0" r="4.0"/><circle cx="639.8" cy="970.2" r="4.0"/><circle cx="642.1" cy="984.2" r="4.0"/><circle cx="644.3" cy="1000.1" r="4.0"/><circle cx="646.5" cy="1011.9" r="4.0"/><circle cx="648.7" cy="1021.9" r="4.0"/><circle cx="651.0" cy="1031.3" r="4.0"/><circle cx="653.2" cy="1037.4" r="4.0"/><circle cx="655.4" cy="1041.6" r="4.0"/><circle cx="657.6" cy="1047.0" r="4.0"/><circle cx="659.9" cy="1052.5" r="4.0"/><circle cx="662.1" cy="1055.2" r="4.0"/><circle cx="664.3" cy="1057.9" r="4.0"/><circle cx="666.5" cy="1060.1" r="4.0"/><circle cx="668.8" cy="1061.8" r="4.0"/><circle cx="671.0" cy="1064.5" r="4.0"/><circle cx="673.2" cy="1065.5" r="4.0"/><circle cx="675.4" cy="1067.0" r="4.0"/><circle cx="677.6" cy="1068.9" r="4.0"/><circle cx="679.9" cy="1070.3" r="4.0"/><circle cx="682.1" cy="1069.9" r="4.0"/><circle cx="684.3" cy="1071.6" r="4.0"/><circle cx="686.5" cy="1072.3" r="4.0"/><circle cx="688.8" cy="1072.9" r="4.0"/><circle cx="691.0" cy="1073.5" r="4.0"/><circle cx="693.2" cy="1073.9" r="4.0"/><circle cx="695.4" cy="1075.1" r="4.0"/><circle cx="697.7" cy="1075.3" r="4.0"/><circle cx="699.9" cy="1075.7" r="4.0"/><circle cx="702.1" cy="1076.5" r="4.0"/><circle cx="704.3" cy="1076.8" r="4.0"/><circle cx="706.6" cy="1077.0" r="4.0"/><circle cx="708.8" cy="1077.3" r="4.0"/><circle cx="711.0" cy="1078.2" r="4.0"/><circle cx="713.2" cy="1078.0" r="4.0"/><circle cx="715.5" cy="1078.0" r="4.0"/><circle cx="717.7" cy="1078.0" r="4.0"/><circle cx="719.9" cy="1078.5" r="4.0"/><circle cx="722.1" cy="1078.5" r="4.0"/><circle cx="724.4" cy="1079.2" r="4.0"/><circle cx="726.6" cy="1079.5" r="4.0"/><circle cx="728.8" cy="1078.8" r="4.0"/><circle cx="731.0" cy="1079.8" r="4.0"/><circle cx="733.3" cy="1080.2" r="4.0"/><circle cx="735.5" cy="1080.2" r="4.0"/><circle cx="737.7" cy="1079.9" r="4.0"/><circle cx="739.9" cy="1080.9" r="4.0"/><circle cx="742.2" cy="1080.3" r="4.0"/><circle cx="744.4" cy="1080.1" r="4.0"/><circle cx="746.6" cy="1080.3" r="4.0"/><circle cx="748.8" cy="1080.8" r="4.0"/><circle cx="751.1" cy="1081.2" r="4.0"/><circle cx="753.3" cy="1081.4" r="4.0"/><circle cx="755.5" cy="1081.0" r="4.0"/><circle cx="757.7" cy="1080.5" r="4.0"/><circle cx="760.0" cy="1080.8" r="4.0"/><circle cx="762.2" cy="1080.8" r="4.0"/><circle cx="764.4" cy="1081.1" r="4.0"/><circle cx="766.6" cy="1080.5" r="4.0"/><circle cx="768.9" cy="1081.3" r="4.0"/><circle cx="771.1" cy="1081.6" r="4.0"/><circle cx="773.3" cy="1081.3" r="4.0"/><circle cx="775.5" cy="1081.6" r="4.0"/><circle cx="777.8" cy="1081.0" r="4.0"/><circle cx="780.0" cy="1080.9" r="4.0"/><circle cx="782.2" cy="1081.2" r="4.0"/><circle cx="784.4" cy="1081.9" r="4.0"/><circle cx="786.7" cy="1081.9" r="4.0"/><circle cx="788.9" cy="1081.3" r="4.0"/><circle cx="791.1" cy="1082.0" r="4.0"/><circle cx="793.3" cy="1081.3" r="4.0"/><circle cx="795.6" cy="1082.0" r="4.0"/><circle cx="797.8" cy="1081.4" r="4.0"/><circle cx="800.0" cy="1080.9" r="4.0"/><circle cx="802.2" cy="1081.3" r="4.0"/><circle cx="804.5" cy="1080.4" r="4.0"/><circle cx="806.7" cy="1080.1" r="4.0"/><circle cx="808.9" cy="1079.7" r="4.0"/><circle cx="811.1" cy="1080.2" r="4.0"/><circle cx="813.4" cy="1079.8" r="4.0"/><circle cx="815.6" cy="1079.4" r="4.0"/><circle cx="817.8" cy="1078.8" r="4.0"/><circle cx="820.0" cy="1079.0" r="4.0"/><circle cx="822.3" cy="1077.7" r="4.0"/><circle cx="824.5" cy="1077.0" r="4.0"/><circle cx="826.7" cy="1077.2" r="4.0"/><circle cx="828.9" cy="1076.7" r="4.0"/><circle cx="831.1" cy="1075.8" r="4.0"/><circle cx="833.4" cy="1074.4" r="4.0"/><circle cx="835.6" cy="1074.1" r="4.0"/><circle cx="837.8" cy="1073.4" r="4.0"/><circle cx="840.0" cy="1070.5" r="4.0"/><circle cx="842.3" cy="1068.1" r="4.0"/><circle cx="844.5" cy="1064.0" r="4.0"/><circle cx="846.7" cy="1055.3" r="4.0"/><circle cx="848.9" cy="1042.6" r="4.0"/><circle cx="851.2" cy="1025.2" r="4.0"/><circle cx="853.4" cy="1000.4" r="4.0"/><circle cx="855.6" cy="965.4" r="4.0"/><circle cx="857.8" cy="937.6" r="4.0"/><circle cx="860.1" cy="920.9" r="4.0"/><circle cx="862.3" cy="905.9" r="4.0"/><circle cx="864.5" cy="895.7" r="4.0"/><circle cx="866.7" cy="887.8" r="4.0"/><circle cx="869.0" cy="882.5" r="4.0"/><circle cx="871.2" cy="877.2" r="4.0"/><circle cx="873.4" cy="867.6" r="4.0"/><circle cx="875.6" cy="860.8" r="4.0"/><circle cx="877.9" cy="857.8" r="4.0"/><circle cx="880.1" cy="855.5" r="4.0"/><circle cx="882.3" cy="854.9" r="4.0"/><circle cx="884.5" cy="854.4" r="4.0"/><circle cx="886.8" cy="855.8" r="4.0"/><circle cx="889.0" cy="857.2" r="4.0"/><circle cx="891.2" cy="858.6" r="4.0"/><circle cx="893.4" cy="861.9" r="4.0"/><circle cx="895.7" cy="866.8" r="4.0"/><circle cx="897.9" cy="873.5" r="4.0"/><circle cx="900.1" cy="879.7" r="4.0"/><circle cx="902.3" cy="886.0" r="4.0"/><circle cx="904.6" cy="893.4" r="4.0"/><circle cx="906.8" cy="900.6" r="4.0"/><circle cx="909.0" cy="904.8" r="4.0"/><circle cx="911.2" cy="910.7" r="4.0"/><circle cx="913.5" cy="918.2" r="4.0"/><circle cx="915.7" cy="922.8" r="4.0"/><circle cx="917.9" cy="927.7" r="4.0"/><circle cx="920.1" cy="935.9" r="4.0"/><circle cx="922.4" cy="942.6" r="4.0"/><circle cx="924.6" cy="945.9" r="4.0"/><circle cx="926.8" cy="953.5" r="4.0"/><circle cx="929.0" cy="960.6" r="4.0"/><circle cx="931.3" cy="967.5" r="4.0"/><circle cx="933.5" cy="973.7" r="4.0"/><circle cx="935.7" cy="979.7" r="4.0"/><circle cx="937.9" cy="986.8" r="4.0"/><circle cx="940.2" cy="989.7" r="4.0"/><circle cx="942.4" cy="994.2" r="4.0"/><circle cx="944.6" cy="998.6" r="4.0"/><circle cx="946.8" cy="1003.1" r="4.0"/><circle cx="949.1" cy="1007.4" r="4.0"/><circle cx="951.3" cy="1013.2" r="4.0"/><circle cx="953.5" cy="1015.2" r="4.0"/><circle cx="955.7" cy="1018.2" r="4.0"/><circle cx="958.0" cy="1021.0" r="4.0"/><circle cx="960.2" cy="1023.5" r="4.0"/><circle cx="962.4" cy="1027.3" r="4.0"/><circle cx="964.6" cy="1030.1" r="4.0"/><circle cx="966.9" cy="1034.5" r="4.0"/><circle cx="969.1" cy="1035.7" r="4.0"/><circle cx="971.3" cy="1036.9" r="4.0"/><circle cx="973.5" cy="1039.9" r="4.0"/><circle cx="975.7" cy="1041.7" r="4.0"/><circle cx="978.0" cy="1040.8" r="4.0"/><circle cx="980.2" cy="1047.3" r="4.0"/><circle cx="982.4" cy="1047.8" r="4.0"/><circle cx="984.6" cy="1049.9" r="4.0"/><circle cx="986.9" cy="1053.5" r="4.0"/><circle cx="989.1" cy="1054.4" r="4.0"/><circle cx="991.3" cy="1055.4" r="4.0"/><circle cx="993.5" cy="1060.5" r="4.0"/><circle cx="995.8" cy="1058.1" r="4.0"/><circle cx="998.0" cy="1060.6" r="4.0"/><circle cx="1000.2" cy="1062.8" r="4.0"/><circle cx="1002.4" cy="1061.5" r="4.0"/><circle cx="1004.7" cy="1063.4" r="4.0"/><circle cx="1006.9" cy="1064.8" r="4.0"/><circle cx="1009.1" cy="1068.0" r="4.0"/><circle cx="1011.3" cy="1064.9" r="4.0"/><circle cx="1013.6" cy="1066.8" r="4.0"/><circle cx="1015.8" cy="1068.6" r="4.0"/><circle cx="1018.0" cy="1068.9" r="4.0"/><circle cx="1020.2" cy="1068.3" r="4.0"/><circle cx="1022.5" cy="1071.1" r="4.0"/><circle cx="1024.7" cy="1071.5" r="4.0"/><circle cx="1026.9" cy="1072.6" r="4.0"/><circle cx="1029.1" cy="1074.1" r="4.0"/><circle cx="1031.4" cy="1074.5" r="4.0"/><circle cx="1033.6" cy="1074.4" r="4.0"/><circle cx="1035.8" cy="1074.8" r="4.0"/><circle cx="1038.0" cy="1073.6" r="4.0"/><circle cx="1040.3" cy="1075.2" r="4.0"/><circle cx="1042.5" cy="1076.1" r="4.0"/><circle cx="1044.7" cy="1075.7" r="4.0"/><circle cx="1046.9" cy="1076.6" r="4.0"/><circle cx="1049.2" cy="1075.8" r="4.0"/><circle cx="1051.4" cy="1079.0" r="4.0"/><circle cx="1053.6" cy="1080.0" r="4.0"/><circle cx="1055.8" cy="1077.2" r="4.0"/><circle cx="1058.1" cy="1078.4" r="4.0"/><circle cx="1060.3" cy="1077.8" r="4.0"/><circle cx="1062.5" cy="1079.8" r="4.0"/><circle cx="1064.7" cy="1079.0" r="4.0"/><circle cx="1067.0" cy="1078.8" r="4.0"/><circle cx="1069.2" cy="1078.6" r="4.0"/><circle cx="1071.4" cy="1079.2" r="4.0"/><circle cx="1073.6" cy="1078.0" r="4.0"/><circle cx="1075.9" cy="1080.2" r="4.0"/><circle cx="1078.1" cy="1078.7" r="4.0"/><circle cx="1080.3" cy="1080.3" r="4.0"/><circle cx="1082.5" cy="1080.0" r="4.0"/><circle cx="1084.8" cy="1081.2" r="4.0"/></g>
<g fill="#008000"><circle cx="230.5" cy="1058.0" r="4.0"/><circle cx="232.7" cy="1059.6" r="4.0"/><circle cx="234.9" cy="1077.4" r="4.0"/><circle cx="237.2" cy="1080.9" r="4.0"/><circle cx="239.4" cy="1082.5" r="4.0"/><circle cx="241.6" cy="1083.2" r="4.0"/><circle cx="243.8" cy="1083.4" r="4.0"/><circle cx="246.1" cy="1083.8" r="4.0"/><circle cx="248.3" cy="1083.4" r="4.0"/><circle cx="250.5" cy="1084.0" r="4.0"/><circle cx="252.7" cy="1083.8" r="4.0"/><circle cx="255.0" cy="1084.4" r="4.0"/><circle cx="257.2" cy="1083.9" r="4.0"/><circle cx="259.4" cy="1084.1" r="4.0"/><circle cx="261.6" cy="1084.0" r="4.0"/><circle cx="263.9" cy="1084.7" r="4.0"/><circle cx="266.1" cy="1084.1" r="4.0"/><circle cx="268.3" cy="1084.4" r="4.0"/><circle cx="270.5" cy="1084.3" r="4.0"/><circle cx="272.8" cy="1084.0" r="4.0"/><circle cx="275.0" cy="1084.3" r="4.0"/><circle cx="277.2" cy="1084.5" r="4.0"/><circle cx="279.4" cy="1084.4" r="4.0"/><circle cx="281.7" cy="1084.6" r="4.0"/><circle cx="283.9" cy="1084.3" r="4.0"/><circle cx="286.1" cy="1084.4" r="4.0"/><circle cx="288.3" cy="1084.3" r="4.0"/><circle cx="290.6" cy="1084.5" r="4.0"/><circle cx="292.8" cy="1084.8" r="4.0"/><circle cx="295.0" cy="1084.5" r="4.0"/><circle cx="297.2" cy="1084.4" r="4.0"/><circle cx="299.5" cy="1084.3" r="4.0"/><circle cx="301.7" cy="1084.2" r="4.0"/><circle cx="303.9" cy="1084.7" r="4.0"/><circle cx="306.1" cy="1084.2" r="4.0"/><circle cx="308.4" cy="1084.2" r="4.0"/><circle cx="310.6" cy="1084.4" r="4.0"/><circle cx="312.8" cy="1084.3" r="4.0"/><circle cx="315.0" cy="1084.8" r="4.0"/><circle cx="317.3" cy="1083.9" r="4.0"/><circle cx="319.5" cy="1084.5" r="4.0"/><circle cx="321.7" cy="1084.5" r="4.0"/><circle cx="323.9" cy="1084.2" r="4.0"/><circle cx="326.2" cy="1084.3" r="4.0"/><circle cx="328.4" cy="1084.5" r="4.0"/><circle cx="330.6" cy="1084.7" r="4.0"/><circle cx="332.8" cy="1084.2" r="4.0"/><circle cx="335.1" cy="1084.1" r="4.0"/><circle cx="337.3" cy="1084.6" r="4.0"/><circle cx="339.5" cy="1084.7" r="4.0"/><circle cx="341.7" cy="1084.3" r="4.0"/><circle cx="344.0" cy="1084.0" r="4.0"/><circle cx="346.2" cy="1084.7" r="4.0"/><circle cx="348.4" cy="1084.4" r="4.0"/><circle cx="350.6" cy="1084.6" r="4.0"/><circle cx="352.9" cy="1084.4" r="4.0"/><circle cx="355.1" cy="1084.3" r="4.0"/><circle cx="357.3" cy="1084.3" r="4.0"/><circle cx="359.5" cy="1084.7" r="4.0"/><circle cx="361.8" cy="1084.7" r="4.0"/><circle cx="364.0" cy="1084.0" r="4.0"/><circle cx="366.2" cy="1084.2" r="4.0"/><circle cx="368.4" cy="1084.8" r="4.0"/><circle cx="370.7" cy="1084.3" r="4.0"/><circle cx="372.9" cy="1084.1" r="4.0"/><circle cx="375.1" cy="1084.4" r="4.0"/><circle cx="377.3" cy="1084.4" r="4.0"/><circle cx="379.5" cy="1084.4" r="4.0"/><circle cx="381.8" cy="1084.3" r="4.0"/><circle cx="384.0" cy="1084.3" r="4.0"/><circle cx="386.2" cy="1084.3" r="4.0"/><circle cx="388.4" cy="1084.5" r="4.0"/><circle cx="390.7" cy="1084.2" r="4.0"/><circle cx="392.9" cy="1084.3" r="4.0"/><circle cx="395.1" cy="1084.4" r="4.0"/><circle cx="397.3" cy="1084.7" r="4.0"/><circle cx="399.6" cy="1084.5" r="4.0"/><circle cx="401.8" cy="1084.4" r="4.0"/><circle cx="404.0" cy="1084.5" r="4.0"/><circle cx="406.2" cy="1084.5" r="4.0"/><circle cx="408.5" cy="1084.6" r="4.0"/><circle cx="410.7" cy="1084.5" r="4.0"/><circle cx="412.9" cy="1084.8" r="4.0"/><circle cx="415.1" cy="1084.7" r="4.0"/><circle cx="417.4" cy="1084.4" r="4.0"/><circle cx="419.6" cy="1084.3" r="4.0"/><circle cx="421.8" cy="1084.6" r="4.0"/><circle cx="424.0" cy="1084.5" r="4.0"/><circle cx="426.3" cy="1084.4" r="4.0"/><circle cx="428.5" cy="1084.1" r="4.0"/><circle cx="430.7" cy="1084.0" r="4.0"/><circle cx="432.9" cy="1084.5" r="4.0"/><circle cx="435.2" cy="1084.6" r="4.0"/><circle cx="437.4" cy="1084.6" r="4.0"/><circle cx="439.6" cy="1084.1" r="4.0"/><circle cx="441.8" cy="1084.6" r="4.0"/><circle cx="444.1" cy="1084.3" r="4.0"/><circle cx="446.3" cy="1084.5" r="4.0"/><circle cx="448.5" cy="1084.5" r="4.0"/><circle cx="450.7" cy="1084.2" r="4.0"/><circle cx="453.0" cy="1084.3" r="4.0"/><circle cx="455.2" cy="1084.0" r="4.0"/><circle cx="457.4" cy="1084.2" r="4.0"/><circle cx="459.6" cy="1084.0" r="4.0"/><circle cx="461.9" cy="1084.5" r="4.0"/><circle cx="464.1" cy="1084.4" r="4.0"/><circle cx="466.3" cy="1084.6" r="4.0"/><circle cx="468.5" cy="1084.5" r="4.0"/><circle cx="470.8" cy="1084.3" r="4.0"/><circle cx="473.0" cy="1084.5" r="4.0"/><circle cx="475.2" cy="1084.3" r="4.0"/><circle cx="477.4" cy="1084.5" r="4.0"/><circle cx="479.7" cy="1084.5" r="4.0"/><circle cx="481.9" cy="1084.2" r="4.0"/><circle cx="484.1" cy="1084.4" r="4.0"/><circle cx="486.3" cy="1084.4" r="4.0"/><circle cx="488.6" cy="1084.3" r="4.0"/><circle cx="490.8" cy="1084.6" r="4.0"/><circle cx="493.0" cy="1084.7" r="4.0"/><circle cx="495.2" cy="1084.3" r="4.0"/><circle cx="497.5" cy="1084.3" r="4.0"/><circle cx="499.7" cy="1083.9" r="4.0"/><circle cx="501.9" cy="1084.4" r="4.0"/><circle cx="504.1" cy="1084.3" r="4.0"/><circle cx="506.4" cy="1084.0" r="4.0"/><circle cx="508.6" cy="1084.4" r="4.0"/><circle cx="510.8" cy="1084.5" r="4.0"/><circle cx="513.0" cy="1084.2" r="4.0"/><circle cx="515.3" cy="1084.3" r="4.0"/><circle cx="517.5" cy="1084.2" r="4.0"/><circle cx="519.7" cy="1084.5" r="4.0"/><circle cx="521.9" cy="1084.1" r="4.0"/><circle cx="524.2" cy="1084.3" r="4.0"/><circle cx="526.4" cy="1084.8" r="4.0"/><circle cx="528.6" cy="1084.4" r="4.0"/><circle cx="530.8" cy="1084.5" r="4.0"/><circle cx="533.0" cy="1084.4" r="4.0"/><circle cx="535.3" cy="1084.2" r="4.0"/><circle cx="537.5" cy="1084.4" r="4.0"/><circle cx="539.7" cy="1084.5" r="4.0"/><circle cx="541.9" cy="1084.2" r="4.0"/><circle cx="544.2" cy="1084.5" r="4.0"/><circle cx="546.4" cy="1084.6" r="4.0"/><circle cx="548.6" cy="1084.6" r="4.0"/><circle cx="550.8" cy="1084.1" r="4.0"/><circle cx="553.1" cy="1084.2" r="4.0"/><circle cx="555.3" cy="1084.1" r="4.0"/><circle cx="557.5" cy="1084.6" r="4.0"/><circle cx="559.7" cy="1084.5" r="4.0"/><circle cx="562.0" cy="1084.5" r="4.0"/><circle cx="564.2" cy="1084.2" r="4.0"/><circle cx="566.4" cy="1084.2" r="4.0"/><circle cx="568.6" cy="1084.4" r="4.0"/><circle cx="570.9" cy="1084.4" r="4.0"/><circle cx="573.1" cy="1084.2" r="4.0"/><circle cx="575.3" cy="1084.4" r="4.0"/><circle cx="577.5" cy="1084.5" r="4.0"/><circle cx="579.8" cy="1084.4" r="4.0"/><circle cx="582.0" cy="1084.2" r="4.0"/><circle cx="584.2" cy="1084.0" r="4.0"/><circle cx="586.4" cy="1084.3" r="4.0"/><circle cx="588.7" cy="1084.4" r="4.0"/><circle cx="590.9" cy="1084.3" r="4.0"/><circle cx="593.1" cy="1084.3" r="4.0"/><circle cx="595.3" cy="1084.2" r="4.0"/><circle cx="597.6" cy="1084.5" r="4.0"/><circle cx="599.8" cy="1084.4" r="4.0"/><circle cx="602.0" cy="1084.4" r="4.0"/><circle cx="604.2" cy="1084.2" r="4.0"/><circle cx="606.5" cy="1084.3" r="4.0"/><circle cx="608.7" cy="1084.4" r="4.0"/><circle cx="610.9" cy="1084.2" r="4.0"/><circle cx="613.1" cy="1084.1" r="4.0"/><circle cx="615.4" cy="1084.3" r="4.0"/><circle cx="617.6" cy="1084.6" r="4.0"/><circle cx="619.8" cy="1084.4" r="4.0"/><circle cx="622.0" cy="1084.7" r="4.0"/><circle cx="624.3" cy="1084.3" r="4.0"/><circle cx="626.5" cy="1084.3" r="4.0"/><circle cx="628.7" cy="1084.1" r="4.0"/><circle cx="630.9" cy="1084.3" r="4.0"/><circle cx="633.2" cy="1084.7" r="4.0"/><circle cx="635.4" cy="1084.4" r="4.0"/><circle cx="637.6" cy="1084.5" r="4.0"/><circle cx="639.8" cy="1084.5" r="4.0"/><circle cx="642.1" cy="1084.4" r="4.0"/><circle cx="644.3" cy="1084.3" r="4.0"/><circle cx="646.5" cy="1084.4" r="4.0"/><circle cx="648.7" cy="1084.5" r="4.0"/><circle cx="651.0" cy="1084.5" r="4.0"/><circle cx="653.2" cy="1084.5" r="4.0"/><circle cx="655.4" cy="1084.4" r="4.0"/><circle cx="657.6" cy="1084.2" r="4.0"/><circle cx="659.9" cy="1084.3" r="4.0"/><circle cx="662.1" cy="1084.2" r="4.0"/><circle cx="664.3" cy="1084.6" r="4.0"/><circle cx="666.5" cy="1083.9" r="4.0"/><circle cx="668.8" cy="1084.3" r="4.0"/><circle cx="671.0" cy="1084.8" r="4.0"/><circle cx="673.2" cy="1084.3" r="4.0"/><circle cx="675.4" cy="1084.1" r="4.0"/><circle cx="677.6" cy="1084.4" r="4.0"/><circle cx="679.9" cy="1084.6" r="4.0"/><circle cx="682.1" cy="1084.3" r="4.0"/><circle cx="684.3" cy="1084.5" r="4.0"/><circle cx="686.5" cy="1084.4" r="4.0"/><circle cx="688.8" cy="1084.3" r="4.0"/><circle cx="691.0" cy="1085.0" r="4.0"/><circle cx="693.2" cy="1084.4" r="4.0"/><circle cx="695.4" cy="1084.3" r="4.0"/><circle cx="697.7" cy="1084.3" r="4.0"/><circle cx="699.9" cy="1084.4" r="4.0"/><circle cx="702.1" cy="1084.4" r="4.0"/><circle cx="704.3" cy="1084.5" r="4.0"/><circle cx="706.6" cy="1084.4" r="4.0"/><circle cx="708.8" cy="1084.1" r="4.0"/><circle cx="711.0" cy="1084.5" r="4.0"/><circle cx="713.2" cy="1084.3" r="4.0"/><circle cx="715.5" cy="1084.3" r="4.0"/><circle cx="717.7" cy="1084.1" r="4.0"/><circle cx="719.9" cy="1084.2" r="4.0"/><circle cx="722.1" cy="1084.2" r="4.0"/><circle cx="724.4" cy="1084.3" r="4.0"/><circle cx="726.6" cy="1084.1" r="4.0"/><circle cx="728.8" cy="1084.4" r="4.0"/><circle cx="731.0" cy="1084.4" r="4.0"/><circle cx="733.3" cy="1084.1" r="4.0"/><circle cx="735.5" cy="1084.2" r="4.0"/><circle cx="737.7" cy="1084.2" r="4.0"/><circle cx="739.9" cy="1084.5" r="4.0"/><circle cx="742.2" cy="1083.8" r="4.0"/><circle cx="744.4" cy="1084.3" r="4.0"/><circle cx="746.6" cy="1084.0" r="4.0"/><circle cx="748.8" cy="1084.3" r="4.0"/><circle cx="751.1" cy="1084.5" r="4.0"/><circle cx="753.3" cy="1084.2" r="4.0"/><circle cx="755.5" cy="1084.4" r="4.0"/><circle cx="757.7" cy="1084.2" r="4.0"/><circle cx="760.0" cy="1084.7" r="4.0"/><circle cx="762.2" cy="1084.5" r="4.0"/><circle cx="764.4" cy="1084.6" r="4.0"/><circle cx="766.6" cy="1084.1" r="4.0"/><circle cx="768.9" cy="1084.1" r="4.0"/><circle cx="771.1" cy="1084.5" r="4.0"/><circle cx="773.3" cy="1084.3" r="4.0"/><circle cx="775.5" cy="1084.3" r="4.0"/><circle cx="777.8" cy="1084.4" r="4.0"/><circle cx="780.0" cy="1084.1" r="4.0"/><circle cx="782.2" cy="1084.5" r="4.0"/><circle cx="784.4" cy="1084.3" r="4.0"/><circle cx="786.7" cy="1084.4" r="4.0"/><circle cx="788.9" cy="1084.2" r="4.0"/><circle cx="791.1" cy="1084.4" r="4.0"/><circle cx="793.3" cy="1084.2" r="4.0"/><circle cx="795.6" cy="1084.5" r="4.0"/><circle cx="797.8" cy="1084.5" r="4.0"/><circle cx="800.0" cy="1084.5" r="4.0"/><circle cx="802.2" cy="1084.4" r="4.0"/><circle cx="804.5" cy="1084.4" r="4.0"/><circle cx="806.7" cy="1083.8" r="4.0"/><circle cx="808.9" cy="1084.5" r="4.0"/><circle cx="811.1" cy="1084.3" r="4.0"/><circle cx="813.4" cy="1084.3" r="4.0"/><circle cx="815.6" cy="1084.3" r="4.0"/><circle cx="817.8" cy="1084.0" r="4.0"/><circle cx="820.0" cy="1084.2" r="4.0"/><circle cx="822.3" cy="1084.4" r="4.0"/><circle cx="824.5" cy="1084.6" r="4.0"/><circle cx="826.7" cy="1084.2" r="4.0"/><circle cx="828.9" cy="1084.1" r="4.0"/><circle cx="831.1" cy="1084.6" r="4.0"/><circle cx="833.4" cy="1084.1" r="4.0"/><circle cx="835.6" cy="1084.7" r="4.0"/><circle cx="837.8" cy="1084.3" r="4.0"/><circle cx="840.0" cy="1084.1" r="4.0"/><circle cx="842.3" cy="1084.5" r="4.0"/><circle cx="844.5" cy="1084.6" r="4.0"/><circle cx="846.7" cy="1083.3" r="4.0"/><circle cx="848.9" cy="1082.6" r="4.0"/><circle cx="851.2" cy="1080.7" r="4.0"/><circle cx="853.4" cy="1079.7" r="4.0"/><circle cx="855.6" cy="1078.3" r="4.0"/><circle cx="857.8" cy="1077.3" r="4.0"/><circle cx="860.1" cy="1076.9" r="4.0"/><circle cx="862.3" cy="1076.2" r="4.0"/><circle cx="864.5" cy="1075.4" r="4.0"/><circle cx="866.7" cy="1074.2" r="4.0"/><circle cx="869.0" cy="1072.4" r="4.0"/><circle cx="871.2" cy="1070.4" r="4.0"/><circle cx="873.4" cy="1068.4" r="4.0"/><circle cx="875.6" cy="1066.4" r="4.0"/><circle cx="877.9" cy="1064.1" r="4.0"/><circle cx="880.1" cy="1062.0" r="4.0"/><circle cx="882.3" cy="1059.6" r="4.0"/><circle cx="884.5" cy="1058.3" r="4.0"/><circle cx="886.8" cy="1056.4" r="4.0"/><circle cx="889.0" cy="1054.9" r="4.0"/><circle cx="891.2" cy="1053.8" r="4.0"/><circle cx="893.4" cy="1050.7" r="4.0"/><circle cx="895.7" cy="1051.9" r="4.0"/><circle cx="897.9" cy="1048.2" r="4.0"/><circle cx="900.1" cy="1049.0" r="4.0"/><circle cx="902.3" cy="1046.4" r="4.0"/><circle cx="904.6" cy="1052.0" r="4.0"/><circle cx="906.8" cy="1050.3" r="4.0"/><circle cx="909.0" cy="1046.9" r="4.0"/><circle cx="911.2" cy="1048.9" r="4.0"/><circle cx="913.5" cy="1050.8" r="4.0"/><circle cx="915.7" cy="1050.2" r="4.0"/><circle cx="917.9" cy="1050.2" r="4.0"/><circle cx="920.1" cy="1047.9" r="4.0"/><circle cx="922.4" cy="1048.2" r="4.0"/><circle cx="924.6" cy="1049.4" r="4.0"/><circle cx="926.8" cy="1050.6" r="4.0"/><circle cx="929.0" cy="1047.2" r="4.0"/><circle cx="931.3" cy="1046.4" r="4.0"/><circle cx="933.5" cy="1050.2" r="4.0"/><circle cx="935.7" cy="1046.3" r="4.0"/><circle cx="937.9" cy="1049.7" r="4.0"/><circle cx="940.2" cy="1048.1" r="4.0"/><circle cx="942.4" cy="1049.3" r="4.0"/><circle cx="944.6" cy="1050.9" r="4.0"/><circle cx="946.8" cy="1049.1" r="4.0"/><circle cx="949.1" cy="1049.3" r="4.0"/><circle cx="951.3" cy="1046.4" r="4.0"/><circle cx="953.5" cy="1047.0" r="4.0"/><circle cx="955.7" cy="1049.5" r="4.0"/><circle cx="958.0" cy="1051.3" r="4.0"/><circle cx="960.2" cy="1051.2" r="4.0"/><circle cx="962.4" cy="1053.0" r="4.0"/><circle cx="964.6" cy="1049.5" r="4.0"/><circle cx="966.9" cy="1049.5" r="4.0"/><circle cx="969.1" cy="1051.2" r="4.0"/><circle cx="971.3" cy="1049.7" r="4.0"/><circle cx="973.5" cy="1049.8" r="4.0"/><circle cx="975.7" cy="1048.2" r="4.0"/><circle cx="978.0" cy="1052.1" r="4.0"/><circle cx="980.2" cy="1048.5" r="4.0"/><circle cx="982.4" cy="1051.4" r="4.0"/><circle cx="984.6" cy="1047.9" r="4.0"/><circle cx="986.9" cy="1052.3" r="4.0"/><circle cx="989.1" cy="1048.2" r="4.0"/><circle cx="991.3" cy="1051.3" r="4.0"/><circle cx="993.5" cy="1046.5" r="4.0"/><circle cx="995.8" cy="1048.2" r="4.0"/><circle cx="998.0" cy="1050.7" r="4.0"/><circle cx="1000.2" cy="1046.9" r="4.0"/><circle cx="1002.4" cy="1048.2" r="4.0"/><circle cx="1004.7" cy="1047.1" r="4.0"/><circle cx="1006.9" cy="1043.9" r="4.0"/><circle cx="1009.1" cy="1048.7" r="4.0"/><circle cx="1011.3" cy="1049.0" r="4.0"/><circle cx="1013.6" cy="1046.4" r="4.0"/><circle cx="1015.8" cy="1049.6" r="4.0"/><circle cx="1018.0" cy="1047.4" r="4.0"/><circle cx="1020.2" cy="1047.2" r="4.0"/><circle cx="1022.5" cy="1049.2" r="4.0"/><circle cx="1024.7" cy="1048.2" r="4.0"/><circle cx="1026.9" cy="1053.6" r="4.0"/><circle cx="1029.1" cy="1046.9" r="4.0"/><circle cx="1031.4" cy="1051.1" r="4.0"/><circle cx="1033.6" cy="1051.7" r="4.0"/><circle cx="1035.8" cy="1046.5" r="4.0"/><circle cx="1038.0" cy="1047.1" r="4.0"/><circle cx="1040.3" cy="1051.3" r="4.0"/><circle cx="1042.5" cy="1049.5" r="4.0"/><circle cx="1044.7" cy="1051.1" r="4.0"/><circle cx="1046.9" cy="1052.5" r="4.0"/><circle cx="1049.2" cy="1049.8" r="4.0"/><circle cx="1051.4" cy="1048.5" r="4.0"/><circle cx="1053.6" cy="1045.3" r="4.0"/><circle cx="1055.8" cy="1050.3" r="4.0"/><circle cx="1058.1" cy="1047.9" r="4.0"/><circle cx="1060.3" cy="1049.9" r="4.0"/><circle cx="1062.5" cy="1049.4" r="4.0"/><circle cx="1064.7" cy="1046.3" r="4.0"/><circle cx="1067.0" cy="1051.7" r="4.0"/><circle cx="1069.2" cy="1050.5" r="4.0"/><circle cx="1071.4" cy="1050.0" r="4.0"/><circle cx="1073.6" cy="1046.5" r="4.0"/><circle cx="1075.9" cy="1048.0" r="4.0"/><circle cx="1078.1" cy="1047.9" r="4.0"/><circle cx="1080.3" cy="1048.4" r="4.0"/><circle cx="1082.5" cy="1047.4" r="4.0"/><circle cx="1084.8" cy="1050.6" r="4.0"/></g>
</g>
<clipPath id="cpj"><rect x="230.2" y="1183.2" width="856.0" height="283.29999999999995"/></clipPath>
<g clip-path="url(#cpj)">
<g fill="#0000ff"><circle cx="230.2" cy="1422.4" r="4.0"/><circle cx="233.0" cy="1419.3" r="4.0"/><circle cx="235.8" cy="1417.8" r="4.0"/><circle cx="238.5" cy="1420.1" r="4.0"/><circle cx="241.3" cy="1423.8" r="4.0"/><circle cx="244.1" cy="1423.2" r="4.0"/><circle cx="246.9" cy="1430.1" r="4.0"/><circle cx="249.7" cy="1433.1" r="4.0"/><circle cx="252.5" cy="1436.5" r="4.0"/><circle cx="255.2" cy="1435.8" r="4.0"/><circle cx="258.0" cy="1437.5" r="4.0"/><circle cx="260.8" cy="1438.4" r="4.0"/><circle cx="263.6" cy="1442.5" r="4.0"/><circle cx="266.4" cy="1442.2" r="4.0"/><circle cx="269.1" cy="1443.4" r="4.0"/><circle cx="271.9" cy="1444.7" r="4.0"/><circle cx="274.7" cy="1448.5" r="4.0"/><circle cx="277.5" cy="1447.8" r="4.0"/><circle cx="280.3" cy="1446.5" r="4.0"/><circle cx="283.0" cy="1451.3" r="4.0"/><circle cx="285.8" cy="1449.4" r="4.0"/><circle cx="288.6" cy="1451.8" r="4.0"/><circle cx="291.4" cy="1452.2" r="4.0"/><circle cx="294.2" cy="1454.0" r="4.0"/><circle cx="297.0" cy="1454.0" r="4.0"/><circle cx="299.7" cy="1451.4" r="4.0"/><circle cx="302.5" cy="1452.4" r="4.0"/><circle cx="305.3" cy="1450.6" r="4.0"/><circle cx="308.1" cy="1456.2" r="4.0"/><circle cx="310.9" cy="1454.3" r="4.0"/><circle cx="313.6" cy="1456.3" r="4.0"/><circle cx="316.4" cy="1453.4" r="4.0"/><circle cx="319.2" cy="1450.6" r="4.0"/><circle cx="322.0" cy="1457.3" r="4.0"/><circle cx="324.8" cy="1454.9" r="4.0"/><circle cx="327.5" cy="1455.3" r="4.0"/><circle cx="330.3" cy="1455.5" r="4.0"/><circle cx="333.1" cy="1456.8" r="4.0"/><circle cx="335.9" cy="1457.1" r="4.0"/><circle cx="338.7" cy="1453.8" r="4.0"/><circle cx="341.5" cy="1459.2" r="4.0"/><circle cx="344.2" cy="1456.8" r="4.0"/><circle cx="347.0" cy="1457.4" r="4.0"/><circle cx="349.8" cy="1461.8" r="4.0"/><circle cx="352.6" cy="1460.5" r="4.0"/><circle cx="355.4" cy="1458.3" r="4.0"/><circle cx="358.1" cy="1455.6" r="4.0"/><circle cx="360.9" cy="1459.2" r="4.0"/><circle cx="363.7" cy="1459.9" r="4.0"/><circle cx="366.5" cy="1458.8" r="4.0"/><circle cx="369.3" cy="1456.7" r="4.0"/><circle cx="372.0" cy="1457.5" r="4.0"/><circle cx="374.8" cy="1456.6" r="4.0"/><circle cx="377.6" cy="1459.3" r="4.0"/><circle cx="380.4" cy="1460.4" r="4.0"/><circle cx="383.2" cy="1460.7" r="4.0"/><circle cx="386.0" cy="1457.6" r="4.0"/><circle cx="388.7" cy="1459.3" r="4.0"/><circle cx="391.5" cy="1459.9" r="4.0"/><circle cx="394.3" cy="1458.0" r="4.0"/><circle cx="397.1" cy="1458.6" r="4.0"/><circle cx="399.9" cy="1462.5" r="4.0"/><circle cx="402.6" cy="1458.4" r="4.0"/><circle cx="405.4" cy="1458.7" r="4.0"/><circle cx="408.2" cy="1455.2" r="4.0"/><circle cx="411.0" cy="1455.0" r="4.0"/><circle cx="413.8" cy="1453.5" r="4.0"/><circle cx="416.6" cy="1453.2" r="4.0"/><circle cx="419.3" cy="1452.4" r="4.0"/><circle cx="422.1" cy="1450.6" r="4.0"/><circle cx="424.9" cy="1446.2" r="4.0"/><circle cx="427.7" cy="1441.6" r="4.0"/><circle cx="430.5" cy="1434.7" r="4.0"/><circle cx="433.2" cy="1426.4" r="4.0"/><circle cx="436.0" cy="1416.3" r="4.0"/><circle cx="438.8" cy="1399.0" r="4.0"/><circle cx="441.6" cy="1381.1" r="4.0"/><circle cx="444.4" cy="1361.9" r="4.0"/><circle cx="447.1" cy="1342.3" r="4.0"/><circle cx="449.9" cy="1321.8" r="4.0"/><circle cx="452.7" cy="1309.4" r="4.0"/><circle cx="455.5" cy="1298.0" r="4.0"/><circle cx="458.3" cy="1288.2" r="4.0"/><circle cx="461.1" cy="1280.4" r="4.0"/><circle cx="463.8" cy="1270.5" r="4.0"/><circle cx="466.6" cy="1263.8" r="4.0"/><circle cx="469.4" cy="1257.2" r="4.0"/><circle cx="472.2" cy="1249.6" r="4.0"/><circle cx="475.0" cy="1239.7" r="4.0"/><circle cx="477.7" cy="1232.0" r="4.0"/><circle cx="480.5" cy="1224.3" r="4.0"/><circle cx="483.3" cy="1217.6" r="4.0"/><circle cx="486.1" cy="1212.6" r="4.0"/><circle cx="488.9" cy="1207.8" r="4.0"/><circle cx="491.6" cy="1204.3" r="4.0"/><circle cx="494.4" cy="1201.2" r="4.0"/><circle cx="497.2" cy="1198.6" r="4.0"/><circle cx="500.0" cy="1195.5" r="4.0"/><circle cx="502.8" cy="1193.2" r="4.0"/><circle cx="505.6" cy="1192.0" r="4.0"/><circle cx="508.3" cy="1190.8" r="4.0"/><circle cx="511.1" cy="1189.6" r="4.0"/><circle cx="513.9" cy="1189.0" r="4.0"/><circle cx="516.7" cy="1188.0" r="4.0"/><circle cx="519.5" cy="1187.7" r="4.0"/><circle cx="522.2" cy="1187.6" r="4.0"/><circle cx="525.0" cy="1187.5" r="4.0"/><circle cx="527.8" cy="1188.1" r="4.0"/><circle cx="530.6" cy="1189.5" r="4.0"/><circle cx="533.4" cy="1189.8" r="4.0"/><circle cx="536.1" cy="1190.6" r="4.0"/><circle cx="538.9" cy="1192.2" r="4.0"/><circle cx="541.7" cy="1193.9" r="4.0"/><circle cx="544.5" cy="1194.7" r="4.0"/><circle cx="547.3" cy="1196.7" r="4.0"/><circle cx="550.1" cy="1197.9" r="4.0"/><circle cx="552.8" cy="1199.9" r="4.0"/><circle cx="555.6" cy="1202.1" r="4.0"/><circle cx="558.4" cy="1204.7" r="4.0"/><circle cx="561.2" cy="1208.0" r="4.0"/><circle cx="564.0" cy="1209.9" r="4.0"/><circle cx="566.7" cy="1213.7" r="4.0"/><circle cx="569.5" cy="1215.9" r="4.0"/><circle cx="572.3" cy="1219.4" r="4.0"/><circle cx="575.1" cy="1223.0" r="4.0"/><circle cx="577.9" cy="1226.7" r="4.0"/><circle cx="580.7" cy="1230.4" r="4.0"/><circle cx="583.4" cy="1233.4" r="4.0"/><circle cx="586.2" cy="1237.3" r="4.0"/><circle cx="589.0" cy="1240.1" r="4.0"/><circle cx="591.8" cy="1244.1" r="4.0"/><circle cx="594.6" cy="1245.5" r="4.0"/><circle cx="597.3" cy="1247.3" r="4.0"/><circle cx="600.1" cy="1248.5" r="4.0"/><circle cx="602.9" cy="1250.0" r="4.0"/><circle cx="605.7" cy="1250.7" r="4.0"/><circle cx="608.5" cy="1251.6" r="4.0"/><circle cx="611.2" cy="1250.6" r="4.0"/><circle cx="614.0" cy="1249.7" r="4.0"/><circle cx="616.8" cy="1247.8" r="4.0"/><circle cx="619.6" cy="1245.4" r="4.0"/><circle cx="622.4" cy="1242.4" r="4.0"/><circle cx="625.2" cy="1237.7" r="4.0"/><circle cx="627.9" cy="1233.0" r="4.0"/><circle cx="630.7" cy="1228.7" r="4.0"/><circle cx="633.5" cy="1224.1" r="4.0"/><circle cx="636.3" cy="1220.5" r="4.0"/><circle cx="639.1" cy="1219.2" r="4.0"/><circle cx="641.8" cy="1218.0" r="4.0"/><circle cx="644.6" cy="1218.3" r="4.0"/><circle cx="647.4" cy="1218.3" r="4.0"/><circle cx="650.2" cy="1220.1" r="4.0"/><circle cx="653.0" cy="1221.6" r="4.0"/><circle cx="655.7" cy="1223.5" r="4.0"/><circle cx="658.5" cy="1226.3" r="4.0"/><circle cx="661.3" cy="1229.3" r="4.0"/><circle cx="664.1" cy="1233.2" r="4.0"/><circle cx="666.9" cy="1237.3" r="4.0"/><circle cx="669.7" cy="1240.7" r="4.0"/><circle cx="672.4" cy="1246.2" r="4.0"/><circle cx="675.2" cy="1251.0" r="4.0"/><circle cx="678.0" cy="1256.2" r="4.0"/><circle cx="680.8" cy="1260.4" r="4.0"/><circle cx="683.6" cy="1266.3" r="4.0"/><circle cx="686.3" cy="1271.2" r="4.0"/><circle cx="689.1" cy="1277.0" r="4.0"/><circle cx="691.9" cy="1282.3" r="4.0"/><circle cx="694.7" cy="1288.4" r="4.0"/><circle cx="697.5" cy="1293.1" r="4.0"/><circle cx="700.2" cy="1299.3" r="4.0"/><circle cx="703.0" cy="1305.5" r="4.0"/><circle cx="705.8" cy="1309.9" r="4.0"/><circle cx="708.6" cy="1315.3" r="4.0"/><circle cx="711.4" cy="1320.9" r="4.0"/><circle cx="714.2" cy="1326.1" r="4.0"/><circle cx="716.9" cy="1331.8" r="4.0"/><circle cx="719.7" cy="1336.6" r="4.0"/><circle cx="722.5" cy="1343.7" r="4.0"/><circle cx="725.3" cy="1364.3" r="4.0"/><circle cx="728.1" cy="1369.2" r="4.0"/><circle cx="730.8" cy="1373.2" r="4.0"/><circle cx="733.6" cy="1383.9" r="4.0"/><circle cx="736.4" cy="1392.5" r="4.0"/><circle cx="739.2" cy="1400.4" r="4.0"/><circle cx="742.0" cy="1406.7" r="4.0"/><circle cx="744.7" cy="1411.2" r="4.0"/><circle cx="747.5" cy="1416.6" r="4.0"/><circle cx="750.3" cy="1420.4" r="4.0"/><circle cx="753.1" cy="1422.8" r="4.0"/><circle cx="755.9" cy="1424.9" r="4.0"/><circle cx="758.7" cy="1427.1" r="4.0"/><circle cx="761.4" cy="1429.4" r="4.0"/><circle cx="764.2" cy="1430.2" r="4.0"/><circle cx="767.0" cy="1431.7" r="4.0"/><circle cx="769.8" cy="1433.3" r="4.0"/><circle cx="772.6" cy="1435.4" r="4.0"/><circle cx="775.3" cy="1436.8" r="4.0"/><circle cx="778.1" cy="1438.3" r="4.0"/><circle cx="780.9" cy="1439.0" r="4.0"/><circle cx="783.7" cy="1444.3" r="4.0"/><circle cx="786.5" cy="1444.6" r="4.0"/><circle cx="789.3" cy="1443.7" r="4.0"/><circle cx="792.0" cy="1442.6" r="4.0"/><circle cx="794.8" cy="1445.0" r="4.0"/><circle cx="797.6" cy="1448.5" r="4.0"/><circle cx="800.4" cy="1446.9" r="4.0"/><circle cx="803.2" cy="1450.4" r="4.0"/><circle cx="805.9" cy="1449.8" r="4.0"/><circle cx="808.7" cy="1450.1" r="4.0"/><circle cx="811.5" cy="1451.2" r="4.0"/><circle cx="814.3" cy="1451.6" r="4.0"/><circle cx="817.1" cy="1449.9" r="4.0"/><circle cx="819.8" cy="1451.4" r="4.0"/><circle cx="822.6" cy="1456.6" r="4.0"/><circle cx="825.4" cy="1450.6" r="4.0"/><circle cx="828.2" cy="1452.2" r="4.0"/><circle cx="831.0" cy="1455.2" r="4.0"/><circle cx="833.8" cy="1453.2" r="4.0"/><circle cx="836.5" cy="1452.3" r="4.0"/><circle cx="839.3" cy="1451.6" r="4.0"/><circle cx="842.1" cy="1455.3" r="4.0"/><circle cx="844.9" cy="1456.5" r="4.0"/><circle cx="847.7" cy="1457.5" r="4.0"/><circle cx="850.4" cy="1455.5" r="4.0"/><circle cx="853.2" cy="1457.7" r="4.0"/><circle cx="856.0" cy="1454.4" r="4.0"/><circle cx="858.8" cy="1457.0" r="4.0"/><circle cx="861.6" cy="1455.9" r="4.0"/><circle cx="864.3" cy="1457.9" r="4.0"/><circle cx="867.1" cy="1459.3" r="4.0"/><circle cx="869.9" cy="1460.2" r="4.0"/><circle cx="872.7" cy="1456.8" r="4.0"/><circle cx="875.5" cy="1461.1" r="4.0"/><circle cx="878.3" cy="1458.2" r="4.0"/><circle cx="881.0" cy="1457.4" r="4.0"/><circle cx="883.8" cy="1459.1" r="4.0"/><circle cx="886.6" cy="1457.0" r="4.0"/><circle cx="889.4" cy="1459.7" r="4.0"/><circle cx="892.2" cy="1460.4" r="4.0"/><circle cx="894.9" cy="1459.7" r="4.0"/><circle cx="897.7" cy="1461.1" r="4.0"/><circle cx="900.5" cy="1459.7" r="4.0"/><circle cx="903.3" cy="1460.4" r="4.0"/><circle cx="906.1" cy="1457.9" r="4.0"/><circle cx="908.8" cy="1460.7" r="4.0"/><circle cx="911.6" cy="1459.2" r="4.0"/><circle cx="914.4" cy="1460.0" r="4.0"/><circle cx="917.2" cy="1460.8" r="4.0"/><circle cx="920.0" cy="1461.4" r="4.0"/><circle cx="922.8" cy="1458.2" r="4.0"/><circle cx="925.5" cy="1458.4" r="4.0"/><circle cx="928.3" cy="1460.8" r="4.0"/><circle cx="931.1" cy="1462.3" r="4.0"/><circle cx="933.9" cy="1462.2" r="4.0"/><circle cx="936.7" cy="1463.3" r="4.0"/><circle cx="939.4" cy="1464.1" r="4.0"/><circle cx="942.2" cy="1462.8" r="4.0"/><circle cx="945.0" cy="1462.0" r="4.0"/><circle cx="947.8" cy="1460.2" r="4.0"/><circle cx="950.6" cy="1460.5" r="4.0"/><circle cx="953.4" cy="1461.4" r="4.0"/><circle cx="956.1" cy="1462.9" r="4.0"/><circle cx="958.9" cy="1462.9" r="4.0"/><circle cx="961.7" cy="1462.6" r="4.0"/><circle cx="964.5" cy="1462.4" r="4.0"/><circle cx="967.3" cy="1463.9" r="4.0"/><circle cx="970.0" cy="1463.2" r="4.0"/><circle cx="972.8" cy="1463.4" r="4.0"/><circle cx="975.6" cy="1463.5" r="4.0"/><circle cx="978.4" cy="1462.1" r="4.0"/><circle cx="981.2" cy="1461.3" r="4.0"/><circle cx="983.9" cy="1464.1" r="4.0"/><circle cx="986.7" cy="1464.0" r="4.0"/><circle cx="989.5" cy="1463.0" r="4.0"/><circle cx="992.3" cy="1462.7" r="4.0"/><circle cx="995.1" cy="1467.6" r="4.0"/><circle cx="997.9" cy="1462.2" r="4.0"/><circle cx="1000.6" cy="1463.3" r="4.0"/><circle cx="1003.4" cy="1464.2" r="4.0"/><circle cx="1006.2" cy="1461.8" r="4.0"/><circle cx="1009.0" cy="1464.1" r="4.0"/><circle cx="1011.8" cy="1467.2" r="4.0"/><circle cx="1014.5" cy="1465.7" r="4.0"/><circle cx="1017.3" cy="1465.2" r="4.0"/><circle cx="1020.1" cy="1465.2" r="4.0"/><circle cx="1022.9" cy="1464.4" r="4.0"/><circle cx="1025.7" cy="1465.9" r="4.0"/><circle cx="1028.4" cy="1463.9" r="4.0"/><circle cx="1031.2" cy="1463.5" r="4.0"/><circle cx="1034.0" cy="1464.4" r="4.0"/><circle cx="1036.8" cy="1465.9" r="4.0"/><circle cx="1039.6" cy="1464.9" r="4.0"/><circle cx="1042.4" cy="1465.5" r="4.0"/><circle cx="1045.1" cy="1460.7" r="4.0"/><circle cx="1047.9" cy="1466.5" r="4.0"/><circle cx="1050.7" cy="1468.6" r="4.0"/><circle cx="1053.5" cy="1466.8" r="4.0"/><circle cx="1056.3" cy="1463.8" r="4.0"/><circle cx="1059.0" cy="1462.9" r="4.0"/><circle cx="1061.8" cy="1464.9" r="4.0"/><circle cx="1064.6" cy="1462.7" r="4.0"/><circle cx="1067.4" cy="1465.8" r="4.0"/><circle cx="1070.2" cy="1463.5" r="4.0"/><circle cx="1072.9" cy="1466.2" r="4.0"/><circle cx="1075.7" cy="1466.9" r="4.0"/><circle cx="1078.5" cy="1460.8" r="4.0"/><circle cx="1081.3" cy="1465.0" r="4.0"/><circle cx="1084.1" cy="1463.2" r="4.0"/></g>
<g fill="#ffa500"><circle cx="230.2" cy="1437.6" r="4.0"/><circle cx="233.0" cy="1328.8" r="4.0"/><circle cx="235.8" cy="1300.3" r="4.0"/><circle cx="238.5" cy="1286.9" r="4.0"/><circle cx="241.3" cy="1278.6" r="4.0"/><circle cx="244.1" cy="1273.9" r="4.0"/><circle cx="246.9" cy="1269.6" r="4.0"/><circle cx="249.7" cy="1264.3" r="4.0"/><circle cx="252.5" cy="1261.0" r="4.0"/><circle cx="255.2" cy="1257.5" r="4.0"/><circle cx="258.0" cy="1253.8" r="4.0"/><circle cx="260.8" cy="1253.3" r="4.0"/><circle cx="263.6" cy="1251.6" r="4.0"/><circle cx="266.4" cy="1250.7" r="4.0"/><circle cx="269.1" cy="1251.4" r="4.0"/><circle cx="271.9" cy="1248.8" r="4.0"/><circle cx="274.7" cy="1247.7" r="4.0"/><circle cx="277.5" cy="1248.0" r="4.0"/><circle cx="280.3" cy="1244.6" r="4.0"/><circle cx="283.0" cy="1244.1" r="4.0"/><circle cx="285.8" cy="1244.2" r="4.0"/><circle cx="288.6" cy="1243.4" r="4.0"/><circle cx="291.4" cy="1244.1" r="4.0"/><circle cx="294.2" cy="1242.7" r="4.0"/><circle cx="297.0" cy="1244.1" r="4.0"/><circle cx="299.7" cy="1243.4" r="4.0"/><circle cx="302.5" cy="1242.3" r="4.0"/><circle cx="305.3" cy="1240.9" r="4.0"/><circle cx="308.1" cy="1241.5" r="4.0"/><circle cx="310.9" cy="1241.4" r="4.0"/><circle cx="313.6" cy="1239.4" r="4.0"/><circle cx="316.4" cy="1240.4" r="4.0"/><circle cx="319.2" cy="1240.5" r="4.0"/><circle cx="322.0" cy="1239.8" r="4.0"/><circle cx="324.8" cy="1240.8" r="4.0"/><circle cx="327.5" cy="1240.3" r="4.0"/><circle cx="330.3" cy="1238.4" r="4.0"/><circle cx="333.1" cy="1239.2" r="4.0"/><circle cx="335.9" cy="1238.4" r="4.0"/><circle cx="338.7" cy="1239.7" r="4.0"/><circle cx="341.5" cy="1238.4" r="4.0"/><circle cx="344.2" cy="1240.1" r="4.0"/><circle cx="347.0" cy="1239.7" r="4.0"/><circle cx="349.8" cy="1240.3" r="4.0"/><circle cx="352.6" cy="1239.3" r="4.0"/><circle cx="355.4" cy="1238.2" r="4.0"/><circle cx="358.1" cy="1241.2" r="4.0"/><circle cx="360.9" cy="1239.5" r="4.0"/><circle cx="363.7" cy="1240.9" r="4.0"/><circle cx="366.5" cy="1240.1" r="4.0"/><circle cx="369.3" cy="1240.4" r="4.0"/><circle cx="372.0" cy="1241.5" r="4.0"/><circle cx="374.8" cy="1240.3" r="4.0"/><circle cx="377.6" cy="1241.4" r="4.0"/><circle cx="380.4" cy="1239.0" r="4.0"/><circle cx="383.2" cy="1241.4" r="4.0"/><circle cx="386.0" cy="1240.8" r="4.0"/><circle cx="388.7" cy="1241.3" r="4.0"/><circle cx="391.5" cy="1241.9" r="4.0"/><circle cx="394.3" cy="1242.6" r="4.0"/><circle cx="397.1" cy="1244.2" r="4.0"/><circle cx="399.9" cy="1241.4" r="4.0"/><circle cx="402.6" cy="1243.5" r="4.0"/><circle cx="405.4" cy="1243.2" r="4.0"/><circle cx="408.2" cy="1245.3" r="4.0"/><circle cx="411.0" cy="1244.3" r="4.0"/><circle cx="413.8" cy="1245.6" r="4.0"/><circle cx="416.6" cy="1245.3" r="4.0"/><circle cx="419.3" cy="1246.8" r="4.0"/><circle cx="422.1" cy="1247.7" r="4.0"/><circle cx="424.9" cy="1247.0" r="4.0"/><circle cx="427.7" cy="1248.1" r="4.0"/><circle cx="430.5" cy="1247.5" r="4.0"/><circle cx="433.2" cy="1249.8" r="4.0"/><circle cx="436.0" cy="1251.0" r="4.0"/><circle cx="438.8" cy="1250.5" r="4.0"/><circle cx="441.6" cy="1252.8" r="4.0"/><circle cx="444.4" cy="1250.7" r="4.0"/><circle cx="447.1" cy="1251.8" r="4.0"/><circle cx="449.9" cy="1253.0" r="4.0"/><circle cx="452.7" cy="1254.7" r="4.0"/><circle cx="455.5" cy="1256.0" r="4.0"/><circle cx="458.3" cy="1256.8" r="4.0"/><circle cx="461.1" cy="1257.6" r="4.0"/><circle cx="463.8" cy="1259.0" r="4.0"/><circle cx="466.6" cy="1258.6" r="4.0"/><circle cx="469.4" cy="1258.6" r="4.0"/><circle cx="472.2" cy="1259.2" r="4.0"/><circle cx="475.0" cy="1262.9" r="4.0"/><circle cx="477.7" cy="1259.6" r="4.0"/><circle cx="480.5" cy="1262.3" r="4.0"/><circle cx="483.3" cy="1264.6" r="4.0"/><circle cx="486.1" cy="1264.6" r="4.0"/><circle cx="488.9" cy="1264.4" r="4.0"/><circle cx="491.6" cy="1266.1" r="4.0"/><circle cx="494.4" cy="1268.0" r="4.0"/><circle cx="497.2" cy="1269.4" r="4.0"/><circle cx="500.0" cy="1268.8" r="4.0"/><circle cx="502.8" cy="1271.6" r="4.0"/><circle cx="505.6" cy="1272.6" r="4.0"/><circle cx="508.3" cy="1274.9" r="4.0"/><circle cx="511.1" cy="1276.9" r="4.0"/><circle cx="513.9" cy="1277.5" r="4.0"/><circle cx="516.7" cy="1279.3" r="4.0"/><circle cx="519.5" cy="1282.2" r="4.0"/><circle cx="522.2" cy="1285.4" r="4.0"/><circle cx="525.0" cy="1288.4" r="4.0"/><circle cx="527.8" cy="1291.8" r="4.0"/><circle cx="530.6" cy="1296.1" r="4.0"/><circle cx="533.4" cy="1298.7" r="4.0"/><circle cx="536.1" cy="1303.1" r="4.0"/><circle cx="538.9" cy="1306.5" r="4.0"/><circle cx="541.7" cy="1310.5" r="4.0"/><circle cx="544.5" cy="1314.3" r="4.0"/><circle cx="547.3" cy="1318.5" r="4.0"/><circle cx="550.1" cy="1321.7" r="4.0"/><circle cx="552.8" cy="1326.0" r="4.0"/><circle cx="555.6" cy="1330.1" r="4.0"/><circle cx="558.4" cy="1335.5" r="4.0"/><circle cx="561.2" cy="1341.0" r="4.0"/><circle cx="564.0" cy="1349.3" r="4.0"/><circle cx="566.7" cy="1362.1" r="4.0"/><circle cx="569.5" cy="1371.7" r="4.0"/><circle cx="572.3" cy="1384.8" r="4.0"/><circle cx="575.1" cy="1391.0" r="4.0"/><circle cx="577.9" cy="1398.5" r="4.0"/><circle cx="580.7" cy="1409.7" r="4.0"/><circle cx="583.4" cy="1416.2" r="4.0"/><circle cx="586.2" cy="1424.0" r="4.0"/><circle cx="589.0" cy="1430.2" r="4.0"/><circle cx="591.8" cy="1434.6" r="4.0"/><circle cx="594.6" cy="1439.7" r="4.0"/><circle cx="597.3" cy="1440.9" r="4.0"/><circle cx="600.1" cy="1442.2" r="4.0"/><circle cx="602.9" cy="1441.0" r="4.0"/><circle cx="605.7" cy="1438.4" r="4.0"/><circle cx="608.5" cy="1435.8" r="4.0"/><circle cx="611.2" cy="1430.7" r="4.0"/><circle cx="614.0" cy="1416.9" r="4.0"/><circle cx="616.8" cy="1407.7" r="4.0"/><circle cx="619.6" cy="1395.8" r="4.0"/><circle cx="622.4" cy="1378.0" r="4.0"/><circle cx="625.2" cy="1349.0" r="4.0"/><circle cx="627.9" cy="1332.2" r="4.0"/><circle cx="630.7" cy="1323.7" r="4.0"/><circle cx="633.5" cy="1315.9" r="4.0"/><circle cx="636.3" cy="1306.6" r="4.0"/><circle cx="639.1" cy="1298.1" r="4.0"/><circle cx="641.8" cy="1292.6" r="4.0"/><circle cx="644.6" cy="1287.5" r="4.0"/><circle cx="647.4" cy="1282.8" r="4.0"/><circle cx="650.2" cy="1279.2" r="4.0"/><circle cx="653.0" cy="1274.9" r="4.0"/><circle cx="655.7" cy="1271.3" r="4.0"/><circle cx="658.5" cy="1266.0" r="4.0"/><circle cx="661.3" cy="1266.1" r="4.0"/><circle cx="664.1" cy="1262.9" r="4.0"/><circle cx="666.9" cy="1261.1" r="4.0"/><circle cx="669.7" cy="1261.7" r="4.0"/><circle cx="672.4" cy="1259.9" r="4.0"/><circle cx="675.2" cy="1255.9" r="4.0"/><circle cx="678.0" cy="1256.9" r="4.0"/><circle cx="680.8" cy="1255.0" r="4.0"/><circle cx="683.6" cy="1252.3" r="4.0"/><circle cx="686.3" cy="1252.2" r="4.0"/><circle cx="689.1" cy="1248.8" r="4.0"/><circle cx="691.9" cy="1248.1" r="4.0"/><circle cx="694.7" cy="1247.0" r="4.0"/><circle cx="697.5" cy="1246.4" r="4.0"/><circle cx="700.2" cy="1247.4" r="4.0"/><circle cx="703.0" cy="1244.6" r="4.0"/><circle cx="705.8" cy="1244.1" r="4.0"/><circle cx="708.6" cy="1243.7" r="4.0"/><circle cx="711.4" cy="1244.3" r="4.0"/><circle cx="714.2" cy="1243.4" r="4.0"/><circle cx="716.9" cy="1244.1" r="4.0"/><circle cx="719.7" cy="1242.3" r="4.0"/><circle cx="722.5" cy="1241.4" r="4.0"/><circle cx="725.3" cy="1241.8" r="4.0"/><circle cx="728.1" cy="1242.0" r="4.0"/><circle cx="730.8" cy="1241.0" r="4.0"/><circle cx="733.6" cy="1242.0" r="4.0"/><circle cx="736.4" cy="1243.3" r="4.0"/><circle cx="739.2" cy="1241.2" r="4.0"/><circle cx="742.0" cy="1241.7" r="4.0"/><circle cx="744.7" cy="1242.9" r="4.0"/><circle cx="747.5" cy="1241.1" r="4.0"/><circle cx="750.3" cy="1240.9" r="4.0"/><circle cx="753.1" cy="1240.7" r="4.0"/><circle cx="755.9" cy="1242.0" r="4.0"/><circle cx="758.7" cy="1242.2" r="4.0"/><circle cx="761.4" cy="1241.6" r="4.0"/><circle cx="764.2" cy="1241.7" r="4.0"/><circle cx="767.0" cy="1242.8" r="4.0"/><circle cx="769.8" cy="1242.4" r="4.0"/><circle cx="772.6" cy="1240.2" r="4.0"/><circle cx="775.3" cy="1241.4" r="4.0"/><circle cx="778.1" cy="1241.3" r="4.0"/><circle cx="780.9" cy="1241.7" r="4.0"/><circle cx="783.7" cy="1240.7" r="4.0"/><circle cx="786.5" cy="1240.1" r="4.0"/><circle cx="789.3" cy="1240.2" r="4.0"/><circle cx="792.0" cy="1238.8" r="4.0"/><circle cx="794.8" cy="1240.3" r="4.0"/><circle cx="797.6" cy="1239.7" r="4.0"/><circle cx="800.4" cy="1240.5" r="4.0"/><circle cx="803.2" cy="1239.0" r="4.0"/><circle cx="805.9" cy="1239.4" r="4.0"/><circle cx="808.7" cy="1238.8" r="4.0"/><circle cx="811.5" cy="1238.5" r="4.0"/><circle cx="814.3" cy="1239.8" r="4.0"/><circle cx="817.1" cy="1238.5" r="4.0"/><circle cx="819.8" cy="1238.9" r="4.0"/><circle cx="822.6" cy="1237.2" r="4.0"/><circle cx="825.4" cy="1237.9" r="4.0"/><circle cx="828.2" cy="1236.1" r="4.0"/><circle cx="831.0" cy="1237.0" r="4.0"/><circle cx="833.8" cy="1236.9" r="4.0"/><circle cx="836.5" cy="1237.9" r="4.0"/><circle cx="839.3" cy="1237.5" r="4.0"/><circle cx="842.1" cy="1237.2" r="4.0"/><circle cx="844.9" cy="1238.1" r="4.0"/><circle cx="847.7" cy="1237.5" r="4.0"/><circle cx="850.4" cy="1238.0" r="4.0"/><circle cx="853.2" cy="1238.8" r="4.0"/><circle cx="856.0" cy="1238.9" r="4.0"/><circle cx="858.8" cy="1239.6" r="4.0"/><circle cx="861.6" cy="1241.1" r="4.0"/><circle cx="864.3" cy="1241.3" r="4.0"/><circle cx="867.1" cy="1243.1" r="4.0"/><circle cx="869.9" cy="1245.0" r="4.0"/><circle cx="872.7" cy="1245.8" r="4.0"/><circle cx="875.5" cy="1247.3" r="4.0"/><circle cx="878.3" cy="1249.3" r="4.0"/><circle cx="881.0" cy="1252.0" r="4.0"/><circle cx="883.8" cy="1254.4" r="4.0"/><circle cx="886.6" cy="1257.2" r="4.0"/><circle cx="889.4" cy="1259.4" r="4.0"/><circle cx="892.2" cy="1261.9" r="4.0"/><circle cx="894.9" cy="1264.7" r="4.0"/><circle cx="897.7" cy="1267.3" r="4.0"/><circle cx="900.5" cy="1271.1" r="4.0"/><circle cx="903.3" cy="1276.0" r="4.0"/><circle cx="906.1" cy="1280.5" r="4.0"/><circle cx="908.8" cy="1285.0" r="4.0"/><circle cx="911.6" cy="1289.9" r="4.0"/><circle cx="914.4" cy="1294.4" r="4.0"/><circle cx="917.2" cy="1299.2" r="4.0"/><circle cx="920.0" cy="1303.1" r="4.0"/><circle cx="922.8" cy="1307.3" r="4.0"/><circle cx="925.5" cy="1311.8" r="4.0"/><circle cx="928.3" cy="1317.0" r="4.0"/><circle cx="931.1" cy="1321.9" r="4.0"/><circle cx="933.9" cy="1326.5" r="4.0"/><circle cx="936.7" cy="1331.0" r="4.0"/><circle cx="939.4" cy="1334.8" r="4.0"/><circle cx="942.2" cy="1338.0" r="4.0"/><circle cx="945.0" cy="1343.0" r="4.0"/><circle cx="947.8" cy="1357.5" r="4.0"/><circle cx="950.6" cy="1367.4" r="4.0"/><circle cx="953.4" cy="1377.2" r="4.0"/><circle cx="956.1" cy="1387.3" r="4.0"/><circle cx="958.9" cy="1395.8" r="4.0"/><circle cx="961.7" cy="1404.5" r="4.0"/><circle cx="964.5" cy="1410.2" r="4.0"/><circle cx="967.3" cy="1416.2" r="4.0"/><circle cx="970.0" cy="1423.2" r="4.0"/><circle cx="972.8" cy="1428.7" r="4.0"/><circle cx="975.6" cy="1433.8" r="4.0"/><circle cx="978.4" cy="1436.7" r="4.0"/><circle cx="981.2" cy="1440.9" r="4.0"/><circle cx="983.9" cy="1443.7" r="4.0"/><circle cx="986.7" cy="1445.4" r="4.0"/><circle cx="989.5" cy="1447.1" r="4.0"/><circle cx="992.3" cy="1448.3" r="4.0"/><circle cx="995.1" cy="1449.7" r="4.0"/><circle cx="997.9" cy="1451.0" r="4.0"/><circle cx="1000.6" cy="1451.8" r="4.0"/><circle cx="1003.4" cy="1453.0" r="4.0"/><circle cx="1006.2" cy="1453.9" r="4.0"/><circle cx="1009.0" cy="1454.6" r="4.0"/><circle cx="1011.8" cy="1455.5" r="4.0"/><circle cx="1014.5" cy="1456.3" r="4.0"/><circle cx="1017.3" cy="1457.4" r="4.0"/><circle cx="1020.1" cy="1457.7" r="4.0"/><circle cx="1022.9" cy="1458.7" r="4.0"/><circle cx="1025.7" cy="1459.1" r="4.0"/><circle cx="1028.4" cy="1459.1" r="4.0"/><circle cx="1031.2" cy="1460.3" r="4.0"/><circle cx="1034.0" cy="1459.7" r="4.0"/><circle cx="1036.8" cy="1460.0" r="4.0"/><circle cx="1039.6" cy="1460.6" r="4.0"/><circle cx="1042.4" cy="1460.1" r="4.0"/><circle cx="1045.1" cy="1460.6" r="4.0"/><circle cx="1047.9" cy="1460.5" r="4.0"/><circle cx="1050.7" cy="1460.8" r="4.0"/><circle cx="1053.5" cy="1461.2" r="4.0"/><circle cx="1056.3" cy="1461.5" r="4.0"/><circle cx="1059.0" cy="1461.8" r="4.0"/><circle cx="1061.8" cy="1461.8" r="4.0"/><circle cx="1064.6" cy="1462.0" r="4.0"/><circle cx="1067.4" cy="1461.9" r="4.0"/><circle cx="1070.2" cy="1461.7" r="4.0"/><circle cx="1072.9" cy="1462.3" r="4.0"/><circle cx="1075.7" cy="1461.8" r="4.0"/><circle cx="1078.5" cy="1461.8" r="4.0"/><circle cx="1081.3" cy="1462.5" r="4.0"/><circle cx="1084.1" cy="1462.3" r="4.0"/><circle cx="233.2" cy="1438.0" r="4.0"/></g>
<g fill="#008000"><circle cx="230.2" cy="1458.0" r="4.0"/><circle cx="233.0" cy="1460.2" r="4.0"/><circle cx="235.8" cy="1461.9" r="4.0"/><circle cx="238.5" cy="1462.8" r="4.0"/><circle cx="241.3" cy="1464.1" r="4.0"/><circle cx="244.1" cy="1464.4" r="4.0"/><circle cx="246.9" cy="1464.9" r="4.0"/><circle cx="249.7" cy="1465.0" r="4.0"/><circle cx="252.5" cy="1465.7" r="4.0"/><circle cx="255.2" cy="1465.7" r="4.0"/><circle cx="258.0" cy="1465.6" r="4.0"/><circle cx="260.8" cy="1465.9" r="4.0"/><circle cx="263.6" cy="1465.8" r="4.0"/><circle cx="266.4" cy="1466.1" r="4.0"/><circle cx="269.1" cy="1466.3" r="4.0"/><circle cx="271.9" cy="1466.2" r="4.0"/><circle cx="274.7" cy="1465.8" r="4.0"/><circle cx="277.5" cy="1466.1" r="4.0"/><circle cx="280.3" cy="1466.3" r="4.0"/><circle cx="283.0" cy="1466.2" r="4.0"/><circle cx="285.8" cy="1466.4" r="4.0"/><circle cx="288.6" cy="1465.9" r="4.0"/><circle cx="291.4" cy="1466.3" r="4.0"/><circle cx="294.2" cy="1466.1" r="4.0"/><circle cx="297.0" cy="1466.2" r="4.0"/><circle cx="299.7" cy="1466.3" r="4.0"/><circle cx="302.5" cy="1466.3" r="4.0"/><circle cx="305.3" cy="1466.1" r="4.0"/><circle cx="308.1" cy="1466.2" r="4.0"/><circle cx="310.9" cy="1466.0" r="4.0"/><circle cx="313.6" cy="1465.9" r="4.0"/><circle cx="316.4" cy="1466.3" r="4.0"/><circle cx="319.2" cy="1466.2" r="4.0"/><circle cx="322.0" cy="1465.9" r="4.0"/><circle cx="324.8" cy="1466.0" r="4.0"/><circle cx="327.5" cy="1466.2" r="4.0"/><circle cx="330.3" cy="1466.5" r="4.0"/><circle cx="333.1" cy="1466.4" r="4.0"/><circle cx="335.9" cy="1466.3" r="4.0"/><circle cx="338.7" cy="1465.8" r="4.0"/><circle cx="341.5" cy="1466.2" r="4.0"/><circle cx="344.2" cy="1466.3" r="4.0"/><circle cx="347.0" cy="1466.3" r="4.0"/><circle cx="349.8" cy="1466.3" r="4.0"/><circle cx="352.6" cy="1466.1" r="4.0"/><circle cx="355.4" cy="1466.5" r="4.0"/><circle cx="358.1" cy="1466.5" r="4.0"/><circle cx="360.9" cy="1466.2" r="4.0"/><circle cx="363.7" cy="1466.0" r="4.0"/><circle cx="366.5" cy="1466.6" r="4.0"/><circle cx="369.3" cy="1466.1" r="4.0"/><circle cx="372.0" cy="1466.4" r="4.0"/><circle cx="374.8" cy="1466.6" r="4.0"/><circle cx="377.6" cy="1466.0" r="4.0"/><circle cx="380.4" cy="1466.2" r="4.0"/><circle cx="383.2" cy="1466.1" r="4.0"/><circle cx="386.0" cy="1466.3" r="4.0"/><circle cx="388.7" cy="1466.3" r="4.0"/><circle cx="391.5" cy="1466.6" r="4.0"/><circle cx="394.3" cy="1466.3" r="4.0"/><circle cx="397.1" cy="1466.2" r="4.0"/><circle cx="399.9" cy="1466.4" r="4.0"/><circle cx="402.6" cy="1466.1" r="4.0"/><circle cx="405.4" cy="1466.1" r="4.0"/><circle cx="408.2" cy="1466.6" r="4.0"/><circle cx="411.0" cy="1466.0" r="4.0"/><circle cx="413.8" cy="1466.1" r="4.0"/><circle cx="416.6" cy="1466.2" r="4.0"/><circle cx="419.3" cy="1466.0" r="4.0"/><circle cx="422.1" cy="1465.8" r="4.0"/><circle cx="424.9" cy="1466.4" r="4.0"/><circle cx="427.7" cy="1466.0" r="4.0"/><circle cx="430.5" cy="1466.1" r="4.0"/><circle cx="433.2" cy="1466.1" r="4.0"/><circle cx="436.0" cy="1466.0" r="4.0"/><circle cx="438.8" cy="1466.0" r="4.0"/><circle cx="441.6" cy="1466.2" r="4.0"/><circle cx="444.4" cy="1466.7" r="4.0"/><circle cx="447.1" cy="1466.3" r="4.0"/><circle cx="449.9" cy="1466.3" r="4.0"/><circle cx="452.7" cy="1465.9" r="4.0"/><circle cx="455.5" cy="1466.2" r="4.0"/><circle cx="458.3" cy="1466.0" r="4.0"/><circle cx="461.1" cy="1466.3" r="4.0"/><circle cx="463.8" cy="1466.1" r="4.0"/><circle cx="466.6" cy="1466.2" r="4.0"/><circle cx="469.4" cy="1466.2" r="4.0"/><circle cx="472.2" cy="1466.1" r="4.0"/><circle cx="475.0" cy="1465.9" r="4.0"/><circle cx="477.7" cy="1466.3" r="4.0"/><circle cx="480.5" cy="1465.9" r="4.0"/><circle cx="483.3" cy="1466.0" r="4.0"/><circle cx="486.1" cy="1466.1" r="4.0"/><circle cx="488.9" cy="1466.0" r="4.0"/><circle cx="491.6" cy="1466.2" r="4.0"/><circle cx="494.4" cy="1466.4" r="4.0"/><circle cx="497.2" cy="1466.2" r="4.0"/><circle cx="500.0" cy="1466.2" r="4.0"/><circle cx="502.8" cy="1466.2" r="4.0"/><circle cx="505.6" cy="1466.4" r="4.0"/><circle cx="508.3" cy="1465.8" r="4.0"/><circle cx="511.1" cy="1466.3" r="4.0"/><circle cx="513.9" cy="1466.0" r="4.0"/><circle cx="516.7" cy="1465.9" r="4.0"/><circle cx="519.5" cy="1466.2" r="4.0"/><circle cx="522.2" cy="1466.1" r="4.0"/><circle cx="525.0" cy="1466.3" r="4.0"/><circle cx="527.8" cy="1466.4" r="4.0"/><circle cx="530.6" cy="1465.7" r="4.0"/><circle cx="533.4" cy="1466.2" r="4.0"/><circle cx="536.1" cy="1466.6" r="4.0"/><circle cx="538.9" cy="1466.4" r="4.0"/><circle cx="541.7" cy="1466.5" r="4.0"/><circle cx="544.5" cy="1466.2" r="4.0"/><circle cx="547.3" cy="1465.9" r="4.0"/><circle cx="550.1" cy="1466.0" r="4.0"/><circle cx="552.8" cy="1466.3" r="4.0"/><circle cx="555.6" cy="1466.4" r="4.0"/><circle cx="558.4" cy="1466.0" r="4.0"/><circle cx="561.2" cy="1466.1" r="4.0"/><circle cx="564.0" cy="1466.2" r="4.0"/><circle cx="566.7" cy="1465.8" r="4.0"/><circle cx="569.5" cy="1466.1" r="4.0"/><circle cx="572.3" cy="1466.5" r="4.0"/><circle cx="575.1" cy="1466.6" r="4.0"/><circle cx="577.9" cy="1466.2" r="4.0"/><circle cx="580.7" cy="1466.6" r="4.0"/><circle cx="583.4" cy="1466.1" r="4.0"/><circle cx="586.2" cy="1466.0" r="4.0"/><circle cx="589.0" cy="1465.7" r="4.0"/><circle cx="591.8" cy="1466.4" r="4.0"/><circle cx="594.6" cy="1466.1" r="4.0"/><circle cx="597.3" cy="1466.7" r="4.0"/><circle cx="600.1" cy="1466.3" r="4.0"/><circle cx="602.9" cy="1466.2" r="4.0"/><circle cx="605.7" cy="1465.8" r="4.0"/><circle cx="608.5" cy="1466.5" r="4.0"/><circle cx="611.2" cy="1466.1" r="4.0"/><circle cx="614.0" cy="1466.2" r="4.0"/><circle cx="616.8" cy="1465.7" r="4.0"/><circle cx="619.6" cy="1466.4" r="4.0"/><circle cx="622.4" cy="1466.4" r="4.0"/><circle cx="625.2" cy="1466.1" r="4.0"/><circle cx="627.9" cy="1466.2" r="4.0"/><circle cx="630.7" cy="1466.3" r="4.0"/><circle cx="633.5" cy="1466.4" r="4.0"/><circle cx="636.3" cy="1466.2" r="4.0"/><circle cx="639.1" cy="1466.5" r="4.0"/><circle cx="641.8" cy="1466.1" r="4.0"/><circle cx="644.6" cy="1466.1" r="4.0"/><circle cx="647.4" cy="1466.1" r="4.0"/><circle cx="650.2" cy="1465.7" r="4.0"/><circle cx="653.0" cy="1466.0" r="4.0"/><circle cx="655.7" cy="1466.4" r="4.0"/><circle cx="658.5" cy="1466.2" r="4.0"/><circle cx="661.3" cy="1466.0" r="4.0"/><circle cx="664.1" cy="1466.3" r="4.0"/><circle cx="666.9" cy="1465.8" r="4.0"/><circle cx="669.7" cy="1466.1" r="4.0"/><circle cx="672.4" cy="1466.3" r="4.0"/><circle cx="675.2" cy="1466.3" r="4.0"/><circle cx="678.0" cy="1466.0" r="4.0"/><circle cx="680.8" cy="1466.4" r="4.0"/><circle cx="683.6" cy="1466.6" r="4.0"/><circle cx="686.3" cy="1466.1" r="4.0"/><circle cx="689.1" cy="1466.3" r="4.0"/><circle cx="691.9" cy="1465.9" r="4.0"/><circle cx="694.7" cy="1465.8" r="4.0"/><circle cx="697.5" cy="1466.3" r="4.0"/><circle cx="700.2" cy="1466.2" r="4.0"/><circle cx="703.0" cy="1466.2" r="4.0"/><circle cx="705.8" cy="1466.1" r="4.0"/><circle cx="708.6" cy="1466.1" r="4.0"/><circle cx="711.4" cy="1466.4" r="4.0"/><circle cx="714.2" cy="1466.5" r="4.0"/><circle cx="716.9" cy="1466.1" r="4.0"/><circle cx="719.7" cy="1465.9" r="4.0"/><circle cx="722.5" cy="1466.4" r="4.0"/><circle cx="725.3" cy="1466.3" r="4.0"/><circle cx="728.1" cy="1466.3" r="4.0"/><circle cx="730.8" cy="1466.2" r="4.0"/><circle cx="733.6" cy="1466.7" r="4.0"/><circle cx="736.4" cy="1466.2" r="4.0"/><circle cx="739.2" cy="1466.3" r="4.0"/><circle cx="742.0" cy="1465.8" r="4.0"/><circle cx="744.7" cy="1466.1" r="4.0"/><circle cx="747.5" cy="1466.1" r="4.0"/><circle cx="750.3" cy="1466.2" r="4.0"/><circle cx="753.1" cy="1466.3" r="4.0"/><circle cx="755.9" cy="1466.0" r="4.0"/><circle cx="758.7" cy="1466.5" r="4.0"/><circle cx="761.4" cy="1466.0" r="4.0"/><circle cx="764.2" cy="1466.1" r="4.0"/><circle cx="767.0" cy="1466.2" r="4.0"/><circle cx="769.8" cy="1465.9" r="4.0"/><circle cx="772.6" cy="1466.3" r="4.0"/><circle cx="775.3" cy="1466.3" r="4.0"/><circle cx="778.1" cy="1466.1" r="4.0"/><circle cx="780.9" cy="1466.6" r="4.0"/><circle cx="783.7" cy="1466.2" r="4.0"/><circle cx="786.5" cy="1466.2" r="4.0"/><circle cx="789.3" cy="1466.0" r="4.0"/><circle cx="792.0" cy="1465.9" r="4.0"/><circle cx="794.8" cy="1466.1" r="4.0"/><circle cx="797.6" cy="1466.1" r="4.0"/><circle cx="800.4" cy="1466.1" r="4.0"/><circle cx="803.2" cy="1466.3" r="4.0"/><circle cx="805.9" cy="1465.7" r="4.0"/><circle cx="808.7" cy="1466.0" r="4.0"/><circle cx="811.5" cy="1465.8" r="4.0"/><circle cx="814.3" cy="1466.5" r="4.0"/><circle cx="817.1" cy="1466.1" r="4.0"/><circle cx="819.8" cy="1466.1" r="4.0"/><circle cx="822.6" cy="1465.9" r="4.0"/><circle cx="825.4" cy="1466.2" r="4.0"/><circle cx="828.2" cy="1465.6" r="4.0"/><circle cx="831.0" cy="1465.4" r="4.0"/><circle cx="833.8" cy="1464.5" r="4.0"/><circle cx="836.5" cy="1464.4" r="4.0"/><circle cx="839.3" cy="1463.2" r="4.0"/><circle cx="842.1" cy="1461.9" r="4.0"/><circle cx="844.9" cy="1460.7" r="4.0"/><circle cx="847.7" cy="1458.6" r="4.0"/><circle cx="850.4" cy="1456.5" r="4.0"/><circle cx="853.2" cy="1454.5" r="4.0"/><circle cx="856.0" cy="1452.6" r="4.0"/><circle cx="858.8" cy="1450.9" r="4.0"/><circle cx="861.6" cy="1449.3" r="4.0"/><circle cx="864.3" cy="1446.7" r="4.0"/><circle cx="867.1" cy="1443.1" r="4.0"/><circle cx="869.9" cy="1439.7" r="4.0"/><circle cx="872.7" cy="1436.8" r="4.0"/><circle cx="875.5" cy="1437.2" r="4.0"/><circle cx="878.3" cy="1430.1" r="4.0"/><circle cx="881.0" cy="1430.4" r="4.0"/><circle cx="883.8" cy="1430.7" r="4.0"/><circle cx="886.6" cy="1424.3" r="4.0"/><circle cx="889.4" cy="1419.8" r="4.0"/><circle cx="892.2" cy="1422.0" r="4.0"/><circle cx="894.9" cy="1419.3" r="4.0"/><circle cx="897.7" cy="1415.5" r="4.0"/><circle cx="900.5" cy="1418.1" r="4.0"/><circle cx="903.3" cy="1415.7" r="4.0"/><circle cx="906.1" cy="1415.7" r="4.0"/><circle cx="908.8" cy="1417.7" r="4.0"/><circle cx="911.6" cy="1416.9" r="4.0"/><circle cx="914.4" cy="1415.5" r="4.0"/><circle cx="917.2" cy="1416.4" r="4.0"/><circle cx="920.0" cy="1416.6" r="4.0"/><circle cx="922.8" cy="1420.0" r="4.0"/><circle cx="925.5" cy="1420.7" r="4.0"/><circle cx="928.3" cy="1422.4" r="4.0"/><circle cx="931.1" cy="1421.3" r="4.0"/><circle cx="933.9" cy="1421.2" r="4.0"/><circle cx="936.7" cy="1423.2" r="4.0"/><circle cx="939.4" cy="1426.7" r="4.0"/><circle cx="942.2" cy="1430.6" r="4.0"/><circle cx="945.0" cy="1430.5" r="4.0"/><circle cx="947.8" cy="1429.1" r="4.0"/><circle cx="950.6" cy="1432.2" r="4.0"/><circle cx="953.4" cy="1429.8" r="4.0"/><circle cx="956.1" cy="1433.9" r="4.0"/><circle cx="958.9" cy="1432.5" r="4.0"/><circle cx="961.7" cy="1434.6" r="4.0"/><circle cx="964.5" cy="1434.3" r="4.0"/><circle cx="967.3" cy="1432.8" r="4.0"/><circle cx="970.0" cy="1433.5" r="4.0"/><circle cx="972.8" cy="1431.3" r="4.0"/><circle cx="975.6" cy="1433.2" r="4.0"/><circle cx="978.4" cy="1435.7" r="4.0"/><circle cx="981.2" cy="1440.9" r="4.0"/><circle cx="983.9" cy="1436.2" r="4.0"/><circle cx="986.7" cy="1435.5" r="4.0"/><circle cx="989.5" cy="1434.1" r="4.0"/><circle cx="992.3" cy="1437.4" r="4.0"/><circle cx="995.1" cy="1433.5" r="4.0"/><circle cx="997.9" cy="1434.9" r="4.0"/><circle cx="1000.6" cy="1436.7" r="4.0"/><circle cx="1003.4" cy="1434.4" r="4.0"/><circle cx="1006.2" cy="1438.5" r="4.0"/><circle cx="1009.0" cy="1437.9" r="4.0"/><circle cx="1011.8" cy="1435.4" r="4.0"/><circle cx="1014.5" cy="1435.4" r="4.0"/><circle cx="1017.3" cy="1434.2" r="4.0"/><circle cx="1020.1" cy="1434.1" r="4.0"/><circle cx="1022.9" cy="1436.9" r="4.0"/><circle cx="1025.7" cy="1437.2" r="4.0"/><circle cx="1028.4" cy="1436.8" r="4.0"/><circle cx="1031.2" cy="1436.6" r="4.0"/><circle cx="1034.0" cy="1435.4" r="4.0"/><circle cx="1036.8" cy="1436.8" r="4.0"/><circle cx="1039.6" cy="1434.0" r="4.0"/><circle cx="1042.4" cy="1436.2" r="4.0"/><circle cx="1045.1" cy="1438.4" r="4.0"/><circle cx="1047.9" cy="1438.2" r="4.0"/><circle cx="1050.7" cy="1435.5" r="4.0"/><circle cx="1053.5" cy="1435.5" r="4.0"/><circle cx="1056.3" cy="1437.9" r="4.0"/><circle cx="1059.0" cy="1438.4" r="4.0"/><circle cx="1061.8" cy="1433.2" r="4.0"/><circle cx="1064.6" cy="1434.6" r="4.0"/><circle cx="1067.4" cy="1435.5" r="4.0"/><circle cx="1070.2" cy="1437.0" r="4.0"/><circle cx="1072.9" cy="1434.0" r="4.0"/><circle cx="1075.7" cy="1436.4" r="4.0"/><circle cx="1078.5" cy="1435.3" r="4.0"/><circle cx="1081.3" cy="1439.7" r="4.0"/><circle cx="1084.1" cy="1437.2" r="4.0"/></g>
</g>
<line x1="368.3" y1="36.9" x2="368.3" y2="320.2" stroke="#b0b0b0" stroke-width="1.8"/>
<line x1="506.6" y1="36.9" x2="506.6" y2="320.2" stroke="#b0b0b0" stroke-width="1.8"/>
<line x1="644.9" y1="36.9" x2="644.9" y2="320.2" stroke="#b0b0b0" stroke-width="1.8"/>
<line x1="783.2" y1="36.9" x2="783.2" y2="320.2" stroke="#b0b0b0" stroke-width="1.8"/>
<line x1="921.5" y1="36.9" x2="921.5" y2="320.2" stroke="#b0b0b0" stroke-width="1.8"/>
<line x1="1059.8" y1="36.9" x2="1059.8" y2="320.2" stroke="#b0b0b0" stroke-width="1.8"/>
<line x1="230" y1="305.4" x2="1086" y2="305.4" stroke="#b0b0b0" stroke-width="1.8"/>
<line x1="230" y1="171.1" x2="1086" y2="171.1" stroke="#b0b0b0" stroke-width="1.8"/>
<line x1="401.6" y1="419.0" x2="401.6" y2="702.6" stroke="#b0b0b0" stroke-width="1.8"/>
<line x1="572.8" y1="419.0" x2="572.8" y2="702.6" stroke="#b0b0b0" stroke-width="1.8"/>
<line x1="743.9" y1="419.0" x2="743.9" y2="702.6" stroke="#b0b0b0" stroke-width="1.8"/>
<line x1="915.0" y1="419.0" x2="915.0" y2="702.6" stroke="#b0b0b0" stroke-width="1.8"/>
<line x1="230.5" y1="691.8" x2="1086.2" y2="691.8" stroke="#b0b0b0" stroke-width="1.8"/>
<line x1="230.5" y1="594.8" x2="1086.2" y2="594.8" stroke="#b0b0b0" stroke-width="1.8"/>
<line x1="230.5" y1="497.8" x2="1086.2" y2="497.8" stroke="#b0b0b0" stroke-width="1.8"/>
<line x1="401.6" y1="801.1" x2="401.6" y2="1084.7" stroke="#b0b0b0" stroke-width="1.8"/>
<line x1="572.8" y1="801.1" x2="572.8" y2="1084.7" stroke="#b0b0b0" stroke-width="1.8"/>
<line x1="743.9" y1="801.1" x2="743.9" y2="1084.7" stroke="#b0b0b0" stroke-width="1.8"/>
<line x1="915.0" y1="801.1" x2="915.0" y2="1084.7" stroke="#b0b0b0" stroke-width="1.8"/>
<line x1="230.5" y1="1070.5" x2="1086.2" y2="1070.5" stroke="#b0b0b0" stroke-width="1.8"/>
<line x1="230.5" y1="943" x2="1086.2" y2="943" stroke="#b0b0b0" stroke-width="1.8"/>
<line x1="230.5" y1="815.1" x2="1086.2" y2="815.1" stroke="#b0b0b0" stroke-width="1.8"/>
<line x1="337.2" y1="1183.2" x2="337.2" y2="1466.5" stroke="#b0b0b0" stroke-width="1.8"/>
<line x1="444.1" y1="1183.2" x2="444.1" y2="1466.5" stroke="#b0b0b0" stroke-width="1.8"/>
<line x1="551.1" y1="1183.2" x2="551.1" y2="1466.5" stroke="#b0b0b0" stroke-width="1.8"/>
<line x1="658.1" y1="1183.2" x2="658.1" y2="1466.5" stroke="#b0b0b0" stroke-width="1.8"/>
<line x1="765.1" y1="1183.2" x2="765.1" y2="1466.5" stroke="#b0b0b0" stroke-width="1.8"/>
<line x1="872.0" y1="1183.2" x2="872.0" y2="1466.5" stroke="#b0b0b0" stroke-width="1.8"/>
<line x1="979.0" y1="1183.2" x2="979.0" y2="1466.5" stroke="#b0b0b0" stroke-width="1.8"/>
<line x1="230.2" y1="1454.2" x2="1086.2" y2="1454.2" stroke="#b0b0b0" stroke-width="1.8"/>
<line x1="230.2" y1="1343.4" x2="1086.2" y2="1343.4" stroke="#b0b0b0" stroke-width="1.8"/>
<line x1="230.2" y1="1232.5" x2="1086.2" y2="1232.5" stroke="#b0b0b0" stroke-width="1.8"/>
<rect x="230" y="36.9" width="856" height="283.3" fill="none" stroke="#000" stroke-width="2.5"/>
<line x1="230.0" y1="320.2" x2="230.0" y2="330.2" stroke="#000" stroke-width="2.5"/>
<line x1="368.3" y1="320.2" x2="368.3" y2="330.2" stroke="#000" stroke-width="2.5"/>
<line x1="506.6" y1="320.2" x2="506.6" y2="330.2" stroke="#000" stroke-width="2.5"/>
<line x1="644.9" y1="320.2" x2="644.9" y2="330.2" stroke="#000" stroke-width="2.5"/>
<line x1="783.2" y1="320.2" x2="783.2" y2="330.2" stroke="#000" stroke-width="2.5"/>
<line x1="921.5" y1="320.2" x2="921.5" y2="330.2" stroke="#000" stroke-width="2.5"/>
<line x1="1059.8" y1="320.2" x2="1059.8" y2="330.2" stroke="#000" stroke-width="2.5"/>
<line x1="220" y1="305.4" x2="230" y2="305.4" stroke="#000" stroke-width="2.5"/>
<line x1="220" y1="171.1" x2="230" y2="171.1" stroke="#000" stroke-width="2.5"/>
<line x1="220" y1="37.0" x2="230" y2="37.0" stroke="#000" stroke-width="2.5"/>
<line x1="220" y1="320.2" x2="230" y2="320.2" stroke="#000" stroke-width="2.5"/>
<text transform="translate(219.65,353.66) scale(1.0098,1)" font-size="24.23" font-weight="normal" fill="#000" >0</text>
<text transform="translate(348.44,353.66) scale(0.9617,1)" font-size="24.23" font-weight="normal" fill="#000" >100</text>
<text transform="translate(487.04,353.66) scale(0.9465,1)" font-size="24.23" font-weight="normal" fill="#000" >200</text>
<text transform="translate(624.88,353.66) scale(0.9405,1)" font-size="24.23" font-weight="normal" fill="#000" >300</text>
<text transform="translate(763.54,353.66) scale(0.9288,1)" font-size="24.23" font-weight="normal" fill="#000" >400</text>
<text transform="translate(899.98,353.66) scale(0.9405,1)" font-size="24.23" font-weight="normal" fill="#000" >500</text>
<text transform="translate(1037.04,353.66) scale(0.9465,1)" font-size="24.23" font-weight="normal" fill="#000" >600</text>
<text transform="translate(183.59,42.76) scale(0.9522,1)" font-size="23.94" font-weight="normal" fill="#000" >10</text>
<text transform="translate(209.33,35.60) scale(0.8399,1)" font-size="15.80" font-weight="normal" fill="#000" >4</text>
<text transform="translate(183.59,174.76) scale(0.9522,1)" font-size="23.94" font-weight="normal" fill="#000" >10</text>
<text transform="translate(209.04,167.25) scale(0.9188,1)" font-size="15.35" font-weight="normal" fill="#000" >3</text>
<text transform="translate(183.59,309.76) scale(0.9522,1)" font-size="23.94" font-weight="normal" fill="#000" >10</text>
<text transform="translate(208.86,302.40) scale(0.9457,1)" font-size="15.57" font-weight="normal" fill="#000" >2</text>
<rect x="230.5" y="419.0" width="855.7" height="283.6" fill="none" stroke="#000" stroke-width="2.5"/>
<line x1="230.5" y1="702.6" x2="230.5" y2="712.6" stroke="#000" stroke-width="2.5"/>
<line x1="401.6" y1="702.6" x2="401.6" y2="712.6" stroke="#000" stroke-width="2.5"/>
<line x1="572.8" y1="702.6" x2="572.8" y2="712.6" stroke="#000" stroke-width="2.5"/>
<line x1="743.9" y1="702.6" x2="743.9" y2="712.6" stroke="#000" stroke-width="2.5"/>
<line x1="915.0" y1="702.6" x2="915.0" y2="712.6" stroke="#000" stroke-width="2.5"/>
<line x1="1086.1" y1="702.6" x2="1086.1" y2="712.6" stroke="#000" stroke-width="2.5"/>
<line x1="220.5" y1="691.8" x2="230.5" y2="691.8" stroke="#000" stroke-width="2.5"/>
<line x1="220.5" y1="594.8" x2="230.5" y2="594.8" stroke="#000" stroke-width="2.5"/>
<line x1="220.5" y1="497.8" x2="230.5" y2="497.8" stroke="#000" stroke-width="2.5"/>
<line x1="220.5" y1="702.6" x2="230.5" y2="702.6" stroke="#000" stroke-width="2.5"/>
<text transform="translate(221.34,734.67) scale(1.0080,1)" font-size="23.24" font-weight="normal" fill="#000" >0</text>
<text transform="translate(389.84,734.67) scale(0.9557,1)" font-size="23.24" font-weight="normal" fill="#000" >50</text>
<text transform="translate(552.51,734.67) scale(0.9611,1)" font-size="23.24" font-weight="normal" fill="#000" >100</text>
<text transform="translate(722.23,734.67) scale(0.9611,1)" font-size="23.24" font-weight="normal" fill="#000" >150</text>
<text transform="translate(898.73,734.67) scale(0.9459,1)" font-size="23.24" font-weight="normal" fill="#000" >200</text>
<text transform="translate(1064.16,734.67) scale(0.9459,1)" font-size="23.24" font-weight="normal" fill="#000" >250</text>
<text transform="translate(180.81,505.46) scale(0.9453,1)" font-size="23.80" font-weight="normal" fill="#000" >10</text>
<text transform="translate(206.63,498.10) scale(0.8524,1)" font-size="15.80" font-weight="normal" fill="#000" >4</text>
<text transform="translate(180.81,605.66) scale(0.9453,1)" font-size="23.80" font-weight="normal" fill="#000" >10</text>
<text transform="translate(206.33,598.05) scale(0.9325,1)" font-size="15.35" font-weight="normal" fill="#000" >3</text>
<text transform="translate(180.81,696.46) scale(0.9453,1)" font-size="23.80" font-weight="normal" fill="#000" >10</text>
<text transform="translate(206.15,689.00) scale(0.9598,1)" font-size="15.57" font-weight="normal" fill="#000" >2</text>
<text transform="translate(194.03,714.66) scale(1.0213,1)" font-size="23.66" font-weight="normal" fill="#000" >0</text>
<rect x="230.5" y="801.1" width="855.7" height="283.6" fill="none" stroke="#000" stroke-width="2.5"/>
<line x1="230.5" y1="1084.7" x2="230.5" y2="1094.7" stroke="#000" stroke-width="2.5"/>
<line x1="401.6" y1="1084.7" x2="401.6" y2="1094.7" stroke="#000" stroke-width="2.5"/>
<line x1="572.8" y1="1084.7" x2="572.8" y2="1094.7" stroke="#000" stroke-width="2.5"/>
<line x1="743.9" y1="1084.7" x2="743.9" y2="1094.7" stroke="#000" stroke-width="2.5"/>
<line x1="915.0" y1="1084.7" x2="915.0" y2="1094.7" stroke="#000" stroke-width="2.5"/>
<line x1="1086.1" y1="1084.7" x2="1086.1" y2="1094.7" stroke="#000" stroke-width="2.5"/>
<line x1="220.5" y1="1070.5" x2="230.5" y2="1070.5" stroke="#000" stroke-width="2.5"/>
<line x1="220.5" y1="943" x2="230.5" y2="943" stroke="#000" stroke-width="2.5"/>
<line x1="220.5" y1="815.1" x2="230.5" y2="815.1" stroke="#000" stroke-width="2.5"/>
<line x1="220.5" y1="1084.7" x2="230.5" y2="1084.7" stroke="#000" stroke-width="2.5"/>
<text transform="translate(221.38,1116.57) scale(1.0077,1)" font-size="23.10" font-weight="normal" fill="#000" >0</text>
<text transform="translate(389.92,1116.57) scale(0.9556,1)" font-size="23.10" font-weight="normal" fill="#000" >50</text>
<text transform="translate(552.63,1116.57) scale(0.9610,1)" font-size="23.10" font-weight="normal" fill="#000" >100</text>
<text transform="translate(722.35,1116.57) scale(0.9610,1)" font-size="23.10" font-weight="normal" fill="#000" >150</text>
<text transform="translate(898.85,1116.57) scale(0.9458,1)" font-size="23.10" font-weight="normal" fill="#000" >200</text>
<text transform="translate(1064.27,1116.57) scale(0.9458,1)" font-size="23.10" font-weight="normal" fill="#000" >250</text>
<text transform="translate(180.25,826.96) scale(0.9889,1)" font-size="23.66" font-weight="normal" fill="#000" >10</text>
<text transform="translate(206.13,819.40) scale(0.8765,1)" font-size="15.36" font-weight="normal" fill="#000" >4</text>
<text transform="translate(180.25,959.06) scale(0.9889,1)" font-size="23.66" font-weight="normal" fill="#000" >10</text>
<text transform="translate(205.83,951.35) scale(0.9589,1)" font-size="14.93" font-weight="normal" fill="#000" >3</text>
<text transform="translate(180.25,1072.86) scale(0.9889,1)" font-size="23.66" font-weight="normal" fill="#000" >10</text>
<text transform="translate(205.65,1065.40) scale(0.9869,1)" font-size="15.14" font-weight="normal" fill="#000" >2</text>
<text transform="translate(193.55,1093.57) scale(1.0282,1)" font-size="23.10" font-weight="normal" fill="#000" >0</text>
<rect x="230.2" y="1183.2" width="856.0" height="283.29999999999995" fill="none" stroke="#000" stroke-width="2.5"/>
<line x1="230.2" y1="1466.5" x2="230.2" y2="1476.5" stroke="#000" stroke-width="2.5"/>
<line x1="337.2" y1="1466.5" x2="337.2" y2="1476.5" stroke="#000" stroke-width="2.5"/>
<line x1="444.1" y1="1466.5" x2="444.1" y2="1476.5" stroke="#000" stroke-width="2.5"/>
<line x1="551.1" y1="1466.5" x2="551.1" y2="1476.5" stroke="#000" stroke-width="2.5"/>
<line x1="658.1" y1="1466.5" x2="658.1" y2="1476.5" stroke="#000" stroke-width="2.5"/>
<line x1="765.1" y1="1466.5" x2="765.1" y2="1476.5" stroke="#000" stroke-width="2.5"/>
<line x1="872.0" y1="1466.5" x2="872.0" y2="1476.5" stroke="#000" stroke-width="2.5"/>
<line x1="979.0" y1="1466.5" x2="979.0" y2="1476.5" stroke="#000" stroke-width="2.5"/>
<line x1="1086.0" y1="1466.5" x2="1086.0" y2="1476.5" stroke="#000" stroke-width="2.5"/>
<line x1="220.2" y1="1454.2" x2="230.2" y2="1454.2" stroke="#000" stroke-width="2.5"/>
<line x1="220.2" y1="1343.4" x2="230.2" y2="1343.4" stroke="#000" stroke-width="2.5"/>
<line x1="220.2" y1="1232.5" x2="230.2" y2="1232.5" stroke="#000" stroke-width="2.5"/>
<line x1="220.2" y1="1466.5" x2="230.2" y2="1466.5" stroke="#000" stroke-width="2.5"/>
<text transform="translate(222.08,1501.77) scale(1.0077,1)" font-size="23.10" font-weight="normal" fill="#000" >0</text>
<text transform="translate(323.73,1501.77) scale(0.9697,1)" font-size="23.10" font-weight="normal" fill="#000" >25</text>
<text transform="translate(431.94,1501.77) scale(0.9556,1)" font-size="23.10" font-weight="normal" fill="#000" >50</text>
<text transform="translate(535.38,1501.77) scale(0.9560,1)" font-size="23.43" font-weight="normal" fill="#000" >75</text>
<text transform="translate(638.48,1501.77) scale(0.9610,1)" font-size="23.10" font-weight="normal" fill="#000" >100</text>
<text transform="translate(747.35,1501.77) scale(0.9641,1)" font-size="23.10" font-weight="normal" fill="#000" >125</text>
<text transform="translate(851.43,1501.77) scale(0.9610,1)" font-size="23.10" font-weight="normal" fill="#000" >150</text>
<text transform="translate(961.10,1501.77) scale(0.9506,1)" font-size="23.43" font-weight="normal" fill="#000" >175</text>
<text transform="translate(1065.65,1501.77) scale(0.9458,1)" font-size="23.10" font-weight="normal" fill="#000" >200</text>
<text transform="translate(182.37,1242.66) scale(0.9648,1)" font-size="23.94" font-weight="normal" fill="#000" >10</text>
<text transform="translate(207.82,1235.00) scale(0.8775,1)" font-size="15.80" font-weight="normal" fill="#000" >4</text>
<text transform="translate(182.37,1345.56) scale(0.9648,1)" font-size="23.94" font-weight="normal" fill="#000" >10</text>
<text transform="translate(207.51,1338.15) scale(0.9599,1)" font-size="15.35" font-weight="normal" fill="#000" >3</text>
<text transform="translate(182.37,1453.56) scale(0.9648,1)" font-size="23.94" font-weight="normal" fill="#000" >10</text>
<text transform="translate(207.33,1446.10) scale(0.9880,1)" font-size="15.57" font-weight="normal" fill="#000" >2</text>
<text transform="translate(193.53,1474.37) scale(1.0527,1)" font-size="22.96" font-weight="normal" fill="#000" >0</text>
<g fill="#0000ff"><circle cx="1155.8" cy="124.1" r="2.8"/><circle cx="1164.6" cy="123.7" r="2.8"/><circle cx="1173.2" cy="122.7" r="2.8"/><circle cx="1182.2" cy="121.2" r="2.8"/><circle cx="1191.1" cy="119.3" r="2.8"/><circle cx="1199.9" cy="115.8" r="2.8"/><circle cx="1208.8" cy="112.6" r="2.8"/><circle cx="1217.4" cy="108.1" r="2.8"/><circle cx="1226.0" cy="103.4" r="2.8"/><circle cx="1234.6" cy="100.3" r="2.8"/><circle cx="1243.2" cy="93.1" r="2.8"/><circle cx="1252.2" cy="87.1" r="2.8"/><circle cx="1260.9" cy="82.5" r="2.8"/><circle cx="1269.9" cy="78.0" r="2.8"/><circle cx="1279.0" cy="72.5" r="2.8"/><circle cx="1287.6" cy="63.9" r="2.8"/><circle cx="1296.2" cy="59.9" r="2.8"/><circle cx="1304.8" cy="57.5" r="2.8"/><circle cx="1313.8" cy="50.1" r="2.8"/><circle cx="1322.4" cy="49.2" r="2.8"/><circle cx="1331.0" cy="42.4" r="2.8"/><circle cx="1339.9" cy="40.6" r="2.8"/><circle cx="1348.7" cy="36.7" r="2.8"/><circle cx="1357.6" cy="36.7" r="2.8"/><circle cx="1366.8" cy="30.7" r="2.8"/></g>
<path d="M1155.8,124.6 L1156.8,124.5 L1157.8,124.5 L1158.8,124.4 L1159.8,124.3 L1160.8,124.2 L1161.8,124.1 L1162.8,124.0 L1163.8,123.9 L1164.8,123.7 L1165.8,123.6 L1166.8,123.5 L1167.8,123.3 L1168.8,123.2 L1169.8,123.1 L1170.8,122.9 L1171.8,122.8 L1172.8,122.6 L1173.8,122.5 L1174.8,122.3 L1175.8,122.1 L1176.8,122.0 L1177.8,121.8 L1178.8,121.6 L1179.8,121.4 L1180.8,121.1 L1181.8,120.9 L1182.8,120.7 L1183.8,120.4 L1184.8,120.2 L1185.8,120.0 L1186.8,119.7 L1187.8,119.4 L1188.8,119.2 L1189.8,118.9 L1190.8,118.6 L1191.8,118.3 L1192.8,118.1 L1193.8,117.8 L1194.8,117.5 L1195.8,117.1 L1196.8,116.8 L1197.8,116.5 L1198.8,116.1 L1199.8,115.8 L1200.8,115.4 L1201.8,115.1 L1202.8,114.7 L1203.8,114.3 L1204.8,114.0 L1205.8,113.6 L1206.8,113.2 L1207.8,112.8 L1208.8,112.4 L1209.8,112.0 L1210.8,111.6 L1211.8,111.1 L1212.8,110.7 L1213.8,110.3 L1214.8,109.8 L1215.8,109.3 L1216.8,108.9 L1217.8,108.4 L1218.8,107.9 L1219.8,107.4 L1220.8,106.9 L1221.8,106.4 L1222.8,105.9 L1223.8,105.4 L1224.8,104.9 L1225.8,104.4 L1226.8,103.9 L1227.8,103.3 L1228.8,102.8 L1229.8,102.2 L1230.8,101.7 L1231.8,101.1 L1232.8,100.5 L1233.8,100.0 L1234.8,99.4 L1235.8,98.8 L1236.8,98.2 L1237.8,97.6 L1238.8,97.0 L1239.8,96.4 L1240.8,95.8 L1241.8,95.2 L1242.8,94.6 L1243.8,94.0 L1244.8,93.4 L1245.8,92.8 L1246.8,92.1 L1247.8,91.5 L1248.8,90.9 L1249.8,90.3 L1250.8,89.7 L1251.8,89.1 L1252.8,88.4 L1253.8,87.8 L1254.8,87.2 L1255.8,86.6 L1256.8,85.9 L1257.8,85.3 L1258.8,84.7 L1259.8,84.0 L1260.8,83.4 L1261.8,82.8 L1262.8,82.1 L1263.8,81.5 L1264.8,80.8 L1265.8,80.2 L1266.8,79.5 L1267.8,78.9 L1268.8,78.2 L1269.8,77.6 L1270.8,76.9 L1271.8,76.3 L1272.8,75.6 L1273.8,75.0 L1274.8,74.3 L1275.8,73.6 L1276.8,73.0 L1277.8,72.3 L1278.8,71.7 L1279.8,71.0 L1280.8,70.4 L1281.8,69.7 L1282.8,69.1 L1283.8,68.4 L1284.8,67.7 L1285.8,67.1 L1286.8,66.4 L1287.8,65.7 L1288.8,65.1 L1289.8,64.4 L1290.8,63.8 L1291.8,63.2 L1292.8,62.5 L1293.8,61.9 L1294.8,61.3 L1295.8,60.7 L1296.8,60.1 L1297.8,59.5 L1298.8,58.9 L1299.8,58.3 L1300.8,57.7 L1301.8,57.1 L1302.8,56.5 L1303.8,56.0 L1304.8,55.4 L1305.8,54.8 L1306.8,54.3 L1307.8,53.7 L1308.8,53.2 L1309.8,52.6 L1310.8,52.1 L1311.8,51.6 L1312.8,51.1 L1313.8,50.6 L1314.8,50.1 L1315.8,49.6 L1316.8,49.1 L1317.8,48.6 L1318.8,48.1 L1319.8,47.7 L1320.8,47.2 L1321.8,46.7 L1322.8,46.3 L1323.8,45.8 L1324.8,45.4 L1325.8,45.0 L1326.8,44.5 L1327.8,44.1 L1328.8,43.7 L1329.8,43.3 L1330.8,43.0 L1331.8,42.6 L1332.8,42.2 L1333.8,41.8 L1334.8,41.4 L1335.8,41.1 L1336.8,40.7 L1337.8,40.3 L1338.8,40.0 L1339.8,39.7 L1340.8,39.3 L1341.8,39.0 L1342.8,38.7 L1343.8,38.4 L1344.8,38.1 L1345.8,37.9 L1346.8,37.6 L1347.8,37.4 L1348.8,37.1 L1349.8,36.9 L1350.8,36.7 L1351.8,36.4 L1352.8,36.2 L1353.8,36.0 L1354.8,35.8 L1355.8,35.6 L1356.8,35.4 L1357.8,35.2 L1358.8,35.0 L1359.8,34.8 L1360.8,34.6 L1361.8,34.5 L1362.8,34.3 L1363.8,34.1 L1364.8,34.0 L1365.8,33.9" fill="none" stroke="#ff0000" stroke-width="2.9" stroke-dasharray="9.5 5.7"/>
<rect x="1145.5" y="25.8" width="231.5" height="103.2" fill="none" stroke="#000" stroke-width="2.2"/>
<line x1="1155.9" y1="129" x2="1155.9" y2="139.5" stroke="#000" stroke-width="2.2"/>
<text transform="translate(1144.59,164.30) scale(1.0290,1)" font-size="19.72" font-weight="normal" fill="#000" >30</text>
<line x1="1375.2" y1="129" x2="1375.2" y2="139.5" stroke="#000" stroke-width="2.2"/>
<text transform="translate(1363.88,164.30) scale(1.0194,1)" font-size="20.00" font-weight="normal" fill="#000" >55</text>
<text transform="translate(1144.84,17.00) scale(1.1910,1)" font-size="19.72" font-weight="normal" fill="#000" >1e3</text>
<line x1="1142.0" y1="75.1" x2="1145.5" y2="75.1" stroke="#000" stroke-width="2.6"/>
<line x1="1142.0" y1="126.7" x2="1145.5" y2="126.7" stroke="#000" stroke-width="2.6"/>
<g fill="#ffa500"><circle cx="1155.5" cy="225.5" r="2.6"/><circle cx="1160.6" cy="224.6" r="2.6"/><circle cx="1164.9" cy="230.6" r="2.6"/><circle cx="1167.5" cy="222.0" r="2.6"/><circle cx="1172.7" cy="228.1" r="2.6"/><circle cx="1177.8" cy="225.5" r="2.6"/><circle cx="1183.0" cy="228.1" r="2.6"/><circle cx="1187.3" cy="225.5" r="2.6"/><circle cx="1192.5" cy="229.8" r="2.6"/><circle cx="1196.8" cy="228.1" r="2.6"/><circle cx="1201.1" cy="231.5" r="2.6"/><circle cx="1206.2" cy="228.9" r="2.6"/><circle cx="1210.5" cy="232.0" r="2.6"/><circle cx="1214.0" cy="231.5" r="2.6"/><circle cx="1218.3" cy="227.2" r="2.6"/><circle cx="1221.7" cy="227.2" r="2.6"/><circle cx="1224.3" cy="224.6" r="2.6"/><circle cx="1227.7" cy="227.2" r="2.6"/><circle cx="1231.2" cy="229.8" r="2.6"/><circle cx="1234.6" cy="230.6" r="2.6"/><circle cx="1238.1" cy="232.4" r="2.6"/><circle cx="1241.5" cy="235.8" r="2.6"/><circle cx="1244.9" cy="235.8" r="2.6"/><circle cx="1247.5" cy="241.0" r="2.6"/><circle cx="1251.8" cy="251.3" r="2.6"/><circle cx="1255.3" cy="254.7" r="2.6"/><circle cx="1258.7" cy="258.2" r="2.6"/><circle cx="1262.2" cy="259.9" r="2.6"/><circle cx="1269.0" cy="266.8" r="2.6"/><circle cx="1272.5" cy="270.2" r="2.6"/><circle cx="1275.9" cy="275.4" r="2.6"/><circle cx="1279.4" cy="273.7" r="2.6"/><circle cx="1282.8" cy="277.1" r="2.6"/><circle cx="1289.7" cy="284.0" r="2.6"/><circle cx="1294.0" cy="285.7" r="2.6"/><circle cx="1298.3" cy="290.9" r="2.6"/><circle cx="1303.4" cy="295.2" r="2.6"/><circle cx="1310.3" cy="299.5" r="2.6"/><circle cx="1317.2" cy="303.8" r="2.6"/><circle cx="1320.6" cy="307.2" r="2.6"/><circle cx="1325.8" cy="308.9" r="2.6"/><circle cx="1331.0" cy="310.6" r="2.6"/><circle cx="1336.1" cy="312.4" r="2.6"/><circle cx="1343.0" cy="313.2" r="2.6"/><circle cx="1349.9" cy="314.1" r="2.6"/><circle cx="1355.1" cy="314.1" r="2.6"/><circle cx="1360.2" cy="314.9" r="2.6"/><circle cx="1365.4" cy="314.9" r="2.6"/></g>
<path d="M1155.5,225.1 L1156.5,225.1 L1157.5,225.1 L1158.5,225.1 L1159.5,225.1 L1160.5,225.1 L1161.5,225.1 L1162.5,225.1 L1163.5,225.1 L1164.5,225.1 L1165.5,225.1 L1166.5,225.1 L1167.5,225.1 L1168.5,225.1 L1169.5,225.1 L1170.5,225.1 L1171.5,225.1 L1172.5,225.1 L1173.5,225.1 L1174.5,225.1 L1175.5,225.1 L1176.5,225.2 L1177.5,225.2 L1178.5,225.2 L1179.5,225.3 L1180.5,225.4 L1181.5,225.4 L1182.5,225.5 L1183.5,225.6 L1184.5,225.7 L1185.5,225.8 L1186.5,225.9 L1187.5,226.0 L1188.5,226.1 L1189.5,226.1 L1190.5,226.2 L1191.5,226.3 L1192.5,226.4 L1193.5,226.5 L1194.5,226.6 L1195.5,226.7 L1196.5,226.8 L1197.5,226.9 L1198.5,227.0 L1199.5,227.1 L1200.5,227.2 L1201.5,227.3 L1202.5,227.5 L1203.5,227.6 L1204.5,227.7 L1205.5,227.8 L1206.5,228.0 L1207.5,228.1 L1208.5,228.3 L1209.5,228.4 L1210.5,228.6 L1211.5,228.7 L1212.5,228.9 L1213.5,229.1 L1214.5,229.2 L1215.5,229.4 L1216.5,229.6 L1217.5,229.8 L1218.5,230.0 L1219.5,230.2 L1220.5,230.5 L1221.5,230.8 L1222.5,231.1 L1223.5,231.4 L1224.5,231.7 L1225.5,232.0 L1226.5,232.4 L1227.5,232.8 L1228.5,233.1 L1229.5,233.6 L1230.5,234.0 L1231.5,234.4 L1232.5,234.8 L1233.5,235.3 L1234.5,235.7 L1235.5,236.2 L1236.5,236.7 L1237.5,237.3 L1238.5,237.9 L1239.5,238.5 L1240.5,239.2 L1241.5,239.9 L1242.5,240.6 L1243.5,241.3 L1244.5,242.1 L1245.5,242.8 L1246.5,243.6 L1247.5,244.4 L1248.5,245.2 L1249.5,246.0 L1250.5,246.8 L1251.5,247.6 L1252.5,248.4 L1253.5,249.2 L1254.5,250.0 L1255.5,250.9 L1256.5,251.8 L1257.5,252.7 L1258.5,253.6 L1259.5,254.5 L1260.5,255.4 L1261.5,256.3 L1262.5,257.3 L1263.5,258.2 L1264.5,259.1 L1265.5,260.1 L1266.5,261.0 L1267.5,261.9 L1268.5,262.8 L1269.5,263.7 L1270.5,264.6 L1271.5,265.5 L1272.5,266.4 L1273.5,267.3 L1274.5,268.2 L1275.5,269.1 L1276.5,270.0 L1277.5,270.9 L1278.5,271.8 L1279.5,272.7 L1280.5,273.6 L1281.5,274.5 L1282.5,275.4 L1283.5,276.3 L1284.5,277.2 L1285.5,278.1 L1286.5,279.0 L1287.5,280.0 L1288.5,280.9 L1289.5,281.8 L1290.5,282.8 L1291.5,283.7 L1292.5,284.6 L1293.5,285.6 L1294.5,286.5 L1295.5,287.5 L1296.5,288.4 L1297.5,289.3 L1298.5,290.2 L1299.5,291.1 L1300.5,291.9 L1301.5,292.8 L1302.5,293.6 L1303.5,294.3 L1304.5,295.1 L1305.5,295.8 L1306.5,296.6 L1307.5,297.3 L1308.5,298.0 L1309.5,298.7 L1310.5,299.4 L1311.5,300.1 L1312.5,300.7 L1313.5,301.4 L1314.5,302.0 L1315.5,302.6 L1316.5,303.2 L1317.5,303.8 L1318.5,304.4 L1319.5,304.9 L1320.5,305.4 L1321.5,305.9 L1322.5,306.4 L1323.5,306.9 L1324.5,307.4 L1325.5,307.9 L1326.5,308.4 L1327.5,308.8 L1328.5,309.3 L1329.5,309.7 L1330.5,310.1 L1331.5,310.5 L1332.5,310.9 L1333.5,311.2 L1334.5,311.6 L1335.5,311.8 L1336.5,312.1 L1337.5,312.3 L1338.5,312.5 L1339.5,312.6 L1340.5,312.8 L1341.5,313.0 L1342.5,313.1 L1343.5,313.3 L1344.5,313.5 L1345.5,313.6 L1346.5,313.8 L1347.5,313.9 L1348.5,314.0 L1349.5,314.2 L1350.5,314.3 L1351.5,314.4 L1352.5,314.5 L1353.5,314.6 L1354.5,314.7 L1355.5,314.8 L1356.5,314.9 L1357.5,315.0 L1358.5,315.1 L1359.5,315.1 L1360.5,315.2 L1361.5,315.2 L1362.5,315.2 L1363.5,315.3 L1364.5,315.3" fill="none" stroke="#000000" stroke-width="2.9" stroke-dasharray="9.5 5.7"/>
<rect x="1145.5" y="217.3" width="231.5" height="102.69999999999999" fill="none" stroke="#000" stroke-width="2.2"/>
<line x1="1155.9" y1="320" x2="1155.9" y2="330.5" stroke="#000" stroke-width="2.2"/>
<text transform="translate(1143.83,355.30) scale(1.0650,1)" font-size="19.72" font-weight="normal" fill="#000" >10</text>
<line x1="1368.8" y1="320" x2="1368.8" y2="330.5" stroke="#000" stroke-width="2.2"/>
<text transform="translate(1357.38,355.30) scale(1.0390,1)" font-size="19.72" font-weight="normal" fill="#000" >85</text>
<text transform="translate(1144.84,208.50) scale(1.1910,1)" font-size="19.72" font-weight="normal" fill="#000" >1e3</text>
<line x1="1142.0" y1="230.3" x2="1145.5" y2="230.3" stroke="#000" stroke-width="2.6"/>
<line x1="1142.0" y1="317" x2="1145.5" y2="317" stroke="#000" stroke-width="2.6"/>
<g fill="#0000ff"><circle cx="1155.8" cy="506.3" r="2.1"/><circle cx="1160.6" cy="505.3" r="2.1"/><circle cx="1164.9" cy="504.9" r="2.1"/><circle cx="1169.6" cy="506.2" r="2.1"/><circle cx="1174.1" cy="504.9" r="2.1"/><circle cx="1178.7" cy="504.6" r="2.1"/><circle cx="1183.0" cy="504.1" r="2.1"/><circle cx="1187.3" cy="503.2" r="2.1"/><circle cx="1191.6" cy="503.6" r="2.1"/><circle cx="1195.9" cy="502.4" r="2.1"/><circle cx="1200.6" cy="501.2" r="2.1"/><circle cx="1205.0" cy="500.1" r="2.1"/><circle cx="1209.7" cy="499.4" r="2.1"/><circle cx="1214.3" cy="498.1" r="2.1"/><circle cx="1218.8" cy="496.3" r="2.1"/><circle cx="1223.4" cy="494.3" r="2.1"/><circle cx="1227.7" cy="492.0" r="2.1"/><circle cx="1232.4" cy="489.5" r="2.1"/><circle cx="1236.7" cy="486.9" r="2.1"/><circle cx="1241.5" cy="485.2" r="2.1"/><circle cx="1245.8" cy="482.2" r="2.1"/><circle cx="1250.1" cy="479.1" r="2.1"/><circle cx="1254.4" cy="475.7" r="2.1"/><circle cx="1258.7" cy="470.5" r="2.1"/><circle cx="1263.5" cy="470.2" r="2.1"/><circle cx="1267.7" cy="461.9" r="2.1"/><circle cx="1272.1" cy="457.1" r="2.1"/><circle cx="1276.8" cy="453.7" r="2.1"/><circle cx="1281.1" cy="453.3" r="2.1"/><circle cx="1285.4" cy="446.8" r="2.1"/><circle cx="1290.0" cy="443.4" r="2.1"/><circle cx="1294.5" cy="439.2" r="2.1"/><circle cx="1299.1" cy="434.4" r="2.1"/><circle cx="1303.4" cy="431.3" r="2.1"/><circle cx="1308.3" cy="432.7" r="2.1"/><circle cx="1312.9" cy="424.4" r="2.1"/><circle cx="1317.2" cy="425.8" r="2.1"/><circle cx="1321.5" cy="422.4" r="2.1"/><circle cx="1326.2" cy="421.5" r="2.1"/><circle cx="1330.6" cy="420.3" r="2.1"/><circle cx="1335.3" cy="419.8" r="2.1"/><circle cx="1339.6" cy="416.3" r="2.1"/><circle cx="1343.9" cy="415.8" r="2.1"/><circle cx="1348.5" cy="416.9" r="2.1"/><circle cx="1353.3" cy="418.1" r="2.1"/><circle cx="1357.6" cy="419.3" r="2.1"/><circle cx="1361.9" cy="417.2" r="2.1"/><circle cx="1366.8" cy="417.2" r="2.1"/></g>
<path d="M1155.8,507.0 L1156.8,506.9 L1157.8,506.9 L1158.8,506.8 L1159.8,506.7 L1160.8,506.6 L1161.8,506.5 L1162.8,506.4 L1163.8,506.3 L1164.8,506.2 L1165.8,506.1 L1166.8,506.1 L1167.8,506.0 L1168.8,505.9 L1169.8,505.8 L1170.8,505.7 L1171.8,505.6 L1172.8,505.5 L1173.8,505.4 L1174.8,505.2 L1175.8,505.1 L1176.8,505.0 L1177.8,504.9 L1178.8,504.8 L1179.8,504.7 L1180.8,504.6 L1181.8,504.5 L1182.8,504.4 L1183.8,504.3 L1184.8,504.2 L1185.8,504.0 L1186.8,503.9 L1187.8,503.8 L1188.8,503.6 L1189.8,503.5 L1190.8,503.3 L1191.8,503.2 L1192.8,503.0 L1193.8,502.9 L1194.8,502.7 L1195.8,502.5 L1196.8,502.3 L1197.8,502.1 L1198.8,501.9 L1199.8,501.7 L1200.8,501.5 L1201.8,501.2 L1202.8,501.0 L1203.8,500.8 L1204.8,500.5 L1205.8,500.3 L1206.8,500.0 L1207.8,499.7 L1208.8,499.4 L1209.8,499.1 L1210.8,498.8 L1211.8,498.5 L1212.8,498.2 L1213.8,497.8 L1214.8,497.4 L1215.8,497.0 L1216.8,496.6 L1217.8,496.2 L1218.8,495.8 L1219.8,495.4 L1220.8,494.9 L1221.8,494.5 L1222.8,494.0 L1223.8,493.6 L1224.8,493.1 L1225.8,492.6 L1226.8,492.2 L1227.8,491.7 L1228.8,491.2 L1229.8,490.7 L1230.8,490.2 L1231.8,489.7 L1232.8,489.1 L1233.8,488.6 L1234.8,488.0 L1235.8,487.4 L1236.8,486.9 L1237.8,486.3 L1238.8,485.7 L1239.8,485.1 L1240.8,484.5 L1241.8,483.8 L1242.8,483.2 L1243.8,482.5 L1244.8,481.9 L1245.8,481.2 L1246.8,480.4 L1247.8,479.7 L1248.8,478.9 L1249.8,478.2 L1250.8,477.4 L1251.8,476.6 L1252.8,475.8 L1253.8,475.0 L1254.8,474.2 L1255.8,473.4 L1256.8,472.6 L1257.8,471.7 L1258.8,470.9 L1259.8,470.2 L1260.8,469.4 L1261.8,468.6 L1262.8,467.8 L1263.8,467.0 L1264.8,466.2 L1265.8,465.4 L1266.8,464.6 L1267.8,463.8 L1268.8,463.0 L1269.8,462.2 L1270.8,461.4 L1271.8,460.6 L1272.8,459.8 L1273.8,459.0 L1274.8,458.2 L1275.8,457.4 L1276.8,456.6 L1277.8,455.8 L1278.8,454.9 L1279.8,454.1 L1280.8,453.2 L1281.8,452.3 L1282.8,451.4 L1283.8,450.6 L1284.8,449.7 L1285.8,448.8 L1286.8,447.9 L1287.8,447.0 L1288.8,446.1 L1289.8,445.3 L1290.8,444.5 L1291.8,443.6 L1292.8,442.8 L1293.8,442.0 L1294.8,441.3 L1295.8,440.6 L1296.8,439.8 L1297.8,439.1 L1298.8,438.4 L1299.8,437.7 L1300.8,437.1 L1301.8,436.4 L1302.8,435.7 L1303.8,435.1 L1304.8,434.4 L1305.8,433.8 L1306.8,433.2 L1307.8,432.6 L1308.8,432.0 L1309.8,431.4 L1310.8,430.8 L1311.8,430.2 L1312.8,429.7 L1313.8,429.1 L1314.8,428.5 L1315.8,428.0 L1316.8,427.4 L1317.8,426.9 L1318.8,426.3 L1319.8,425.8 L1320.8,425.3 L1321.8,424.7 L1322.8,424.3 L1323.8,423.8 L1324.8,423.3 L1325.8,422.9 L1326.8,422.4 L1327.8,422.0 L1328.8,421.7 L1329.8,421.3 L1330.8,421.0 L1331.8,420.6 L1332.8,420.3 L1333.8,420.0 L1334.8,419.7 L1335.8,419.4 L1336.8,419.1 L1337.8,418.9 L1338.8,418.6 L1339.8,418.4 L1340.8,418.1 L1341.8,417.9 L1342.8,417.6 L1343.8,417.4 L1344.8,417.2 L1345.8,417.0 L1346.8,416.8 L1347.8,416.5 L1348.8,416.3 L1349.8,416.1 L1350.8,415.9 L1351.8,415.7 L1352.8,415.6 L1353.8,415.4 L1354.8,415.2 L1355.8,415.0 L1356.8,414.9 L1357.8,414.7 L1358.8,414.5 L1359.8,414.4 L1360.8,414.3 L1361.8,414.1" fill="none" stroke="#ff0000" stroke-width="2.9" stroke-dasharray="9.5 5.7"/>
<rect x="1145.5" y="408.3" width="231.5" height="103.30000000000001" fill="none" stroke="#000" stroke-width="2.2"/>
<line x1="1155.9" y1="511.6" x2="1155.9" y2="522.1" stroke="#000" stroke-width="2.2"/>
<text transform="translate(1143.83,546.90) scale(1.0650,1)" font-size="19.72" font-weight="normal" fill="#000" >10</text>
<line x1="1370.7" y1="511.6" x2="1370.7" y2="522.1" stroke="#000" stroke-width="2.2"/>
<text transform="translate(1359.38,546.90) scale(1.0340,1)" font-size="19.72" font-weight="normal" fill="#000" >58</text>
<text transform="translate(1144.84,399.50) scale(1.1910,1)" font-size="19.72" font-weight="normal" fill="#000" >1e3</text>
<line x1="1142.0" y1="446.1" x2="1145.5" y2="446.1" stroke="#000" stroke-width="2.6"/>
<line x1="1142.0" y1="508" x2="1145.5" y2="508" stroke="#000" stroke-width="2.6"/>
<g fill="#ffa500"><circle cx="1155.8" cy="605.1" r="2.5"/><circle cx="1167.2" cy="609.8" r="2.5"/><circle cx="1177.8" cy="611.5" r="2.5"/><circle cx="1189.4" cy="609.3" r="2.5"/><circle cx="1200.2" cy="615.8" r="2.5"/><circle cx="1211.4" cy="625.3" r="2.5"/><circle cx="1222.6" cy="626.5" r="2.5"/><circle cx="1233.8" cy="638.2" r="2.5"/><circle cx="1244.9" cy="645.9" r="2.5"/><circle cx="1255.3" cy="657.1" r="2.5"/><circle cx="1266.5" cy="665.7" r="2.5"/><circle cx="1277.6" cy="673.4" r="2.5"/><circle cx="1288.8" cy="679.8" r="2.5"/><circle cx="1300.0" cy="686.3" r="2.5"/><circle cx="1311.2" cy="690.1" r="2.5"/><circle cx="1322.0" cy="694.1" r="2.5"/><circle cx="1333.0" cy="694.9" r="2.5"/><circle cx="1343.9" cy="696.3" r="2.5"/><circle cx="1355.1" cy="697.5" r="2.5"/><circle cx="1366.2" cy="697.5" r="2.5"/></g>
<path d="M1155.8,604.6 L1156.8,604.8 L1157.8,605.0 L1158.8,605.2 L1159.8,605.4 L1160.8,605.6 L1161.8,605.8 L1162.8,606.0 L1163.8,606.2 L1164.8,606.4 L1165.8,606.6 L1166.8,606.8 L1167.8,607.1 L1168.8,607.3 L1169.8,607.5 L1170.8,607.7 L1171.8,608.0 L1172.8,608.2 L1173.8,608.4 L1174.8,608.7 L1175.8,608.9 L1176.8,609.2 L1177.8,609.4 L1178.8,609.6 L1179.8,609.9 L1180.8,610.1 L1181.8,610.4 L1182.8,610.6 L1183.8,610.9 L1184.8,611.1 L1185.8,611.4 L1186.8,611.7 L1187.8,612.0 L1188.8,612.3 L1189.8,612.6 L1190.8,613.0 L1191.8,613.3 L1192.8,613.7 L1193.8,614.1 L1194.8,614.5 L1195.8,614.9 L1196.8,615.4 L1197.8,615.9 L1198.8,616.4 L1199.8,616.9 L1200.8,617.4 L1201.8,618.0 L1202.8,618.5 L1203.8,619.1 L1204.8,619.6 L1205.8,620.2 L1206.8,620.7 L1207.8,621.3 L1208.8,621.8 L1209.8,622.4 L1210.8,622.9 L1211.8,623.5 L1212.8,624.1 L1213.8,624.6 L1214.8,625.2 L1215.8,625.8 L1216.8,626.4 L1217.8,627.0 L1218.8,627.6 L1219.8,628.2 L1220.8,628.9 L1221.8,629.5 L1222.8,630.1 L1223.8,630.7 L1224.8,631.4 L1225.8,632.0 L1226.8,632.7 L1227.8,633.3 L1228.8,634.0 L1229.8,634.7 L1230.8,635.3 L1231.8,636.0 L1232.8,636.7 L1233.8,637.4 L1234.8,638.1 L1235.8,638.8 L1236.8,639.5 L1237.8,640.2 L1238.8,641.0 L1239.8,641.7 L1240.8,642.4 L1241.8,643.2 L1242.8,643.9 L1243.8,644.6 L1244.8,645.4 L1245.8,646.2 L1246.8,647.0 L1247.8,647.8 L1248.8,648.6 L1249.8,649.4 L1250.8,650.2 L1251.8,651.0 L1252.8,651.8 L1253.8,652.7 L1254.8,653.5 L1255.8,654.3 L1256.8,655.1 L1257.8,655.9 L1258.8,656.7 L1259.8,657.5 L1260.8,658.3 L1261.8,659.0 L1262.8,659.8 L1263.8,660.6 L1264.8,661.3 L1265.8,662.1 L1266.8,662.9 L1267.8,663.6 L1268.8,664.4 L1269.8,665.1 L1270.8,665.9 L1271.8,666.6 L1272.8,667.3 L1273.8,668.1 L1274.8,668.8 L1275.8,669.5 L1276.8,670.3 L1277.8,671.0 L1278.8,671.7 L1279.8,672.5 L1280.8,673.2 L1281.8,674.0 L1282.8,674.7 L1283.8,675.5 L1284.8,676.2 L1285.8,677.0 L1286.8,677.7 L1287.8,678.4 L1288.8,679.1 L1289.8,679.8 L1290.8,680.5 L1291.8,681.1 L1292.8,681.7 L1293.8,682.3 L1294.8,682.9 L1295.8,683.4 L1296.8,684.0 L1297.8,684.5 L1298.8,685.0 L1299.8,685.5 L1300.8,686.0 L1301.8,686.5 L1302.8,686.9 L1303.8,687.4 L1304.8,687.8 L1305.8,688.3 L1306.8,688.7 L1307.8,689.1 L1308.8,689.5 L1309.8,689.9 L1310.8,690.2 L1311.8,690.6 L1312.8,690.9 L1313.8,691.2 L1314.8,691.6 L1315.8,691.9 L1316.8,692.2 L1317.8,692.5 L1318.8,692.8 L1319.8,693.1 L1320.8,693.4 L1321.8,693.7 L1322.8,694.0 L1323.8,694.2 L1324.8,694.5 L1325.8,694.7 L1326.8,694.9 L1327.8,695.1 L1328.8,695.2 L1329.8,695.4 L1330.8,695.5 L1331.8,695.6 L1332.8,695.8 L1333.8,695.9 L1334.8,696.0 L1335.8,696.1 L1336.8,696.2 L1337.8,696.3 L1338.8,696.4 L1339.8,696.5 L1340.8,696.6 L1341.8,696.7 L1342.8,696.7 L1343.8,696.8 L1344.8,696.9 L1345.8,697.0 L1346.8,697.0 L1347.8,697.1 L1348.8,697.2 L1349.8,697.2 L1350.8,697.3 L1351.8,697.4 L1352.8,697.4 L1353.8,697.5 L1354.8,697.5 L1355.8,697.6 L1356.8,697.7 L1357.8,697.7 L1358.8,697.8 L1359.8,697.8 L1360.8,697.9 L1361.8,697.9 L1362.8,697.9 L1363.8,698.0 L1364.8,698.0 L1365.8,698.0" fill="none" stroke="#000000" stroke-width="2.9" stroke-dasharray="9.5 5.7"/>
<rect x="1145.5" y="599.4" width="231.5" height="102.80000000000007" fill="none" stroke="#000" stroke-width="2.2"/>
<line x1="1155.9" y1="702.2" x2="1155.9" y2="712.7" stroke="#000" stroke-width="2.2"/>
<text transform="translate(1144.38,737.50) scale(1.0390,1)" font-size="19.72" font-weight="normal" fill="#000" >60</text>
<line x1="1376.3" y1="702.2" x2="1376.3" y2="712.7" stroke="#000" stroke-width="2.2"/>
<text transform="translate(1364.88,737.50) scale(1.0340,1)" font-size="19.72" font-weight="normal" fill="#000" >80</text>
<text transform="translate(1144.84,590.60) scale(1.1910,1)" font-size="19.72" font-weight="normal" fill="#000" >1e3</text>
<line x1="1142.0" y1="615.8" x2="1145.5" y2="615.8" stroke="#000" stroke-width="2.6"/>
<line x1="1142.0" y1="698.7" x2="1145.5" y2="698.7" stroke="#000" stroke-width="2.6"/>
<g fill="#0000ff"><circle cx="1155.8" cy="889.1" r="2.8"/><circle cx="1168.4" cy="887.9" r="2.8"/><circle cx="1180.9" cy="885.6" r="2.8"/><circle cx="1193.7" cy="882.5" r="2.8"/><circle cx="1206.2" cy="879.3" r="2.8"/><circle cx="1219.1" cy="873.6" r="2.8"/><circle cx="1232.0" cy="867.2" r="2.8"/><circle cx="1244.6" cy="859.0" r="2.8"/><circle cx="1257.3" cy="850.7" r="2.8"/><circle cx="1269.9" cy="840.9" r="2.8"/><circle cx="1282.8" cy="831.5" r="2.8"/><circle cx="1295.4" cy="820.3" r="2.8"/><circle cx="1308.3" cy="811.7" r="2.8"/><circle cx="1320.6" cy="807.0" r="2.8"/><circle cx="1333.5" cy="803.1" r="2.8"/><circle cx="1346.1" cy="800.5" r="2.8"/><circle cx="1358.8" cy="798.4" r="2.8"/></g>
<path d="M1155.8,889.6 L1156.8,889.5 L1157.8,889.3 L1158.8,889.2 L1159.8,889.0 L1160.8,888.9 L1161.8,888.7 L1162.8,888.5 L1163.8,888.4 L1164.8,888.2 L1165.8,888.1 L1166.8,887.9 L1167.8,887.7 L1168.8,887.5 L1169.8,887.4 L1170.8,887.2 L1171.8,887.0 L1172.8,886.8 L1173.8,886.6 L1174.8,886.4 L1175.8,886.2 L1176.8,886.0 L1177.8,885.8 L1178.8,885.6 L1179.8,885.4 L1180.8,885.2 L1181.8,885.0 L1182.8,884.8 L1183.8,884.6 L1184.8,884.3 L1185.8,884.1 L1186.8,883.9 L1187.8,883.6 L1188.8,883.4 L1189.8,883.2 L1190.8,882.9 L1191.8,882.7 L1192.8,882.4 L1193.8,882.2 L1194.8,881.9 L1195.8,881.7 L1196.8,881.4 L1197.8,881.1 L1198.8,880.9 L1199.8,880.6 L1200.8,880.3 L1201.8,880.0 L1202.8,879.8 L1203.8,879.5 L1204.8,879.2 L1205.8,878.9 L1206.8,878.5 L1207.8,878.2 L1208.8,877.9 L1209.8,877.6 L1210.8,877.2 L1211.8,876.9 L1212.8,876.5 L1213.8,876.2 L1214.8,875.8 L1215.8,875.4 L1216.8,875.0 L1217.8,874.6 L1218.8,874.2 L1219.8,873.8 L1220.8,873.4 L1221.8,872.9 L1222.8,872.5 L1223.8,872.0 L1224.8,871.6 L1225.8,871.1 L1226.8,870.6 L1227.8,870.1 L1228.8,869.6 L1229.8,869.0 L1230.8,868.5 L1231.8,867.9 L1232.8,867.3 L1233.8,866.7 L1234.8,866.1 L1235.8,865.5 L1236.8,864.8 L1237.8,864.2 L1238.8,863.6 L1239.8,862.9 L1240.8,862.3 L1241.8,861.6 L1242.8,861.0 L1243.8,860.3 L1244.8,859.7 L1245.8,859.0 L1246.8,858.3 L1247.8,857.6 L1248.8,856.9 L1249.8,856.3 L1250.8,855.6 L1251.8,854.8 L1252.8,854.1 L1253.8,853.4 L1254.8,852.7 L1255.8,852.0 L1256.8,851.3 L1257.8,850.5 L1258.8,849.8 L1259.8,849.1 L1260.8,848.4 L1261.8,847.6 L1262.8,846.9 L1263.8,846.2 L1264.8,845.4 L1265.8,844.7 L1266.8,843.9 L1267.8,843.2 L1268.8,842.4 L1269.8,841.7 L1270.8,840.9 L1271.8,840.1 L1272.8,839.4 L1273.8,838.6 L1274.8,837.9 L1275.8,837.1 L1276.8,836.4 L1277.8,835.6 L1278.8,834.9 L1279.8,834.1 L1280.8,833.3 L1281.8,832.5 L1282.8,831.8 L1283.8,831.0 L1284.8,830.2 L1285.8,829.4 L1286.8,828.7 L1287.8,827.9 L1288.8,827.1 L1289.8,826.4 L1290.8,825.7 L1291.8,824.9 L1292.8,824.2 L1293.8,823.5 L1294.8,822.9 L1295.8,822.2 L1296.8,821.5 L1297.8,820.9 L1298.8,820.2 L1299.8,819.6 L1300.8,819.0 L1301.8,818.3 L1302.8,817.7 L1303.8,817.1 L1304.8,816.5 L1305.8,815.9 L1306.8,815.4 L1307.8,814.8 L1308.8,814.2 L1309.8,813.7 L1310.8,813.2 L1311.8,812.6 L1312.8,812.1 L1313.8,811.6 L1314.8,811.1 L1315.8,810.6 L1316.8,810.2 L1317.8,809.7 L1318.8,809.2 L1319.8,808.8 L1320.8,808.3 L1321.8,807.9 L1322.8,807.4 L1323.8,807.0 L1324.8,806.6 L1325.8,806.2 L1326.8,805.8 L1327.8,805.3 L1328.8,805.0 L1329.8,804.6 L1330.8,804.2 L1331.8,803.8 L1332.8,803.4 L1333.8,803.0 L1334.8,802.6 L1335.8,802.3 L1336.8,801.9 L1337.8,801.5 L1338.8,801.2 L1339.8,800.8 L1340.8,800.5 L1341.8,800.2 L1342.8,799.8 L1343.8,799.5 L1344.8,799.2 L1345.8,798.9 L1346.8,798.7 L1347.8,798.4 L1348.8,798.1 L1349.8,797.9 L1350.8,797.6 L1351.8,797.4 L1352.8,797.2 L1353.8,796.9 L1354.8,796.7 L1355.8,796.5 L1356.8,796.3" fill="none" stroke="#ff0000" stroke-width="2.9" stroke-dasharray="9.5 5.7"/>
<rect x="1145.5" y="791.1" width="231.5" height="103.29999999999995" fill="none" stroke="#000" stroke-width="2.2"/>
<line x1="1147.7" y1="894.4" x2="1147.7" y2="904.9" stroke="#000" stroke-width="2.2"/>
<text transform="translate(1140.88,929.70) scale(1.0441,1)" font-size="19.72" font-weight="normal" fill="#000" >02</text>
<line x1="1376.3" y1="894.4" x2="1376.3" y2="904.9" stroke="#000" stroke-width="2.2"/>
<text transform="translate(1358.96,929.90) scale(1.0419,1)" font-size="20.29" font-weight="normal" fill="#000" >114</text>
<text transform="translate(1144.85,782.30) scale(1.1667,1)" font-size="20.00" font-weight="normal" fill="#000" >1e4</text>
<line x1="1142.0" y1="802.2" x2="1145.5" y2="802.2" stroke="#000" stroke-width="2.6"/>
<line x1="1142.0" y1="892" x2="1145.5" y2="892" stroke="#000" stroke-width="2.6"/>
<g fill="#ffa500"><circle cx="1155.8" cy="992.2" r="2.6"/><circle cx="1163.2" cy="993.1" r="2.6"/><circle cx="1170.6" cy="994.8" r="2.6"/><circle cx="1177.8" cy="995.6" r="2.6"/><circle cx="1185.1" cy="997.4" r="2.6"/><circle cx="1192.5" cy="999.1" r="2.6"/><circle cx="1199.9" cy="1001.7" r="2.6"/><circle cx="1207.1" cy="1005.1" r="2.6"/><circle cx="1214.3" cy="1008.5" r="2.6"/><circle cx="1221.7" cy="1012.8" r="2.6"/><circle cx="1229.1" cy="1018.0" r="2.6"/><circle cx="1236.3" cy="1023.2" r="2.6"/><circle cx="1243.6" cy="1029.2" r="2.6"/><circle cx="1251.0" cy="1035.2" r="2.6"/><circle cx="1258.4" cy="1040.4" r="2.6"/><circle cx="1265.2" cy="1045.5" r="2.6"/><circle cx="1272.1" cy="1050.7" r="2.6"/><circle cx="1279.4" cy="1054.1" r="2.6"/><circle cx="1286.6" cy="1058.4" r="2.6"/><circle cx="1294.0" cy="1061.9" r="2.6"/><circle cx="1300.9" cy="1066.2" r="2.6"/><circle cx="1308.3" cy="1068.8" r="2.6"/><circle cx="1315.5" cy="1070.5" r="2.6"/><circle cx="1322.7" cy="1073.1" r="2.6"/><circle cx="1330.1" cy="1074.4" r="2.6"/><circle cx="1337.5" cy="1076.2" r="2.6"/><circle cx="1344.7" cy="1076.5" r="2.6"/><circle cx="1352.0" cy="1078.2" r="2.6"/><circle cx="1359.4" cy="1078.2" r="2.6"/><circle cx="1366.8" cy="1079.1" r="2.6"/></g>
<path d="M1156.3,987.4 L1157.3,987.7 L1158.3,988.0 L1159.3,988.3 L1160.3,988.6 L1161.3,988.9 L1162.3,989.2 L1163.3,989.5 L1164.3,989.8 L1165.3,990.1 L1166.3,990.5 L1167.3,990.8 L1168.3,991.1 L1169.3,991.4 L1170.3,991.7 L1171.3,992.1 L1172.3,992.4 L1173.3,992.7 L1174.3,993.0 L1175.3,993.4 L1176.3,993.7 L1177.3,994.0 L1178.3,994.4 L1179.3,994.7 L1180.3,995.0 L1181.3,995.4 L1182.3,995.7 L1183.3,996.1 L1184.3,996.4 L1185.3,996.8 L1186.3,997.1 L1187.3,997.5 L1188.3,997.8 L1189.3,998.2 L1190.3,998.6 L1191.3,999.0 L1192.3,999.4 L1193.3,999.8 L1194.3,1000.2 L1195.3,1000.6 L1196.3,1001.0 L1197.3,1001.4 L1198.3,1001.8 L1199.3,1002.3 L1200.3,1002.7 L1201.3,1003.2 L1202.3,1003.6 L1203.3,1004.1 L1204.3,1004.6 L1205.3,1005.1 L1206.3,1005.5 L1207.3,1006.1 L1208.3,1006.6 L1209.3,1007.1 L1210.3,1007.7 L1211.3,1008.2 L1212.3,1008.8 L1213.3,1009.5 L1214.3,1010.1 L1215.3,1010.7 L1216.3,1011.4 L1217.3,1012.1 L1218.3,1012.7 L1219.3,1013.4 L1220.3,1014.1 L1221.3,1014.8 L1222.3,1015.5 L1223.3,1016.2 L1224.3,1016.9 L1225.3,1017.6 L1226.3,1018.2 L1227.3,1018.9 L1228.3,1019.6 L1229.3,1020.3 L1230.3,1021.0 L1231.3,1021.7 L1232.3,1022.4 L1233.3,1023.1 L1234.3,1023.8 L1235.3,1024.5 L1236.3,1025.3 L1237.3,1026.0 L1238.3,1026.7 L1239.3,1027.4 L1240.3,1028.1 L1241.3,1028.8 L1242.3,1029.5 L1243.3,1030.1 L1244.3,1030.8 L1245.3,1031.5 L1246.3,1032.1 L1247.3,1032.8 L1248.3,1033.4 L1249.3,1034.1 L1250.3,1034.7 L1251.3,1035.4 L1252.3,1036.0 L1253.3,1036.7 L1254.3,1037.3 L1255.3,1038.0 L1256.3,1038.6 L1257.3,1039.2 L1258.3,1039.9 L1259.3,1040.5 L1260.3,1041.2 L1261.3,1041.8 L1262.3,1042.5 L1263.3,1043.2 L1264.3,1043.8 L1265.3,1044.5 L1266.3,1045.2 L1267.3,1045.8 L1268.3,1046.5 L1269.3,1047.2 L1270.3,1047.8 L1271.3,1048.5 L1272.3,1049.1 L1273.3,1049.8 L1274.3,1050.4 L1275.3,1051.0 L1276.3,1051.6 L1277.3,1052.2 L1278.3,1052.8 L1279.3,1053.4 L1280.3,1054.0 L1281.3,1054.6 L1282.3,1055.2 L1283.3,1055.7 L1284.3,1056.3 L1285.3,1056.9 L1286.3,1057.4 L1287.3,1058.0 L1288.3,1058.5 L1289.3,1059.1 L1290.3,1059.6 L1291.3,1060.1 L1292.3,1060.6 L1293.3,1061.1 L1294.3,1061.6 L1295.3,1062.1 L1296.3,1062.6 L1297.3,1063.1 L1298.3,1063.6 L1299.3,1064.1 L1300.3,1064.6 L1301.3,1065.1 L1302.3,1065.5 L1303.3,1066.0 L1304.3,1066.5 L1305.3,1066.9 L1306.3,1067.3 L1307.3,1067.8 L1308.3,1068.2 L1309.3,1068.6 L1310.3,1069.0 L1311.3,1069.4 L1312.3,1069.7 L1313.3,1070.1 L1314.3,1070.4 L1315.3,1070.8 L1316.3,1071.1 L1317.3,1071.4 L1318.3,1071.8 L1319.3,1072.1 L1320.3,1072.4 L1321.3,1072.7 L1322.3,1073.0 L1323.3,1073.2 L1324.3,1073.5 L1325.3,1073.8 L1326.3,1074.1 L1327.3,1074.3 L1328.3,1074.6 L1329.3,1074.8 L1330.3,1075.0 L1331.3,1075.3 L1332.3,1075.5 L1333.3,1075.7 L1334.3,1076.0 L1335.3,1076.2 L1336.3,1076.4 L1337.3,1076.6 L1338.3,1076.8 L1339.3,1077.0 L1340.3,1077.2 L1341.3,1077.4 L1342.3,1077.5 L1343.3,1077.7 L1344.3,1077.9 L1345.3,1078.0 L1346.3,1078.2 L1347.3,1078.4 L1348.3,1078.5 L1349.3,1078.7 L1350.3,1078.8 L1351.3,1079.0 L1352.3,1079.1 L1353.3,1079.3 L1354.3,1079.4 L1355.3,1079.5 L1356.3,1079.7 L1357.3,1079.8 L1358.3,1079.9 L1359.3,1080.0 L1360.3,1080.2 L1361.3,1080.3 L1362.3,1080.4 L1363.3,1080.5 L1364.3,1080.6 L1365.3,1080.7 L1366.3,1080.8" fill="none" stroke="#000000" stroke-width="2.9" stroke-dasharray="9.5 5.7"/>
<rect x="1145.5" y="983.1" width="231.5" height="102.10000000000002" fill="none" stroke="#000" stroke-width="2.2"/>
<line x1="1155.2" y1="1085.2" x2="1155.2" y2="1095.7" stroke="#000" stroke-width="2.2"/>
<text transform="translate(1137.93,1120.50) scale(1.0306,1)" font-size="19.72" font-weight="normal" fill="#000" >103</text>
<line x1="1373.5" y1="1085.2" x2="1373.5" y2="1095.7" stroke="#000" stroke-width="2.2"/>
<text transform="translate(1356.23,1120.50) scale(1.0306,1)" font-size="19.72" font-weight="normal" fill="#000" >123</text>
<text transform="translate(1144.85,974.30) scale(1.1667,1)" font-size="20.00" font-weight="normal" fill="#000" >1e4</text>
<line x1="1142.0" y1="1026.6" x2="1145.5" y2="1026.6" stroke="#000" stroke-width="2.6"/>
<line x1="1142.0" y1="1084.2" x2="1145.5" y2="1084.2" stroke="#000" stroke-width="2.6"/>
<g fill="#0000ff"><circle cx="1155.8" cy="1272.0" r="2.7"/><circle cx="1163.2" cy="1270.8" r="2.7"/><circle cx="1170.6" cy="1269.1" r="2.7"/><circle cx="1177.8" cy="1267.9" r="2.7"/><circle cx="1185.1" cy="1265.6" r="2.7"/><circle cx="1192.5" cy="1263.9" r="2.7"/><circle cx="1199.9" cy="1261.3" r="2.7"/><circle cx="1207.1" cy="1258.2" r="2.7"/><circle cx="1214.3" cy="1254.5" r="2.7"/><circle cx="1221.7" cy="1251.9" r="2.7"/><circle cx="1228.6" cy="1247.2" r="2.7"/><circle cx="1236.0" cy="1242.4" r="2.7"/><circle cx="1243.2" cy="1238.1" r="2.7"/><circle cx="1250.5" cy="1233.0" r="2.7"/><circle cx="1257.8" cy="1227.3" r="2.7"/><circle cx="1265.2" cy="1223.5" r="2.7"/><circle cx="1272.1" cy="1217.5" r="2.7"/><circle cx="1279.4" cy="1212.8" r="2.7"/><circle cx="1286.6" cy="1207.7" r="2.7"/><circle cx="1294.0" cy="1203.2" r="2.7"/><circle cx="1301.4" cy="1199.8" r="2.7"/><circle cx="1308.3" cy="1195.6" r="2.7"/><circle cx="1315.5" cy="1191.2" r="2.7"/><circle cx="1322.7" cy="1187.7" r="2.7"/><circle cx="1330.1" cy="1185.3" r="2.7"/><circle cx="1337.5" cy="1182.7" r="2.7"/><circle cx="1344.7" cy="1180.5" r="2.7"/><circle cx="1352.0" cy="1180.8" r="2.7"/><circle cx="1359.4" cy="1180.5" r="2.7"/><circle cx="1366.8" cy="1181.0" r="2.7"/></g>
<path d="M1155.8,1272.5 L1156.8,1272.3 L1157.8,1272.1 L1158.8,1271.9 L1159.8,1271.7 L1160.8,1271.5 L1161.8,1271.3 L1162.8,1271.1 L1163.8,1270.8 L1164.8,1270.6 L1165.8,1270.4 L1166.8,1270.1 L1167.8,1269.9 L1168.8,1269.6 L1169.8,1269.4 L1170.8,1269.1 L1171.8,1268.9 L1172.8,1268.6 L1173.8,1268.4 L1174.8,1268.1 L1175.8,1267.8 L1176.8,1267.6 L1177.8,1267.3 L1178.8,1267.0 L1179.8,1266.7 L1180.8,1266.4 L1181.8,1266.1 L1182.8,1265.8 L1183.8,1265.5 L1184.8,1265.2 L1185.8,1264.9 L1186.8,1264.6 L1187.8,1264.3 L1188.8,1264.0 L1189.8,1263.6 L1190.8,1263.3 L1191.8,1263.0 L1192.8,1262.7 L1193.8,1262.3 L1194.8,1262.0 L1195.8,1261.7 L1196.8,1261.4 L1197.8,1261.0 L1198.8,1260.7 L1199.8,1260.4 L1200.8,1260.0 L1201.8,1259.7 L1202.8,1259.3 L1203.8,1259.0 L1204.8,1258.6 L1205.8,1258.2 L1206.8,1257.8 L1207.8,1257.4 L1208.8,1257.0 L1209.8,1256.6 L1210.8,1256.2 L1211.8,1255.7 L1212.8,1255.3 L1213.8,1254.8 L1214.8,1254.3 L1215.8,1253.8 L1216.8,1253.3 L1217.8,1252.8 L1218.8,1252.3 L1219.8,1251.8 L1220.8,1251.2 L1221.8,1250.7 L1222.8,1250.2 L1223.8,1249.6 L1224.8,1249.1 L1225.8,1248.5 L1226.8,1248.0 L1227.8,1247.4 L1228.8,1246.9 L1229.8,1246.3 L1230.8,1245.7 L1231.8,1245.2 L1232.8,1244.6 L1233.8,1244.0 L1234.8,1243.4 L1235.8,1242.8 L1236.8,1242.2 L1237.8,1241.5 L1238.8,1240.9 L1239.8,1240.3 L1240.8,1239.7 L1241.8,1239.0 L1242.8,1238.4 L1243.8,1237.7 L1244.8,1237.1 L1245.8,1236.4 L1246.8,1235.7 L1247.8,1235.0 L1248.8,1234.3 L1249.8,1233.6 L1250.8,1232.9 L1251.8,1232.2 L1252.8,1231.5 L1253.8,1230.8 L1254.8,1230.1 L1255.8,1229.3 L1256.8,1228.6 L1257.8,1227.9 L1258.8,1227.2 L1259.8,1226.5 L1260.8,1225.8 L1261.8,1225.1 L1262.8,1224.4 L1263.8,1223.7 L1264.8,1223.0 L1265.8,1222.3 L1266.8,1221.6 L1267.8,1220.8 L1268.8,1220.1 L1269.8,1219.4 L1270.8,1218.7 L1271.8,1218.0 L1272.8,1217.3 L1273.8,1216.6 L1274.8,1215.9 L1275.8,1215.3 L1276.8,1214.6 L1277.8,1213.9 L1278.8,1213.2 L1279.8,1212.6 L1280.8,1211.9 L1281.8,1211.2 L1282.8,1210.6 L1283.8,1209.9 L1284.8,1209.3 L1285.8,1208.6 L1286.8,1207.9 L1287.8,1207.3 L1288.8,1206.7 L1289.8,1206.0 L1290.8,1205.4 L1291.8,1204.7 L1292.8,1204.1 L1293.8,1203.5 L1294.8,1202.9 L1295.8,1202.2 L1296.8,1201.6 L1297.8,1201.0 L1298.8,1200.3 L1299.8,1199.7 L1300.8,1199.1 L1301.8,1198.4 L1302.8,1197.8 L1303.8,1197.2 L1304.8,1196.6 L1305.8,1196.0 L1306.8,1195.4 L1307.8,1194.8 L1308.8,1194.2 L1309.8,1193.7 L1310.8,1193.1 L1311.8,1192.6 L1312.8,1192.1 L1313.8,1191.7 L1314.8,1191.2 L1315.8,1190.7 L1316.8,1190.2 L1317.8,1189.8 L1318.8,1189.3 L1319.8,1188.9 L1320.8,1188.4 L1321.8,1188.0 L1322.8,1187.6 L1323.8,1187.2 L1324.8,1186.8 L1325.8,1186.5 L1326.8,1186.1 L1327.8,1185.8 L1328.8,1185.4 L1329.8,1185.1 L1330.8,1184.8 L1331.8,1184.5 L1332.8,1184.2 L1333.8,1183.9 L1334.8,1183.6 L1335.8,1183.3 L1336.8,1183.1 L1337.8,1182.8 L1338.8,1182.6 L1339.8,1182.3 L1340.8,1182.1 L1341.8,1181.9 L1342.8,1181.6 L1343.8,1181.5 L1344.8,1181.3 L1345.8,1181.1 L1346.8,1180.9 L1347.8,1180.8 L1348.8,1180.6 L1349.8,1180.5 L1350.8,1180.4 L1351.8,1180.2 L1352.8,1180.1 L1353.8,1180.0 L1354.8,1179.8 L1355.8,1179.7 L1356.8,1179.6 L1357.8,1179.5 L1358.8,1179.4 L1359.8,1179.3 L1360.8,1179.3 L1361.8,1179.2 L1362.8,1179.1" fill="none" stroke="#ff0000" stroke-width="2.9" stroke-dasharray="9.5 5.7"/>
<rect x="1145.5" y="1173.3" width="231.5" height="102.79999999999995" fill="none" stroke="#000" stroke-width="2.2"/>
<line x1="1157.4" y1="1276.1" x2="1157.4" y2="1286.6" stroke="#000" stroke-width="2.2"/>
<text transform="translate(1146.09,1311.40) scale(1.0290,1)" font-size="19.72" font-weight="normal" fill="#000" >50</text>
<line x1="1375.6" y1="1276.1" x2="1375.6" y2="1286.6" stroke="#000" stroke-width="2.2"/>
<text transform="translate(1364.08,1311.40) scale(1.0390,1)" font-size="19.72" font-weight="normal" fill="#000" >70</text>
<text transform="translate(1144.85,1164.50) scale(1.1667,1)" font-size="20.00" font-weight="normal" fill="#000" >1e4</text>
<line x1="1142.0" y1="1200.3" x2="1145.5" y2="1200.3" stroke="#000" stroke-width="2.6"/>
<line x1="1142.0" y1="1275.5" x2="1145.5" y2="1275.5" stroke="#000" stroke-width="2.6"/>
<g fill="#ffa500"><circle cx="1155.8" cy="1370.3" r="2.5"/><circle cx="1157.3" cy="1370.2" r="2.5"/><circle cx="1158.8" cy="1371.7" r="2.5"/><circle cx="1160.3" cy="1371.4" r="2.5"/><circle cx="1161.8" cy="1369.7" r="2.5"/><circle cx="1163.3" cy="1371.0" r="2.5"/><circle cx="1164.8" cy="1369.4" r="2.5"/><circle cx="1166.3" cy="1370.0" r="2.5"/><circle cx="1167.8" cy="1369.4" r="2.5"/><circle cx="1169.3" cy="1369.2" r="2.5"/><circle cx="1170.8" cy="1369.7" r="2.5"/><circle cx="1172.3" cy="1369.2" r="2.5"/><circle cx="1173.8" cy="1370.6" r="2.5"/><circle cx="1175.3" cy="1370.9" r="2.5"/><circle cx="1176.8" cy="1370.1" r="2.5"/><circle cx="1178.3" cy="1369.6" r="2.5"/><circle cx="1179.8" cy="1371.9" r="2.5"/><circle cx="1181.3" cy="1369.6" r="2.5"/><circle cx="1182.8" cy="1370.2" r="2.5"/><circle cx="1184.3" cy="1373.4" r="2.5"/><circle cx="1185.8" cy="1374.2" r="2.5"/><circle cx="1187.3" cy="1375.5" r="2.5"/><circle cx="1188.8" cy="1375.2" r="2.5"/><circle cx="1190.3" cy="1374.8" r="2.5"/><circle cx="1191.8" cy="1376.0" r="2.5"/><circle cx="1193.3" cy="1377.2" r="2.5"/><circle cx="1194.8" cy="1376.0" r="2.5"/><circle cx="1196.3" cy="1376.2" r="2.5"/><circle cx="1197.8" cy="1375.6" r="2.5"/><circle cx="1199.3" cy="1376.0" r="2.5"/><circle cx="1200.8" cy="1378.4" r="2.5"/><circle cx="1202.3" cy="1379.5" r="2.5"/><circle cx="1203.8" cy="1379.8" r="2.5"/><circle cx="1205.3" cy="1381.4" r="2.5"/><circle cx="1206.8" cy="1382.7" r="2.5"/><circle cx="1208.3" cy="1384.4" r="2.5"/><circle cx="1209.8" cy="1383.2" r="2.5"/><circle cx="1211.3" cy="1384.7" r="2.5"/><circle cx="1212.8" cy="1383.3" r="2.5"/><circle cx="1214.3" cy="1384.8" r="2.5"/><circle cx="1215.8" cy="1387.4" r="2.5"/><circle cx="1217.3" cy="1388.8" r="2.5"/><circle cx="1218.8" cy="1387.7" r="2.5"/><circle cx="1220.3" cy="1389.1" r="2.5"/><circle cx="1221.8" cy="1391.5" r="2.5"/><circle cx="1223.3" cy="1391.0" r="2.5"/><circle cx="1224.8" cy="1391.5" r="2.5"/><circle cx="1226.3" cy="1393.1" r="2.5"/><circle cx="1227.8" cy="1393.3" r="2.5"/><circle cx="1229.3" cy="1394.8" r="2.5"/><circle cx="1230.8" cy="1395.2" r="2.5"/><circle cx="1232.3" cy="1394.5" r="2.5"/><circle cx="1233.8" cy="1395.9" r="2.5"/><circle cx="1235.3" cy="1396.9" r="2.5"/><circle cx="1236.8" cy="1396.5" r="2.5"/><circle cx="1238.3" cy="1397.9" r="2.5"/><circle cx="1239.8" cy="1400.7" r="2.5"/><circle cx="1241.3" cy="1398.9" r="2.5"/><circle cx="1242.8" cy="1402.3" r="2.5"/><circle cx="1244.3" cy="1402.4" r="2.5"/><circle cx="1245.8" cy="1402.6" r="2.5"/><circle cx="1247.3" cy="1403.9" r="2.5"/><circle cx="1248.8" cy="1404.5" r="2.5"/><circle cx="1250.3" cy="1406.0" r="2.5"/><circle cx="1251.8" cy="1405.0" r="2.5"/><circle cx="1253.3" cy="1405.7" r="2.5"/><circle cx="1254.8" cy="1406.1" r="2.5"/><circle cx="1256.3" cy="1408.4" r="2.5"/><circle cx="1257.8" cy="1407.5" r="2.5"/><circle cx="1259.3" cy="1405.6" r="2.5"/><circle cx="1260.8" cy="1406.2" r="2.5"/><circle cx="1262.3" cy="1405.9" r="2.5"/><circle cx="1263.8" cy="1407.6" r="2.5"/><circle cx="1265.3" cy="1409.8" r="2.5"/><circle cx="1266.8" cy="1413.7" r="2.5"/><circle cx="1268.3" cy="1410.4" r="2.5"/><circle cx="1269.8" cy="1413.9" r="2.5"/><circle cx="1271.3" cy="1413.8" r="2.5"/><circle cx="1272.8" cy="1413.1" r="2.5"/><circle cx="1274.3" cy="1414.2" r="2.5"/><circle cx="1275.8" cy="1414.6" r="2.5"/><circle cx="1277.3" cy="1416.3" r="2.5"/><circle cx="1278.8" cy="1418.8" r="2.5"/><circle cx="1280.3" cy="1417.9" r="2.5"/><circle cx="1281.8" cy="1422.4" r="2.5"/><circle cx="1283.3" cy="1422.2" r="2.5"/><circle cx="1284.8" cy="1425.3" r="2.5"/><circle cx="1286.3" cy="1425.4" r="2.5"/><circle cx="1287.8" cy="1427.4" r="2.5"/><circle cx="1289.3" cy="1427.9" r="2.5"/><circle cx="1290.8" cy="1429.6" r="2.5"/><circle cx="1292.3" cy="1429.7" r="2.5"/><circle cx="1293.8" cy="1430.0" r="2.5"/><circle cx="1295.3" cy="1432.7" r="2.5"/><circle cx="1296.8" cy="1433.9" r="2.5"/><circle cx="1298.3" cy="1436.5" r="2.5"/><circle cx="1299.8" cy="1433.7" r="2.5"/><circle cx="1301.3" cy="1436.9" r="2.5"/><circle cx="1302.8" cy="1439.7" r="2.5"/><circle cx="1304.3" cy="1439.0" r="2.5"/><circle cx="1305.8" cy="1441.6" r="2.5"/><circle cx="1307.3" cy="1445.4" r="2.5"/><circle cx="1308.8" cy="1446.0" r="2.5"/><circle cx="1310.3" cy="1444.9" r="2.5"/><circle cx="1311.8" cy="1448.4" r="2.5"/><circle cx="1313.3" cy="1449.2" r="2.5"/><circle cx="1314.8" cy="1449.8" r="2.5"/><circle cx="1316.3" cy="1450.3" r="2.5"/><circle cx="1317.8" cy="1451.0" r="2.5"/><circle cx="1319.3" cy="1450.8" r="2.5"/><circle cx="1320.8" cy="1451.9" r="2.5"/><circle cx="1322.3" cy="1453.9" r="2.5"/><circle cx="1323.8" cy="1454.0" r="2.5"/><circle cx="1325.3" cy="1456.4" r="2.5"/><circle cx="1326.8" cy="1454.9" r="2.5"/><circle cx="1328.3" cy="1453.4" r="2.5"/><circle cx="1329.8" cy="1456.1" r="2.5"/><circle cx="1331.3" cy="1457.3" r="2.5"/><circle cx="1332.8" cy="1458.0" r="2.5"/><circle cx="1334.3" cy="1458.2" r="2.5"/><circle cx="1335.8" cy="1457.9" r="2.5"/><circle cx="1337.3" cy="1460.7" r="2.5"/><circle cx="1338.8" cy="1459.0" r="2.5"/><circle cx="1340.3" cy="1460.8" r="2.5"/><circle cx="1341.8" cy="1460.2" r="2.5"/><circle cx="1343.3" cy="1459.7" r="2.5"/><circle cx="1344.8" cy="1462.7" r="2.5"/><circle cx="1346.3" cy="1459.1" r="2.5"/><circle cx="1347.8" cy="1461.2" r="2.5"/><circle cx="1349.3" cy="1462.7" r="2.5"/><circle cx="1350.8" cy="1462.1" r="2.5"/><circle cx="1352.3" cy="1463.3" r="2.5"/><circle cx="1353.8" cy="1462.4" r="2.5"/><circle cx="1355.3" cy="1462.0" r="2.5"/><circle cx="1356.8" cy="1464.7" r="2.5"/><circle cx="1358.3" cy="1462.3" r="2.5"/><circle cx="1359.8" cy="1462.3" r="2.5"/><circle cx="1361.3" cy="1461.4" r="2.5"/><circle cx="1362.8" cy="1461.6" r="2.5"/><circle cx="1364.3" cy="1462.7" r="2.5"/><circle cx="1365.8" cy="1462.4" r="2.5"/></g>
<path d="M1155.8,1374.8 L1156.8,1374.8 L1157.8,1374.8 L1158.8,1374.8 L1159.8,1374.8 L1160.8,1374.9 L1161.8,1374.9 L1162.8,1374.9 L1163.8,1375.0 L1164.8,1375.0 L1165.8,1375.1 L1166.8,1375.1 L1167.8,1375.2 L1168.8,1375.3 L1169.8,1375.3 L1170.8,1375.4 L1171.8,1375.5 L1172.8,1375.5 L1173.8,1375.6 L1174.8,1375.7 L1175.8,1375.8 L1176.8,1375.9 L1177.8,1376.0 L1178.8,1376.1 L1179.8,1376.2 L1180.8,1376.4 L1181.8,1376.5 L1182.8,1376.7 L1183.8,1376.8 L1184.8,1377.0 L1185.8,1377.2 L1186.8,1377.3 L1187.8,1377.5 L1188.8,1377.7 L1189.8,1377.9 L1190.8,1378.1 L1191.8,1378.3 L1192.8,1378.5 L1193.8,1378.7 L1194.8,1378.9 L1195.8,1379.1 L1196.8,1379.3 L1197.8,1379.6 L1198.8,1379.8 L1199.8,1380.1 L1200.8,1380.3 L1201.8,1380.6 L1202.8,1380.8 L1203.8,1381.1 L1204.8,1381.4 L1205.8,1381.7 L1206.8,1382.0 L1207.8,1382.2 L1208.8,1382.5 L1209.8,1382.8 L1210.8,1383.1 L1211.8,1383.4 L1212.8,1383.7 L1213.8,1384.1 L1214.8,1384.4 L1215.8,1384.7 L1216.8,1385.1 L1217.8,1385.4 L1218.8,1385.8 L1219.8,1386.1 L1220.8,1386.5 L1221.8,1386.9 L1222.8,1387.3 L1223.8,1387.7 L1224.8,1388.1 L1225.8,1388.5 L1226.8,1388.9 L1227.8,1389.3 L1228.8,1389.8 L1229.8,1390.2 L1230.8,1390.7 L1231.8,1391.2 L1232.8,1391.7 L1233.8,1392.2 L1234.8,1392.7 L1235.8,1393.2 L1236.8,1393.7 L1237.8,1394.2 L1238.8,1394.8 L1239.8,1395.3 L1240.8,1395.8 L1241.8,1396.4 L1242.8,1396.9 L1243.8,1397.5 L1244.8,1398.0 L1245.8,1398.6 L1246.8,1399.1 L1247.8,1399.7 L1248.8,1400.3 L1249.8,1400.9 L1250.8,1401.5 L1251.8,1402.1 L1252.8,1402.7 L1253.8,1403.3 L1254.8,1403.9 L1255.8,1404.5 L1256.8,1405.1 L1257.8,1405.8 L1258.8,1406.4 L1259.8,1407.1 L1260.8,1407.7 L1261.8,1408.4 L1262.8,1409.1 L1263.8,1409.8 L1264.8,1410.6 L1265.8,1411.3 L1266.8,1412.1 L1267.8,1412.8 L1268.8,1413.6 L1269.8,1414.4 L1270.8,1415.1 L1271.8,1415.9 L1272.8,1416.7 L1273.8,1417.5 L1274.8,1418.2 L1275.8,1419.0 L1276.8,1419.8 L1277.8,1420.5 L1278.8,1421.3 L1279.8,1422.0 L1280.8,1422.8 L1281.8,1423.5 L1282.8,1424.3 L1283.8,1425.0 L1284.8,1425.8 L1285.8,1426.5 L1286.8,1427.3 L1287.8,1428.0 L1288.8,1428.8 L1289.8,1429.5 L1290.8,1430.3 L1291.8,1431.0 L1292.8,1431.8 L1293.8,1432.5 L1294.8,1433.3 L1295.8,1434.0 L1296.8,1434.8 L1297.8,1435.6 L1298.8,1436.4 L1299.8,1437.1 L1300.8,1437.9 L1301.8,1438.7 L1302.8,1439.5 L1303.8,1440.3 L1304.8,1441.1 L1305.8,1441.8 L1306.8,1442.6 L1307.8,1443.3 L1308.8,1444.0 L1309.8,1444.7 L1310.8,1445.4 L1311.8,1446.0 L1312.8,1446.7 L1313.8,1447.3 L1314.8,1447.9 L1315.8,1448.6 L1316.8,1449.2 L1317.8,1449.8 L1318.8,1450.4 L1319.8,1451.0 L1320.8,1451.5 L1321.8,1452.1 L1322.8,1452.6 L1323.8,1453.2 L1324.8,1453.7 L1325.8,1454.2 L1326.8,1454.6 L1327.8,1455.1 L1328.8,1455.5 L1329.8,1455.9 L1330.8,1456.3 L1331.8,1456.6 L1332.8,1457.0 L1333.8,1457.4 L1334.8,1457.7 L1335.8,1458.1 L1336.8,1458.4 L1337.8,1458.7 L1338.8,1459.0 L1339.8,1459.3 L1340.8,1459.6 L1341.8,1459.8 L1342.8,1460.1 L1343.8,1460.3 L1344.8,1460.5 L1345.8,1460.7 L1346.8,1460.9 L1347.8,1461.0 L1348.8,1461.2 L1349.8,1461.4 L1350.8,1461.5 L1351.8,1461.7 L1352.8,1461.8 L1353.8,1462.0 L1354.8,1462.1 L1355.8,1462.2 L1356.8,1462.3 L1357.8,1462.5 L1358.8,1462.6 L1359.8,1462.7 L1360.8,1462.8 L1361.8,1462.8 L1362.8,1462.9 L1363.8,1463.0 L1364.8,1463.0 L1365.8,1463.0" fill="none" stroke="#000000" stroke-width="2.9" stroke-dasharray="9.5 5.7"/>
<rect x="1145.5" y="1364.4" width="231.5" height="103.19999999999982" fill="none" stroke="#000" stroke-width="2.2"/>
<line x1="1156.3" y1="1467.6" x2="1156.3" y2="1478.1" stroke="#000" stroke-width="2.2"/>
<text transform="translate(1144.99,1502.90) scale(1.0290,1)" font-size="19.72" font-weight="normal" fill="#000" >30</text>
<line x1="1369.2" y1="1467.6" x2="1369.2" y2="1478.1" stroke="#000" stroke-width="2.2"/>
<text transform="translate(1357.78,1502.90) scale(1.0340,1)" font-size="19.72" font-weight="normal" fill="#000" >90</text>
<text transform="translate(1144.85,1355.60) scale(1.1667,1)" font-size="20.00" font-weight="normal" fill="#000" >1e4</text>
<line x1="1142.0" y1="1409.7" x2="1145.5" y2="1409.7" stroke="#000" stroke-width="2.6"/>
<line x1="1142.0" y1="1464.2" x2="1145.5" y2="1464.2" stroke="#000" stroke-width="2.6"/>
<rect x="499.7" y="52.2" width="316.4" height="95" rx="4" fill="#fff" fill-opacity="0.8" stroke="#cccccc" stroke-width="1.3"/>
<circle cx="541.9" cy="78.3" r="11.8" fill="#0000ff"/>
<circle cx="541.9" cy="121.6" r="11.8" fill="#ffa500"/>
<circle cx="723.5" cy="78.3" r="11.8" fill="#008000"/>
<text transform="translate(596.00,85.56) scale(1.0672,1)" font-size="30.67" font-weight="normal" fill="#000" >Ag</text>
<text transform="translate(596.00,130.00) scale(1.0771,1)" font-size="30.34" font-weight="normal" fill="#000" >Al</text>
<text transform="translate(776.88,86.19) scale(1.0285,1)" font-size="30.61" font-weight="normal" fill="#000" >Si</text>
<text transform="translate(-2.50,194.04) scale(0.9909,1)" font-size="76.34" font-weight="normal" fill="#000" >S2</text>
<text transform="translate(-2.76,577.25) scale(0.9935,1)" font-size="75.07" font-weight="normal" fill="#000" >S4</text>
<text transform="translate(-2.79,961.83) scale(0.9802,1)" font-size="76.76" font-weight="normal" fill="#000" >S5</text>
<text transform="translate(-2.79,1346.04) scale(0.9911,1)" font-size="75.92" font-weight="normal" fill="#000" >S6</text>
<text transform="translate(168.32,241.26) rotate(-90) scale(1.0151,1)" font-size="28.03" font-weight="normal" fill="#000" >Ion Counts</text>
<text transform="translate(170.32,640.16) rotate(-90) scale(1.0143,1)" font-size="28.03" font-weight="normal" fill="#000" >Ion Counts</text>
<text transform="translate(170.32,1013.06) rotate(-90) scale(1.0143,1)" font-size="28.03" font-weight="normal" fill="#000" >Ion Counts</text>
<text transform="translate(121.79,1404.88) rotate(-90) scale(1.0538,1)" font-size="31.41" font-weight="normal" fill="#000" >Ion Counts</text>
<text transform="translate(578.79,1534.99) scale(1.1293,1)" font-size="25.78" font-weight="normal" fill="#000" >Sputter Time (s)</text>
<text transform="translate(1151.70,1534.83) scale(1.2437,1)" font-size="23.21" font-weight="normal" fill="#000" >Sputter Time (s)</text>
<text transform="translate(100.53,52.23) scale(0.9724,1)" font-size="57.09" font-weight="bold" fill="#000" >a</text>
<text transform="translate(1101.78,44.43) scale(1.0864,1)" font-size="56.87" font-weight="bold" fill="#000" >b</text>
<text transform="translate(1104.40,236.03) scale(1.0577,1)" font-size="56.73" font-weight="bold" fill="#000" >c</text>
<text transform="translate(98.25,429.75) scale(1.1515,1)" font-size="55.37" font-weight="bold" fill="#000" >d</text>
<text transform="translate(1102.10,428.23) scale(1.1458,1)" font-size="56.73" font-weight="bold" fill="#000" >e</text>
<text transform="translate(1108.99,621.00) scale(1.1936,1)" font-size="56.55" font-weight="bold" fill="#000" >f</text>
<text transform="translate(98.15,805.77) scale(1.1874,1)" font-size="55.87" font-weight="bold" fill="#000" >g</text>
<text transform="translate(1102.56,813.00) scale(1.1071,1)" font-size="54.76" font-weight="bold" fill="#000" >h</text>
<text transform="translate(1110.95,1005.20) scale(1.2881,1)" font-size="54.90" font-weight="bold" fill="#000" >i</text>
<text transform="translate(109.61,1182.22) scale(1.6020,1)" font-size="54.65" font-weight="bold" fill="#000" >j</text>
<text transform="translate(1100.36,1198.00) scale(1.1028,1)" font-size="56.28" font-weight="bold" fill="#000" >k</text>
<text transform="translate(1112.20,1390.20) scale(1.1190,1)" font-size="54.90" font-weight="bold" fill="#000" >l</text>
</svg>
</body></html>
